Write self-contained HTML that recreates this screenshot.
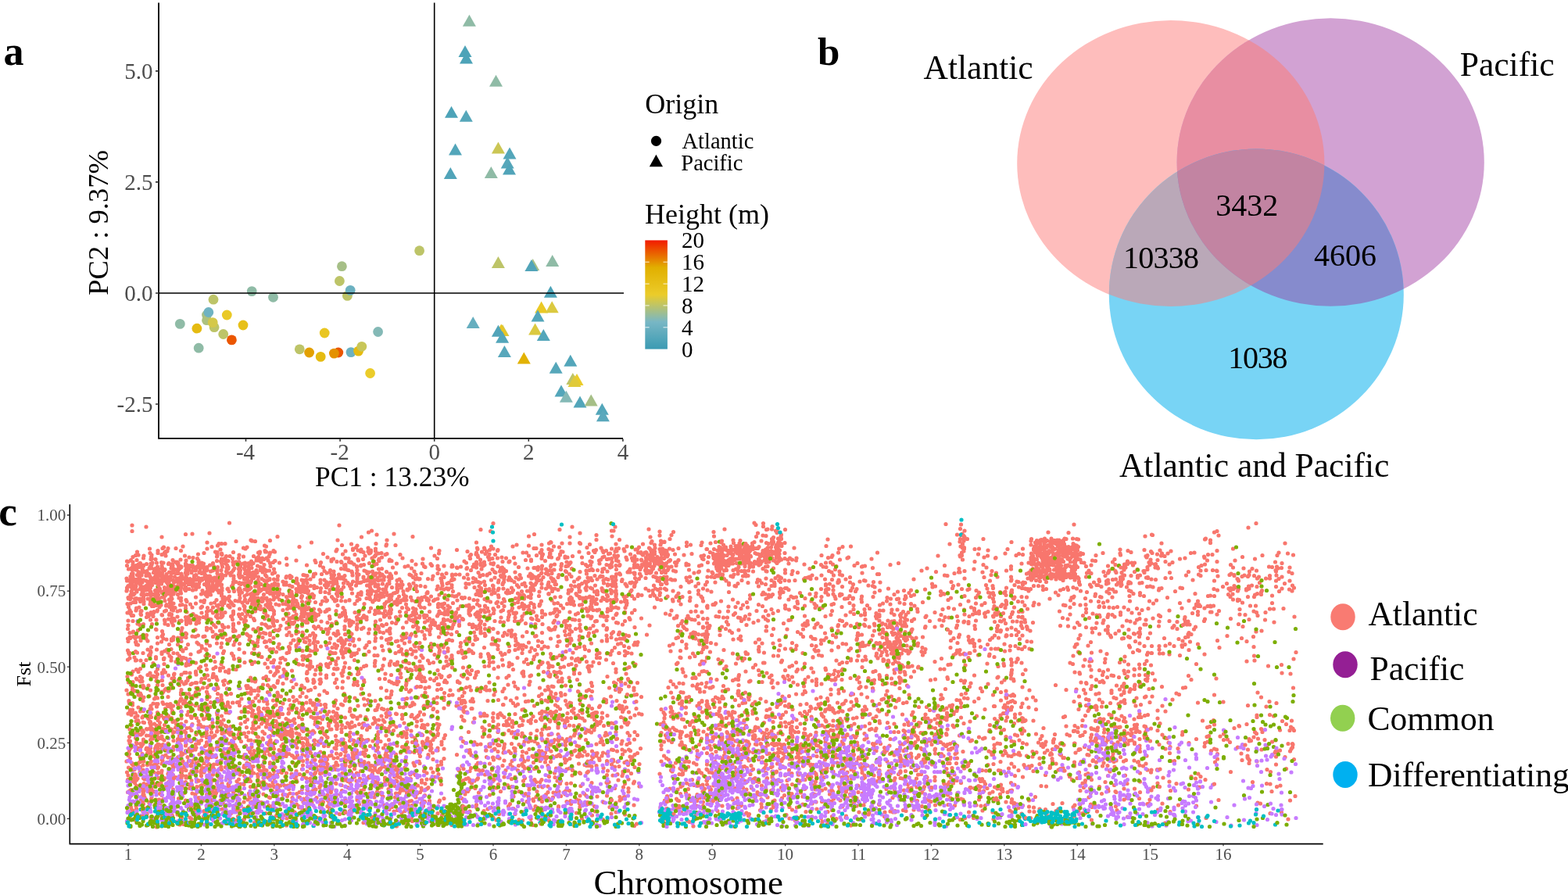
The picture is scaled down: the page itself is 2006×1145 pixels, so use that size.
<!DOCTYPE html>
<html><head><meta charset="utf-8"><title>Figure</title>
<style>html,body{margin:0;padding:0;background:#fff;}svg{display:block;}</style></head>
<body><svg width="2006" height="1145" viewBox="0 0 2006 1145">
<rect width="2006" height="1145" fill="#fff"/>
<g id="pa">
<circle cx="230.3" cy="414.4" r="6.4" fill="#8fbba6"/>
<circle cx="251.9" cy="420.2" r="6.4" fill="#e5bb11"/>
<circle cx="254.2" cy="445.2" r="6.4" fill="#8fbba6"/>
<circle cx="264.5" cy="403" r="6.4" fill="#a6bf87"/>
<circle cx="264.5" cy="409.7" r="6.4" fill="#adc17e"/>
<circle cx="266.8" cy="399.5" r="6.4" fill="#6fb3c2"/>
<circle cx="273" cy="383.2" r="6.4" fill="#bdc468"/>
<circle cx="274.1" cy="418.7" r="6.4" fill="#bdc468"/>
<circle cx="272.2" cy="412.6" r="6.4" fill="#d4c849"/>
<circle cx="285.7" cy="427.5" r="6.4" fill="#bdc468"/>
<circle cx="290.3" cy="403" r="6.4" fill="#eac926"/>
<circle cx="296.4" cy="434.9" r="6.4" fill="#eb5600"/>
<circle cx="311" cy="416" r="6.4" fill="#e7c019"/>
<circle cx="322.2" cy="372.6" r="6.4" fill="#8fbba6"/>
<circle cx="349.5" cy="380.3" r="6.4" fill="#8fbba6"/>
<circle cx="383.3" cy="446.8" r="6.4" fill="#bdc468"/>
<circle cx="395.6" cy="451" r="6.4" fill="#e3a000"/>
<circle cx="410.2" cy="456.4" r="6.4" fill="#e5bb11"/>
<circle cx="415.2" cy="426" r="6.4" fill="#e9c622"/>
<circle cx="432.8" cy="451" r="6.4" fill="#eb5600"/>
<circle cx="427.4" cy="452.1" r="6.4" fill="#e49100"/>
<circle cx="449" cy="450.6" r="6.4" fill="#6cb1c1"/>
<circle cx="458.6" cy="449.1" r="6.4" fill="#e5bb11"/>
<circle cx="462.8" cy="443.3" r="6.4" fill="#c8c658"/>
<circle cx="483.6" cy="424.5" r="6.4" fill="#84b9b6"/>
<circle cx="473.6" cy="477.5" r="6.4" fill="#ebcc2a"/>
<circle cx="437.4" cy="340.7" r="6.4" fill="#a6bf87"/>
<circle cx="434.4" cy="359.5" r="6.4" fill="#bdc468"/>
<circle cx="444.4" cy="378.4" r="6.4" fill="#bdc468"/>
<circle cx="448.2" cy="371.4" r="6.4" fill="#6cb1c1"/>
<circle cx="536.6" cy="320.7" r="6.4" fill="#bdc468"/>
<path d="M600.4 18.8l8.5 15h-17z" fill="#8fbba6"/>
<path d="M595.0 58.0l8.5 15h-17z" fill="#4da3b8"/>
<path d="M596.5 66.5l8.5 15h-17z" fill="#4da3b8"/>
<path d="M634.5 95.8l8.5 15h-17z" fill="#8fbba6"/>
<path d="M577.5 135.8l8.5 15h-17z" fill="#4da3b8"/>
<path d="M596.3 140.8l8.5 15h-17z" fill="#56a7ba"/>
<path d="M582.5 183.5l8.5 15h-17z" fill="#53a6ba"/>
<path d="M637.4 181.6l8.5 15h-17z" fill="#cbc655"/>
<path d="M652.0 188.5l8.5 15h-17z" fill="#53a6ba"/>
<path d="M649.2 200.5l8.5 15h-17z" fill="#56a7ba"/>
<path d="M651.5 208.5l8.5 15h-17z" fill="#51a4b9"/>
<path d="M628.3 213.0l8.5 15h-17z" fill="#8fbba6"/>
<path d="M576.3 213.9l8.5 15h-17z" fill="#51a4b9"/>
<path d="M637.4 327.9l8.5 15h-17z" fill="#bdc468"/>
<path d="M681.7 331.0l8.5 15h-17z" fill="#a6bf87"/>
<path d="M679.9 332.0l8.5 15h-17z" fill="#51a4b9"/>
<path d="M706.7 326.0l8.5 15h-17z" fill="#8fbba6"/>
<path d="M704.4 365.8l8.5 15h-17z" fill="#4da3b8"/>
<path d="M692.6 385.4l8.5 15h-17z" fill="#eac926"/>
<path d="M706.2 385.2l8.5 15h-17z" fill="#dbc940"/>
<path d="M688.0 396.5l8.5 15h-17z" fill="#53a6ba"/>
<path d="M605.2 405.1l8.5 15h-17z" fill="#66aebf"/>
<path d="M643.0 415.0l8.5 15h-17z" fill="#d4c849"/>
<path d="M641.2 414.5l8.5 15h-17z" fill="#e9c622"/>
<path d="M637.4 415.8l8.5 15h-17z" fill="#51a4b9"/>
<path d="M642.6 423.8l8.5 15h-17z" fill="#53a6ba"/>
<path d="M684.6 413.5l8.5 15h-17z" fill="#dbc940"/>
<path d="M695.3 421.0l8.5 15h-17z" fill="#53a6ba"/>
<path d="M645.4 442.0l8.5 15h-17z" fill="#57a7bb"/>
<path d="M670.3 450.5l8.5 15h-17z" fill="#e2b204"/>
<path d="M729.8 453.7l8.5 15h-17z" fill="#53a6ba"/>
<path d="M711.2 462.8l8.5 15h-17z" fill="#56a7ba"/>
<path d="M732.8 477.0l8.5 15h-17z" fill="#bdc468"/>
<path d="M738.0 478.0l8.5 15h-17z" fill="#ebcc2a"/>
<path d="M735.0 480.0l8.5 15h-17z" fill="#e0ca3a"/>
<path d="M718.0 492.5l8.5 15h-17z" fill="#53a6ba"/>
<path d="M724.4 499.8l8.5 15h-17z" fill="#84b9b6"/>
<path d="M742.0 506.6l8.5 15h-17z" fill="#53a6ba"/>
<path d="M756.2 504.4l8.5 15h-17z" fill="#a6bf87"/>
<path d="M770.3 515.7l8.5 15h-17z" fill="#53a6ba"/>
<path d="M771.4 524.3l8.5 15h-17z" fill="#5aa8bc"/>
<path d="M203 375H798M555.7 3.4V560.8" stroke="#000" stroke-width="1.6" fill="none"/>
<path d="M203 3.4V561.7M202.2 560.8H797" stroke="#000" stroke-width="1.8" fill="none"/>
<path d="M314.5 561.5v3.3M435.1 561.5v3.3M555.7 561.5v3.3M676.3 561.5v3.3M796.9 561.5v3.3M199 90.9h4M199 232.9h4M199 375.0h4M199 517.0h4" stroke="#333" stroke-width="1.6" fill="none"/>
<g font-family="Liberation Serif, Times New Roman, serif" fill="#4d4d4d">
<text x="195.5" y="100.6" font-size="29" text-anchor="end" fill="#4d4d4d">5.0</text>
<text x="195.5" y="242.6" font-size="29" text-anchor="end" fill="#4d4d4d">2.5</text>
<text x="195.5" y="384.7" font-size="29" text-anchor="end" fill="#4d4d4d">0.0</text>
<text x="195.5" y="526.8" font-size="29" text-anchor="end" fill="#4d4d4d">-2.5</text>
<text x="314.0" y="587.6" font-size="29" text-anchor="middle" fill="#4d4d4d">-4</text>
<text x="434.6" y="587.6" font-size="29" text-anchor="middle" fill="#4d4d4d">-2</text>
<text x="555.7" y="587.6" font-size="29" text-anchor="middle" fill="#4d4d4d">0</text>
<text x="676.3" y="587.6" font-size="29" text-anchor="middle" fill="#4d4d4d">2</text>
<text x="796.9" y="587.6" font-size="29" text-anchor="middle" fill="#4d4d4d">4</text>
</g>
<g font-family="Liberation Serif, Times New Roman, serif">
<text x="501.8" y="622.3" font-size="35.4" text-anchor="middle" fill="#000">PC1 : 13.23%</text>
<text transform="translate(138.1 284.9) rotate(-90)" font-size="36.5" text-anchor="middle">PC2 : 9.37%</text>
<text x="825.2" y="144.9" font-size="36" text-anchor="start" fill="#000">Origin</text>
<circle cx="839.5" cy="180.4" r="6.6" fill="#000"/>
<path d="M839.4 197.8l8.6 15.4h-17.2z" fill="#000"/>
<text x="872.5" y="190.2" font-size="28.5" text-anchor="start" fill="#000">Atlantic</text>
<text x="871.3" y="217.9" font-size="28.5" text-anchor="start" fill="#000">Pacific</text>
<text x="825.0" y="286.1" font-size="36" text-anchor="start" fill="#000">Height (m)</text>
</g>
<defs><linearGradient id="cb" x1="0" y1="1" x2="0" y2="0"><stop offset="0.00" stop-color="#3b9ab2"/><stop offset="0.05" stop-color="#47a0b6"/><stop offset="0.10" stop-color="#53a6ba"/><stop offset="0.15" stop-color="#60abbd"/><stop offset="0.20" stop-color="#6cb1c1"/><stop offset="0.25" stop-color="#78b7c5"/><stop offset="0.30" stop-color="#8fbba6"/><stop offset="0.35" stop-color="#a6bf87"/><stop offset="0.40" stop-color="#bdc468"/><stop offset="0.45" stop-color="#d4c849"/><stop offset="0.50" stop-color="#ebcc2a"/><stop offset="0.55" stop-color="#e9c622"/><stop offset="0.60" stop-color="#e7c019"/><stop offset="0.65" stop-color="#e5bb11"/><stop offset="0.70" stop-color="#e3b508"/><stop offset="0.75" stop-color="#e1af00"/><stop offset="0.80" stop-color="#e49100"/><stop offset="0.85" stop-color="#e87300"/><stop offset="0.90" stop-color="#eb5600"/><stop offset="0.95" stop-color="#ef3800"/><stop offset="1.00" stop-color="#f21a00"/></linearGradient></defs>
<rect x="825.3" y="307.4" width="28.6" height="139.2" fill="url(#cb)"/>
<path d="M825.3 418.8h5.4M848.5 418.8h5.4M825.3 390.9h5.4M848.5 390.9h5.4M825.3 363.1h5.4M848.5 363.1h5.4M825.3 335.2h5.4M848.5 335.2h5.4" stroke="#fff" stroke-width="1" opacity="0.85"/>
<g font-family="Liberation Serif, Times New Roman, serif">
<text x="872.0" y="456.6" font-size="29" text-anchor="start" fill="#000">0</text>
<text x="872.0" y="428.8" font-size="29" text-anchor="start" fill="#000">4</text>
<text x="872.0" y="400.9" font-size="29" text-anchor="start" fill="#000">8</text>
<text x="872.0" y="373.1" font-size="29" text-anchor="start" fill="#000">12</text>
<text x="872.0" y="345.2" font-size="29" text-anchor="start" fill="#000">16</text>
<text x="872.0" y="317.4" font-size="29" text-anchor="start" fill="#000">20</text>
</g>
</g>
<defs><clipPath id="cA"><ellipse cx="1497.8" cy="209" rx="196.6" ry="183"/></clipPath><clipPath id="cP"><ellipse cx="1702.2" cy="207.5" rx="196.6" ry="184.3"/></clipPath></defs>
<ellipse cx="1497.8" cy="209" rx="196.6" ry="183" fill="#febdbc"/>
<ellipse cx="1702.2" cy="207.5" rx="196.6" ry="184.3" fill="#d2a2d3"/>
<ellipse cx="1702.2" cy="207.5" rx="196.6" ry="184.3" fill="#e88ea2" clip-path="url(#cA)"/>
<ellipse cx="1607.3" cy="376.4" rx="188.5" ry="185.9" fill="#78d4f5"/>
<ellipse cx="1607.3" cy="376.4" rx="188.5" ry="185.9" fill="#baa8b8" clip-path="url(#cA)"/>
<ellipse cx="1607.3" cy="376.4" rx="188.5" ry="185.9" fill="#868bcd" clip-path="url(#cP)"/>
<g clip-path="url(#cA)"><ellipse cx="1607.3" cy="376.4" rx="188.5" ry="185.9" fill="#c284a2" clip-path="url(#cP)"/></g>
<g font-family="Liberation Serif, Times New Roman, serif">
<text x="1181.5" y="101.1" font-size="43.5" text-anchor="start" fill="#000">Atlantic</text>
<text x="1867.8" y="97.4" font-size="43.5" text-anchor="start" fill="#000">Pacific</text>
<text x="1431.9" y="609.6" font-size="43.5" text-anchor="start" fill="#000">Atlantic and Pacific</text>
<text x="1555.2" y="276.4" font-size="40" text-anchor="start" fill="#000">3432</text>
<text x="1436.9" y="342.5" font-size="40" text-anchor="start" fill="#000" letter-spacing="-0.7">10338</text>
<text x="1680.9" y="340.2" font-size="40" text-anchor="start" fill="#000">4606</text>
<text x="1571.2" y="470.5" font-size="40" text-anchor="start" fill="#000" letter-spacing="-1.2">1038</text>
</g>
<g font-family="Liberation Serif, Times New Roman, serif" font-weight="bold">
<text x="4.4" y="83.3" font-size="52" text-anchor="start" fill="#000">a</text>
<text x="1046.1" y="83.2" font-size="51" text-anchor="start" fill="#000">b</text>
<text x="-1.8" y="672.3" font-size="53" text-anchor="start" fill="#000">c</text>
</g>
<g fill="none" stroke-linecap="round" stroke-width="10.4" transform="scale(0.5)">
<path stroke="#F8766D" d="M338 1344h0m0 15h0m2 66h0m-5 8h0m0 1h0m-10 2h0m3 1h0m12 1h0m0 7h0m-15 2h0m14 4h0m-3 3h0m7 1h0m-14 1h0m11 1h0m-2 1h0m1 9h0m1 0h0m-3 1h0m3 1h0m0 1h0m-1 3h0m0 2h0m-5 0h0m6 1h0m-16 4h0m15 1h0m2 0h0m-3 2h0m-6 1h0m7 2h0m-14 0h0m9 1h0m6 1h0m-6 4h0m0 3h0m5 2h0m-11 2h0m15 1h0m-3 1h0m-5 0h0m-8 0h0m12 2h0m-14 1h0m16 0h0m-3 5h0m-13 0h0m-1 3h0m12 1h0m1 5h0m7 1h0m-3 3h0m-7 0h0m-6 7h0m5 1h0m2 0h0m-6 2h0m4 1h0m8 8h0m-7 3h0m-8 1h0m3 8h0m3 8h0m3 5h0m-9 2h0m8 2h0m3 5h0m4 0h0m-13 13h0m12 1h0m-12 11h0m-1 9h0m14 7h0m-1 2h0m-8 1h0m9 10h0m-9 1h0m1 3h0m-6 1h0m1 7h0m-1 23h0m4 6h0m-2 0h0m1 2h0m1 2h0m13 8h0m-12 2h0m-5 4h0m13 30h0m-3 8h0m-11 5h0m14 14h0m0 1h0m-11 0h0m6 6h0m4 5h0m0 7h0m-15 2h0m16 0h0m-1 2h0m-11 8h0m2 17h0m0 2h0m9 4h0m-8 1h0m8 4h0m-6 12h0m6 0h0m-7 6h0m7 1h0m-11 3h0m8 3h0m1 27h0m-5 10h0m8 4h0m1 9h0m-10 6h0m-1 10h0m3 1h0m-1 6h0m4 6h0m3 0h0m-2 3h0m-3 3h0m-3 4h0m0 1h0m-3 8h0m3 2h0m-1 0h0m-2 4h0m5 8h0m-9 7h0m13 4h0m1 3h0m3 3h0m-12 6h0m6 3h0m9 2h0m-7 0h0m-12 7h0m3 8h0m11 3h0m-1 5h0m5 0h0m-16 3h0m14 4h0m-8 3h0m10 18h0m-8 1h0m-4 3h0m-4 3h0m6 3h0m2 6h0m3 16h0m-3 13h0m1 5h0m4 4h0m0 1h0m-13 1h0m8 1h0m-2 18h0"/>
<path stroke="#C77CFF" d="M339 1907h0m-11 7h0m0 32h0m6 3h0m6 30h0m0 5h0m-14 15h0m6 4h0m-4 7h0m0 17h0m9 4h0m6 1h0m-8 0h0m-3 8h0m-1 6h0m9 4h0m-6 1h0m-1 7h0m-5 3h0m2 15h0m-4 3h0m12 4h0m-10 13h0m5 1h0m-8 4h0"/>
<path stroke="#7CAE00" d="M341 1671h0m-14 51h0m7 1h0m-7 16h0m6 6h0m6 7h0m-4 21h0m1 2h0m3 1h0m5 7h0m-10 18h0m-9 9h0m11 35h0m-2 9h0m-9 5h0m14 10h0m-5 6h0m2 2h0m4 2h0m-5 29h0m-11 21h0m10 41h0m6 12h0m-6 10h0m-1 16h0m7 14h0m-6 36h0m-9 9h0m11 16h0m-3 4h0m-5 7h0m15 1h0m-1 2h0m-6 1h0m-10 8h0m8 7h0m0 2h0"/>
<path stroke="#00BFC4" d="M342 2081h0m-7 4h0m-8 19h0m3 8h0m0 2h0"/>
<path stroke="#F8766D" d="M351 1412h0m3 8h0m-7 1h0m3 12h0m9 8h0m-1 0h0m-4 3h0m0 1h0m6 1h0m0 0h0m-12 1h0m11 0h0m-7 1h0m6 0h0m-11 0h0m16 3h0m-7 0h0m-8 2h0m2 1h0m-2 4h0m6 5h0m6 3h0m-1 2h0m0 0h0m3 3h0m-2 0h0m-9 0h0m9 1h0m2 0h0m-6 4h0m1 0h0m-6 6h0m8 0h0m-4 0h0m-9 1h0m11 4h0m1 0h0m-12 2h0m12 0h0m2 1h0m4 0h0m-12 1h0m7 4h0m-11 2h0m12 1h0m-12 1h0m-1 3h0m13 2h0m2 1h0m-4 2h0m-11 1h0m2 2h0m1 4h0m12 7h0m-14 10h0m-3 1h0m14 0h0m-7 0h0m5 2h0m2 1h0m0 4h0m-12 2h0m9 13h0m-7 2h0m0 3h0m-1 3h0m14 1h0m-2 1h0m0 7h0m1 2h0m-9 23h0m6 3h0m-5 14h0m-3 16h0m10 0h0m-14 0h0m13 2h0m-13 2h0m14 6h0m-12 3h0m-1 1h0m2 6h0m4 1h0m-6 17h0m4 3h0m-2 19h0m11 1h0m-13 0h0m12 21h0m-10 2h0m5 3h0m0 3h0m5 12h0m4 3h0m-14 2h0m1 2h0m8 4h0m6 1h0m-4 1h0m-15 24h0m2 0h0m12 6h0m2 4h0m-7 0h0m4 1h0m2 7h0m-6 24h0m5 10h0m-12 4h0m5 8h0m-6 3h0m18 1h0m-11 7h0m-5 2h0m7 4h0m7 19h0m-10 3h0m-1 0h0m-3 6h0m16 0h0m-9 2h0m6 0h0m-1 1h0m-10 7h0m-1 0h0m0 0h0m-2 1h0m2 3h0m0 9h0m1 2h0m9 1h0m3 6h0m-15 1h0m0 3h0m7 1h0m5 3h0m-6 0h0m6 3h0m-1 16h0m1 12h0m2 0h0m-2 1h0m-4 3h0m-11 3h0m8 3h0m7 5h0m-1 13h0m-12 5h0m13 1h0m-11 3h0m-3 1h0m0 1h0m7 5h0m-3 4h0m-4 7h0m14 5h0m-10 2h0m0 10h0m3 0h0m-1 16h0m10 10h0m-12 6h0m-2 1h0m6 1h0m6 3h0m-6 1h0m-5 4h0m1 7h0m3 22h0m-3 10h0"/>
<path stroke="#C77CFF" d="M352 1589h0m-2 294h0m-4 29h0m13 7h0m-13 2h0m9 43h0m-10 2h0m11 1h0m2 12h0m1 4h0m-1 35h0m-12 1h0m14 0h0m-4 6h0m-7 5h0m12 9h0m-10 0h0m-1 9h0m12 5h0m-3 2h0m-12 0h0m11 4h0m-8 17h0m-1 2h0m0 4h0m2 4h0m9 1h0m-1 23h0"/>
<path stroke="#7CAE00" d="M359 1586h0m-5 4h0m5 19h0m-10 12h0m-1 134h0m12 1h0m-8 13h0m7 20h0m3 25h0m-10 39h0m8 9h0m-12 2h0m4 5h0m-1 22h0m0 38h0m9 12h0m-12 13h0m13 27h0m-2 29h0m-12 6h0m2 1h0m-1 22h0m5 14h0m-4 5h0m2 26h0m-4 4h0m12 2h0m-2 3h0m-7 12h0m6 2h0m7 3h0m-5 3h0"/>
<path stroke="#00BFC4" d="M360 2071h0m-7 19h0m-2 7h0"/>
<path stroke="#F8766D" d="M374 1348h0m9 56h0m1 11h0m-16 7h0m-1 6h0m8 15h0m-8 3h0m0 2h0m-1 0h0m18 2h0m-20 2h0m18 2h0m-17 3h0m-1 2h0m12 2h0m-6 1h0m0 2h0m-5 0h0m12 2h0m5 3h0m-8 4h0m8 0h0m2 2h0m-17 9h0m7 2h0m3 2h0m5 6h0m1 0h0m-7 4h0m-1 0h0m-1 2h0m-3 1h0m-5 1h0m17 2h0m-14 0h0m14 0h0m1 0h0m-15 1h0m4 1h0m-7 3h0m12 0h0m-10 1h0m5 0h0m-6 2h0m0 0h0m-3 2h0m20 3h0m-15 4h0m7 0h0m-9 7h0m11 4h0m-11 1h0m-1 1h0m2 5h0m0 6h0m9 25h0m3 7h0m-5 2h0m-8 18h0m0 27h0m8 1h0m-8 4h0m-2 2h0m9 3h0m4 6h0m0 22h0m-12 9h0m18 6h0m-3 0h0m-7 12h0m-7 10h0m11 28h0m-12 27h0m14 0h0m-12 4h0m-1 2h0m15 21h0m-14 3h0m-2 9h0m1 26h0m-1 14h0m11 2h0m3 4h0m4 7h0m-18 2h0m17 0h0m-14 1h0m15 2h0m-1 13h0m-8 1h0m1 1h0m-11 3h0m2 4h0m8 9h0m8 0h0m-16 10h0m0 3h0m1 0h0m-1 1h0m-1 7h0m-2 2h0m19 8h0m-8 1h0m2 2h0m-3 1h0m9 0h0m-5 2h0m-1 8h0m-13 2h0m3 11h0m1 8h0m9 9h0m-11 1h0m0 0h0m0 12h0m11 2h0m-2 15h0m-8 4h0m11 0h0m-9 0h0m1 3h0m13 4h0m-15 7h0m10 1h0m-2 1h0m-3 2h0m-6 6h0m-2 0h0m2 1h0m10 3h0m7 1h0m-16 4h0m-2 1h0m0 7h0m2 1h0m0 2h0m2 5h0m3 5h0m-7 5h0m17 3h0m-1 1h0m0 1h0m-15 2h0m12 11h0m-11 0h0m6 0h0m-9 4h0m1 5h0m10 5h0m-10 6h0"/>
<path stroke="#C77CFF" d="M369 1815h0m-4 117h0m11 37h0m-9 7h0m7 1h0m4 9h0m-10 1h0m10 2h0m0 7h0m3 4h0m3 2h0m-17 9h0m9 6h0m2 8h0m-10 19h0m16 23h0m-13 7h0m-4 5h0m6 5h0m-6 12h0"/>
<path stroke="#7CAE00" d="M373 1556h0m-7 47h0m13 9h0m-13 13h0m1 7h0m17 53h0m-17 19h0m10 58h0m3 20h0m-1 39h0m-6 10h0m8 1h0m-7 66h0m0 35h0m-8 7h0m12 12h0m-3 96h0m-11 13h0m15 4h0m-13 4h0m9 20h0m-9 12h0m15 7h0m-3 3h0m-3 1h0"/>
<path stroke="#00BFC4" d="M378 2071h0m6 3h0m-10 17h0m-8 2h0m1 1h0m16 11h0m-4 3h0"/>
<path stroke="#F8766D" d="M404 1409h0m-16 11h0m-1 5h0m1 2h0m0 3h0m-2 1h0m12 0h0m-8 9h0m11 0h0m-15 2h0m2 3h0m15 5h0m0 4h0m-17 0h0m2 0h0m9 1h0m-2 5h0m4 4h0m-6 1h0m10 1h0m0 3h0m-4 2h0m1 2h0m4 0h0m-7 2h0m2 2h0m-5 2h0m-8 0h0m0 2h0m0 1h0m16 1h0m1 0h0m-13 0h0m4 1h0m6 0h0m-11 0h0m-2 1h0m0 1h0m17 0h0m-20 1h0m1 1h0m1 0h0m15 1h0m-3 2h0m-12 0h0m2 1h0m15 0h0m-16 2h0m2 3h0m-5 3h0m1 3h0m19 1h0m-20 1h0m15 5h0m-2 1h0m-11 3h0m14 2h0m-1 0h0m0 0h0m-13 0h0m0 1h0m6 4h0m-4 1h0m-3 0h0m0 1h0m18 1h0m-5 2h0m0 2h0m-1 2h0m-11 0h0m7 2h0m-9 1h0m20 0h0m-19 2h0m12 1h0m-12 3h0m1 1h0m1 2h0m6 3h0m-6 1h0m-3 0h0m18 2h0m-3 1h0m-6 2h0m-4 0h0m14 10h0m-1 3h0m-8 1h0m-8 2h0m7 1h0m-2 3h0m-7 1h0m8 5h0m8 9h0m-15 0h0m4 11h0m10 13h0m1 1h0m3 20h0m0 15h0m-16 10h0m14 6h0m-16 4h0m1 3h0m-2 4h0m15 8h0m0 4h0m-7 12h0m11 15h0m-4 7h0m-15 3h0m19 3h0m-10 5h0m-3 0h0m5 1h0m5 0h0m-13 1h0m13 1h0m0 9h0m3 2h0m0 9h0m0 13h0m-18 0h0m14 17h0m4 3h0m-8 2h0m-3 12h0m12 1h0m-4 0h0m-14 5h0m15 2h0m-14 6h0m-3 0h0m4 0h0m15 9h0m-17 2h0m17 4h0m-18 4h0m15 0h0m-13 2h0m17 0h0m-19 13h0m10 4h0m5 4h0m-14 0h0m18 5h0m-15 3h0m10 1h0m-7 2h0m-6 0h0m9 2h0m6 2h0m0 1h0m-3 3h0m4 4h0m-13 2h0m9 0h0m2 3h0m-12 6h0m3 0h0m13 1h0m-19 2h0m0 11h0m15 4h0m0 3h0m-1 0h0m4 1h0m-3 1h0m-15 1h0m12 1h0m2 2h0m-2 5h0m-11 2h0m-1 3h0m14 0h0m-2 3h0m-11 3h0m8 2h0m5 7h0m1 4h0m-13 2h0m16 4h0m-19 2h0m15 2h0m-5 1h0m-6 4h0m3 4h0m12 1h0m-9 10h0m10 2h0m-17 6h0m2 9h0m2 6h0m12 5h0m-4 2h0m1 0h0m-13 3h0m7 1h0m-8 4h0m2 3h0m-3 5h0m9 3h0m-10 1h0m13 0h0m-9 5h0m0 4h0m0 4h0m-1 6h0m12 1h0m-14 6h0m12 6h0m0 1h0m-8 31h0m-3 1h0m5 2h0m10 23h0"/>
<path stroke="#C77CFF" d="M384 1823h0m3 53h0m-2 32h0m16 12h0m1 10h0m1 9h0m-7 8h0m7 1h0m-7 15h0m-8 1h0m-1 19h0m14 0h0m0 1h0m-16 14h0m2 12h0m13 15h0m0 9h0m-12 1h0m16 13h0m-20 10h0m17 2h0m3 5h0m-20 10h0m2 2h0m18 4h0m-1 4h0m-7 11h0m8 11h0"/>
<path stroke="#7CAE00" d="M404 1500h0m-12 34h0m4 4h0m5 58h0m-14 8h0m8 97h0m9 4h0m-15 0h0m-3 33h0m14 22h0m0 7h0m-2 8h0m1 62h0m1 29h0m-3 18h0m6 3h0m-2 7h0m-13 7h0m16 23h0m-5 6h0m4 6h0m-18 1h0m-1 3h0m6 33h0m-5 3h0m1 5h0m10 11h0m-8 2h0m15 9h0m-14 0h0m-5 9h0m14 1h0m-12 18h0m11 16h0m-9 3h0m12 3h0m-4 8h0m1 5h0m-9 23h0m14 1h0m-2 1h0m-1 3h0m2 0h0m-14 6h0m-2 1h0m8 1h0m7 3h0m-16 0h0m15 0h0m-3 1h0m-10 2h0m17 1h0m-12 6h0m13 0h0"/>
<path stroke="#00BFC4" d="M400 2068h0m-3 8h0m6 26h0"/>
<path stroke="#F8766D" d="M414 1374h0m5 26h0m-3 3h0m8 8h0m0 2h0m-3 1h0m-17 1h0m10 4h0m10 3h0m-11 17h0m5 1h0m-4 8h0m1 4h0m0 3h0m-8 1h0m15 1h0m-18 2h0m17 0h0m-3 1h0m-10 4h0m7 1h0m-7 1h0m0 0h0m-3 5h0m11 1h0m-4 2h0m10 2h0m-3 1h0m3 1h0m-1 1h0m0 0h0m-2 1h0m-15 1h0m10 2h0m1 0h0m-4 1h0m12 1h0m-10 2h0m-1 0h0m3 1h0m-10 5h0m8 1h0m-7 2h0m-1 1h0m16 6h0m-13 2h0m1 1h0m-2 0h0m14 4h0m0 3h0m-16 0h0m9 1h0m4 2h0m-3 1h0m8 1h0m-18 4h0m10 6h0m5 0h0m-13 3h0m-3 3h0m18 3h0m-10 11h0m-3 0h0m-1 5h0m13 11h0m-7 9h0m1 1h0m6 12h0m1 4h0m0 6h0m-7 19h0m2 8h0m-2 4h0m-1 1h0m4 6h0m-5 8h0m8 24h0m-7 3h0m0 4h0m6 11h0m-1 1h0m0 2h0m1 12h0m-1 15h0m4 6h0m-8 1h0m0 2h0m0 1h0m0 17h0m-1 0h0m-9 3h0m11 9h0m6 12h0m-8 5h0m4 0h0m-3 4h0m1 23h0m2 4h0m5 12h0m-10 18h0m10 5h0m-17 0h0m13 1h0m2 3h0m-17 3h0m5 6h0m12 6h0m-13 3h0m10 7h0m-3 0h0m8 2h0m0 3h0m-6 1h0m-8 3h0m5 10h0m-9 3h0m2 2h0m8 1h0m5 4h0m-16 10h0m13 1h0m-10 0h0m5 2h0m4 0h0m6 2h0m-7 1h0m-1 4h0m-10 2h0m11 2h0m1 17h0m1 2h0m-3 7h0m2 2h0m-2 8h0m-9 9h0m9 9h0m-9 5h0m8 0h0m2 8h0m6 6h0m-15 0h0m8 1h0m6 2h0m-6 2h0m-2 7h0m-6 5h0m2 1h0m16 4h0m-9 3h0m-2 2h0m1 1h0m-5 12h0m5 4h0m4 10h0m-11 1h0m6 2h0m-3 8h0m-1 12h0m10 9h0m2 3h0m1 6h0m-7 4h0m-1 7h0"/>
<path stroke="#C77CFF" d="M405 1704h0m11 28h0m7 175h0m-5 9h0m-4 22h0m7 16h0m-6 60h0m-1 1h0m1 9h0m0 10h0m7 10h0m-12 8h0m-3 2h0m7 11h0m0 2h0m-9 1h0m17 7h0m-7 0h0m8 5h0m-8 8h0m-1 1h0m-1 8h0m10 0h0m-8 3h0m2 9h0m6 2h0"/>
<path stroke="#7CAE00" d="M420 1520h0m-8 20h0m-7 2h0m-1 202h0m0 21h0m9 8h0m2 11h0m9 33h0m-5 6h0m-14 4h0m2 35h0m7 10h0m8 1h0m1 47h0m-12 4h0m11 35h0m-2 0h0m-6 27h0m-2 8h0m4 1h0m-1 16h0m4 8h0m-10 1h0m7 30h0m4 11h0m2 3h0m-2 6h0m-14 7h0m6 0h0m3 2h0m-2 3h0m-9 6h0m18 3h0m-7 2h0m0 0h0m1 14h0m0 5h0m7 1h0m-9 1h0"/>
<path stroke="#00BFC4" d="M415 2077h0m-1 2h0m-10 2h0m17 1h0m0 9h0m2 1h0m-9 21h0"/>
<path stroke="#F8766D" d="M430 1403h0m-2 7h0m14 23h0m-10 8h0m-1 2h0m10 0h0m1 4h0m-3 1h0m0 0h0m3 4h0m-4 2h0m4 1h0m1 6h0m1 2h0m-5 1h0m-6 0h0m6 2h0m3 0h0m-16 3h0m11 5h0m-11 0h0m11 1h0m-5 2h0m4 0h0m-10 0h0m3 1h0m2 2h0m11 4h0m-15 0h0m6 1h0m0 1h0m-7 3h0m4 4h0m-1 0h0m4 1h0m-1 1h0m-1 0h0m2 0h0m-1 1h0m5 1h0m6 1h0m-12 2h0m12 3h0m-10 1h0m5 1h0m-6 0h0m-1 0h0m11 0h0m1 1h0m-15 1h0m14 1h0m-4 4h0m-8 2h0m7 3h0m-10 1h0m14 0h0m3 0h0m-13 1h0m-7 4h0m14 3h0m2 6h0m-7 2h0m4 2h0m-2 6h0m7 2h0m-16 3h0m10 3h0m-11 0h0m9 3h0m8 1h0m-3 6h0m4 2h0m-18 0h0m9 8h0m5 2h0m-6 1h0m7 8h0m-9 3h0m8 6h0m1 3h0m-10 6h0m13 1h0m-4 35h0m-13 1h0m17 1h0m-4 2h0m-6 10h0m5 12h0m-11 1h0m3 8h0m14 1h0m-10 7h0m4 4h0m0 8h0m-7 38h0m9 8h0m-2 12h0m-2 1h0m3 4h0m-2 8h0m-12 1h0m0 0h0m6 3h0m1 2h0m-1 1h0m-1 15h0m6 18h0m-9 1h0m4 1h0m12 3h0m-9 0h0m-4 1h0m8 4h0m3 8h0m0 5h0m-12 6h0m2 2h0m-1 2h0m9 3h0m-9 4h0m13 3h0m1 2h0m-2 1h0m-7 18h0m4 1h0m-15 2h0m9 1h0m10 5h0m-1 9h0m-12 19h0m-6 14h0m19 3h0m-13 3h0m-6 10h0m6 6h0m8 0h0m-8 13h0m4 2h0m9 4h0m-1 1h0m2 5h0m-1 4h0m-6 1h0m1 5h0m-6 3h0m8 4h0m-10 0h0m13 3h0m-1 15h0m-11 3h0m0 6h0m-1 1h0m9 2h0m-10 2h0m14 8h0m-13 0h0m0 2h0m12 12h0m1 7h0m0 1h0m-3 12h0m2 5h0m-1 10h0m3 1h0m-11 2h0m7 6h0m-9 2h0m-1 2h0m11 5h0m-9 4h0m9 4h0"/>
<path stroke="#C77CFF" d="M426 1841h0m-1 30h0m5 2h0m1 16h0m-6 22h0m7 4h0m6 2h0m-3 1h0m-4 6h0m7 18h0m2 2h0m-3 3h0m-11 4h0m14 0h0m-8 1h0m11 18h0m-11 2h0m4 3h0m-3 7h0m0 0h0m9 0h0m-3 1h0m-3 3h0m2 0h0m0 1h0m-8 1h0m10 2h0m-9 0h0m11 1h0m1 2h0m0 1h0m-7 1h0m-6 8h0m12 0h0m-17 2h0m6 0h0m6 1h0m3 1h0m2 0h0m-7 6h0m-7 4h0m2 4h0m1 0h0m12 3h0m-12 1h0m2 3h0m11 1h0m-13 2h0m13 0h0m-8 0h0m8 3h0m-13 4h0m0 1h0m-2 0h0m2 1h0m-1 0h0m7 0h0m2 4h0m4 2h0m-18 3h0m17 0h0m2 4h0m-3 3h0m2 2h0m-7 0h0m7 0h0m-12 9h0m-6 0h0m18 5h0m-18 2h0m14 4h0m-13 5h0m6 4h0m7 3h0m-8 4h0m-4 2h0m11 2h0m-2 1h0m-8 2h0m7 2h0"/>
<path stroke="#7CAE00" d="M438 1499h0m-6 164h0m-3 42h0m8 46h0m6 9h0m-12 1h0m13 63h0m0 1h0m-19 1h0m13 14h0m-13 7h0m5 12h0m5 10h0m8 16h0m-15 2h0m4 18h0m6 17h0m6 9h0m-1 11h0m-11 25h0m10 59h0m-1 5h0m-3 34h0m-12 7h0m10 3h0m-6 0h0m1 17h0m12 1h0m-4 1h0m3 0h0m-16 3h0m12 1h0m2 7h0m-16 0h0m16 4h0m2 2h0m-12 0h0m1 4h0"/>
<path stroke="#00BFC4" d="M441 2096h0m-8 10h0"/>
<path stroke="#F8766D" d="M450 1403h0m13 6h0m-1 23h0m-13 6h0m4 0h0m0 3h0m3 0h0m0 5h0m6 3h0m-3 0h0m0 0h0m5 1h0m-4 0h0m3 2h0m-7 3h0m3 0h0m-2 2h0m-10 0h0m8 3h0m0 1h0m-5 6h0m6 0h0m8 1h0m-17 8h0m15 1h0m-2 2h0m-5 1h0m1 1h0m8 0h0m-10 2h0m-3 2h0m11 2h0m-16 1h0m5 0h0m4 1h0m-10 1h0m18 6h0m-8 3h0m-2 1h0m1 1h0m10 1h0m-15 4h0m13 0h0m-4 3h0m-9 3h0m13 1h0m0 4h0m1 1h0m-19 2h0m11 1h0m3 9h0m5 0h0m0 7h0m-19 7h0m17 4h0m-13 7h0m13 7h0m-7 2h0m0 14h0m-9 5h0m19 5h0m-17 0h0m12 1h0m5 25h0m0 8h0m-20 8h0m11 2h0m8 0h0m1 9h0m-9 8h0m-1 23h0m5 6h0m-5 8h0m10 3h0m-14 4h0m6 4h0m-10 27h0m-1 2h0m0 9h0m12 5h0m-12 3h0m18 1h0m-4 9h0m4 19h0m0 5h0m0 11h0m0 4h0m-2 1h0m-1 1h0m-4 8h0m-1 0h0m7 7h0m2 11h0m0 18h0m-12 5h0m-1 10h0m12 1h0m-5 7h0m-9 1h0m7 4h0m6 2h0m-9 4h0m-8 1h0m18 0h0m-2 5h0m-2 5h0m2 8h0m-6 0h0m-11 4h0m11 3h0m1 2h0m3 3h0m3 3h0m-6 4h0m-12 1h0m17 1h0m2 5h0m-7 20h0m0 1h0m-1 0h0m7 0h0m0 1h0m-14 4h0m16 10h0m-18 4h0m8 1h0m-7 1h0m9 1h0m8 16h0m-14 13h0m-5 2h0m19 8h0m0 20h0m-9 1h0m2 23h0m-1 10h0m-2 11h0m-6 2h0m7 17h0m-1 1h0m8 24h0m-2 2h0"/>
<path stroke="#C77CFF" d="M463 1634h0m-7 65h0m-7 11h0m15 111h0m-8 41h0m-1 12h0m8 10h0m-5 16h0m-4 3h0m9 6h0m-8 1h0m9 5h0m-10 3h0m9 3h0m-3 14h0m4 5h0m-15 2h0m6 5h0m-10 0h0m6 9h0m3 6h0m10 2h0m-8 5h0m3 17h0m-4 7h0m7 17h0m-9 4h0m5 1h0m4 4h0m-8 4h0m9 2h0m1 10h0m-1 1h0m-7 15h0m-1 0h0m5 2h0m-9 1h0m5 1h0m-1 6h0m-8 4h0m16 2h0m-14 9h0m6 1h0m8 18h0m-8 6h0"/>
<path stroke="#7CAE00" d="M454 1504h0m-3 4h0m7 86h0m-3 15h0m0 27h0m1 4h0m6 15h0m1 6h0m-8 26h0m1 9h0m4 40h0m-14 7h0m10 7h0m-6 46h0m6 15h0m8 19h0m-9 11h0m2 13h0m-1 1h0m7 4h0m1 16h0m-12 34h0m12 33h0m-3 12h0m3 22h0m-4 27h0m1 26h0m1 5h0m-7 29h0m-1 16h0m6 7h0m3 7h0m1 7h0m-11 5h0m7 0h0m0 2h0m-5 1h0"/>
<path stroke="#00BFC4" d="M461 2098h0m-16 3h0m9 5h0"/>
<path stroke="#F8766D" d="M475 1367h0m-7 31h0m5 24h0m11 4h0m-8 8h0m-1 8h0m4 4h0m-4 1h0m2 0h0m-1 2h0m1 1h0m7 5h0m-8 3h0m5 1h0m-3 0h0m3 1h0m-6 5h0m0 1h0m5 2h0m-4 4h0m0 1h0m-11 0h0m10 5h0m2 0h0m-4 1h0m-9 0h0m12 0h0m-2 2h0m-1 0h0m-8 1h0m18 2h0m-8 2h0m2 3h0m-2 2h0m-9 2h0m17 1h0m0 1h0m-12 1h0m4 6h0m1 3h0m0 0h0m-4 2h0m2 0h0m10 0h0m-9 4h0m1 24h0m2 4h0m-12 8h0m9 3h0m0 7h0m3 9h0m5 12h0m-8 1h0m1 8h0m0 0h0m6 0h0m-18 2h0m13 3h0m0 5h0m-11 10h0m9 13h0m2 2h0m-9 7h0m8 2h0m-12 1h0m17 17h0m-5 10h0m-10 4h0m2 3h0m2 17h0m-5 0h0m11 2h0m4 9h0m-4 5h0m7 2h0m-7 2h0m0 18h0m-4 0h0m-8 5h0m17 9h0m-1 6h0m-4 3h0m-12 0h0m12 4h0m-5 2h0m-7 15h0m19 10h0m-8 0h0m1 13h0m-12 0h0m9 5h0m3 7h0m-7 0h0m12 1h0m2 3h0m-1 17h0m-3 8h0m-3 17h0m-12 6h0m14 11h0m-6 8h0m3 3h0m2 8h0m0 6h0m3 1h0m-11 4h0m15 1h0m-20 0h0m12 10h0m-1 4h0m0 13h0m-1 5h0m-10 0h0m3 4h0m-3 2h0m16 5h0m3 9h0m-15 2h0m10 6h0m-2 3h0m-4 1h0m3 1h0m-3 5h0m-8 5h0m12 2h0m-10 2h0m-2 10h0m3 1h0m9 2h0m2 4h0m-2 0h0m-12 1h0m11 10h0m-2 4h0m6 1h0m-13 6h0m9 5h0m-3 12h0m3 19h0m1 3h0m6 10h0m-17 30h0m10 16h0m-5 2h0"/>
<path stroke="#C77CFF" d="M471 1856h0m-6 6h0m15 21h0m2 10h0m-7 5h0m0 1h0m1 24h0m-1 31h0m4 6h0m-15 38h0m1 6h0m10 2h0m-11 11h0m11 7h0m-10 4h0m-1 1h0m3 9h0m15 21h0m1 1h0m-6 3h0m-9 11h0m2 28h0"/>
<path stroke="#7CAE00" d="M475 1564h0m-8 59h0m-2 75h0m4 77h0m8 9h0m7 17h0m-1 2h0m0 3h0m-7 1h0m-12 54h0m20 22h0m-3 39h0m0 85h0m-6 11h0m-1 9h0m-10 15h0m17 7h0m-10 6h0m12 16h0m-14 7h0m6 2h0m3 6h0m-14 1h0m0 17h0m15 0h0m-3 1h0m0 6h0m7 1h0"/>
<path stroke="#00BFC4" d="M465 2082h0m10 0h0m1 3h0m-1 10h0m8 10h0"/>
<path stroke="#F8766D" d="M492 1366h0m2 61h0m-7 20h0m6 0h0m10 3h0m-11 0h0m6 2h0m-4 0h0m7 3h0m0 3h0m-1 2h0m-9 1h0m-1 4h0m11 6h0m1 1h0m-5 1h0m0 3h0m-11 5h0m14 1h0m-10 1h0m0 0h0m-5 1h0m16 0h0m0 0h0m-7 2h0m-9 3h0m0 0h0m9 2h0m-8 4h0m16 0h0m-2 1h0m-5 2h0m6 1h0m-8 1h0m8 2h0m2 1h0m-2 5h0m-8 2h0m8 18h0m0 16h0m-14 2h0m5 8h0m2 17h0m-7 4h0m14 1h0m2 1h0m-2 5h0m-5 1h0m1 3h0m-9 1h0m-1 7h0m15 2h0m-2 15h0m-8 17h0m8 1h0m4 15h0m-16 30h0m-2 13h0m-1 3h0m16 6h0m-14 3h0m14 19h0m-15 4h0m15 0h0m1 4h0m-2 21h0m3 0h0m-12 2h0m-3 2h0m14 9h0m-1 11h0m-1 4h0m1 4h0m-7 2h0m9 1h0m-15 0h0m0 1h0m4 4h0m-7 13h0m5 2h0m10 3h0m-7 13h0m5 13h0m-10 2h0m15 4h0m-13 0h0m2 16h0m-6 9h0m4 7h0m12 10h0m-17 14h0m4 1h0m2 1h0m-2 2h0m12 7h0m1 9h0m-15 1h0m7 1h0m-10 1h0m5 0h0m11 2h0m-8 2h0m-7 2h0m2 2h0m3 9h0m7 11h0m-9 3h0m3 5h0m10 2h0m0 1h0m-13 3h0m1 2h0m11 0h0m-10 13h0m9 3h0m-13 4h0m6 0h0m-6 2h0m-2 7h0m6 8h0m13 3h0m-17 7h0m5 2h0m-6 8h0m19 9h0m-12 4h0m8 2h0m0 5h0m0 19h0m-5 4h0m-6 3h0m14 2h0m-3 4h0m1 1h0m-3 0h0m0 4h0m-12 18h0m17 1h0m-1 0h0m-12 2h0"/>
<path stroke="#C77CFF" d="M485 1691h0m6 165h0m10 37h0m-14 2h0m3 18h0m4 21h0m-9 13h0m16 8h0m-1 4h0m-4 9h0m5 9h0m-8 1h0m9 14h0m1 7h0m-13 6h0m12 12h0m-11 2h0m11 1h0m-2 20h0m-12 6h0m13 2h0m0 3h0m-12 4h0m12 0h0m0 2h0m-11 1h0m-5 15h0m17 7h0m-8 4h0m9 8h0m-18 12h0m6 6h0"/>
<path stroke="#7CAE00" d="M492 1437h0m-2 137h0m6 10h0m-1 30h0m-4 80h0m3 0h0m-8 38h0m-1 32h0m16 15h0m-11 8h0m-4 10h0m17 3h0m-15 11h0m4 4h0m-3 5h0m10 9h0m3 45h0m-5 16h0m-5 19h0m-3 23h0m12 9h0m2 24h0m-9 10h0m7 9h0m-15 5h0m9 28h0m5 41h0m0 9h0m-11 4h0m4 8h0m3 5h0m5 7h0m-1 5h0m-13 8h0m10 0h0m-5 1h0m10 7h0m-11 1h0m5 0h0m-5 1h0m0 1h0"/>
<path stroke="#F8766D" d="M522 1415h0m-15 3h0m-2 11h0m3 5h0m0 5h0m8 1h0m5 2h0m-13 4h0m2 0h0m6 1h0m-5 2h0m-3 1h0m11 0h0m-4 1h0m8 0h0m-15 0h0m4 5h0m11 2h0m0 3h0m-13 2h0m0 2h0m5 0h0m3 1h0m-2 1h0m7 0h0m1 8h0m-16 4h0m8 1h0m1 4h0m-8 0h0m1 2h0m1 2h0m-2 6h0m14 1h0m-14 7h0m9 9h0m5 7h0m-8 2h0m8 16h0m-9 2h0m8 3h0m-5 11h0m-3 3h0m2 13h0m4 11h0m-10 1h0m0 4h0m-6 7h0m5 2h0m-2 33h0m13 3h0m-12 19h0m8 5h0m1 5h0m-5 8h0m-4 2h0m5 38h0m-4 4h0m7 27h0m-2 8h0m5 15h0m-13 0h0m2 4h0m2 1h0m12 40h0m-12 3h0m4 1h0m-4 5h0m5 1h0m5 3h0m-3 14h0m4 8h0m-13 5h0m4 9h0m-4 1h0m8 4h0m6 1h0m-13 13h0m-1 1h0m10 9h0m-1 0h0m-2 11h0m-7 3h0m1 3h0m0 2h0m7 25h0m-6 3h0m5 10h0m1 1h0m2 3h0m-8 2h0m-6 6h0m18 1h0m-8 7h0m5 5h0m-4 5h0m0 3h0m-11 0h0m18 3h0m-8 1h0m1 8h0m-7 12h0m11 1h0m-10 0h0m7 11h0m-3 2h0m-9 2h0m13 1h0m-11 12h0m3 15h0m1 2h0m5 3h0m2 1h0m-7 6h0m-4 14h0m4 3h0m12 5h0m-13 4h0m-2 7h0m14 3h0"/>
<path stroke="#C77CFF" d="M516 1791h0m0 16h0m-8 56h0m8 51h0m6 6h0m-6 4h0m1 71h0m3 5h0m-5 16h0m7 8h0m-13 0h0m-4 1h0m11 15h0m7 2h0m-6 9h0m-4 1h0m-4 2h0m6 2h0m-2 20h0m-5 4h0m15 5h0m-14 6h0m14 19h0"/>
<path stroke="#7CAE00" d="M522 1690h0m-6 2h0m-2 26h0m9 9h0m-1 21h0m-17 14h0m4 14h0m8 27h0m-1 8h0m1 4h0m-1 14h0m-6 43h0m13 4h0m-8 2h0m2 47h0m-2 15h0m-2 2h0m3 4h0m-7 11h0m7 59h0m0 8h0m-3 2h0m4 5h0m-2 21h0m-10 7h0m3 5h0m-1 6h0m2 21h0m1 2h0m7 4h0m-2 9h0m-7 2h0m5 1h0m-1 3h0m-4 0h0m-2 3h0"/>
<path stroke="#00BFC4" d="M508 2074h0m8 26h0m-11 12h0"/>
<path stroke="#F8766D" d="M536 1364h0m-6 24h0m12 11h0m-12 5h0m7 42h0m-7 5h0m0 6h0m0 1h0m-2 2h0m-3 0h0m14 2h0m-14 9h0m10 3h0m2 0h0m-8 0h0m9 4h0m2 1h0m-10 2h0m6 0h0m-6 0h0m-4 0h0m8 2h0m-4 1h0m8 2h0m-7 2h0m-2 0h0m1 0h0m14 2h0m-11 1h0m-2 0h0m-1 2h0m-1 2h0m5 1h0m-5 3h0m0 0h0m12 3h0m-3 2h0m-7 1h0m6 5h0m-8 4h0m8 3h0m-10 5h0m12 0h0m-9 0h0m1 1h0m-1 3h0m10 18h0m-9 11h0m9 7h0m-9 2h0m-2 1h0m0 8h0m0 3h0m0 4h0m-1 3h0m8 1h0m4 1h0m-11 21h0m10 2h0m-10 4h0m15 4h0m-20 12h0m6 12h0m-1 6h0m8 6h0m-11 9h0m2 2h0m7 14h0m-9 1h0m1 24h0m2 11h0m2 15h0m13 5h0m-19 2h0m10 5h0m0 14h0m-5 5h0m-1 11h0m2 6h0m5 7h0m-6 6h0m9 8h0m-10 6h0m-4 6h0m13 0h0m-9 9h0m0 4h0m5 7h0m-4 2h0m-2 6h0m16 12h0m-6 9h0m3 1h0m-11 2h0m11 3h0m-12 1h0m0 3h0m12 6h0m-12 2h0m8 8h0m-9 1h0m14 1h0m-13 1h0m10 1h0m-2 1h0m0 3h0m-8 7h0m0 4h0m0 3h0m-4 3h0m13 2h0m1 0h0m1 0h0m3 4h0m-6 0h0m7 4h0m-14 3h0m-4 5h0m16 3h0m-12 2h0m1 5h0m9 0h0m-12 1h0m4 5h0m-3 4h0m6 8h0m-5 4h0m-5 6h0m11 8h0m-6 12h0m1 8h0m-2 7h0m11 2h0m-3 0h0m-12 3h0m13 1h0m-12 0h0m0 2h0m15 3h0m1 9h0m1 6h0m-10 2h0m5 1h0m-9 4h0m9 1h0m-8 10h0m-5 4h0m-1 0h0m10 3h0m4 10h0m5 1h0m-12 1h0m5 0h0m-7 5h0m10 0h0m-10 10h0m-5 1h0m8 27h0"/>
<path stroke="#C77CFF" d="M531 1819h0m12 22h0m-14 23h0m7 24h0m0 8h0m-7 33h0m5 3h0m-4 16h0m-1 19h0m-5 5h0m12 10h0m-6 2h0m6 2h0m1 1h0m-7 2h0m8 1h0m0 1h0m3 0h0m-2 9h0m0 7h0m-8 2h0m7 6h0m-10 3h0m15 1h0m-13 4h0m0 2h0m10 5h0m0 1h0m-11 6h0m8 4h0m-10 4h0m13 2h0m-11 0h0m7 8h0m6 2h0m-11 1h0m-3 3h0m4 0h0m3 2h0m1 4h0m-6 19h0m-1 7h0m0 9h0m1 2h0m0 2h0m4 1h0"/>
<path stroke="#7CAE00" d="M533 1587h0m-3 6h0m12 1h0m-14 46h0m2 33h0m-1 11h0m10 6h0m1 62h0m-10 31h0m-5 17h0m6 12h0m1 4h0m0 14h0m4 1h0m-1 8h0m4 67h0m-1 18h0m3 35h0m0 6h0m-4 2h0m-9 30h0m-3 4h0m5 3h0m3 16h0m4 9h0m-7 20h0m6 14h0m4 0h0m2 12h0m-5 0h0m4 10h0m-9 5h0m-2 2h0m-5 2h0m5 3h0m0 10h0m0 8h0"/>
<path stroke="#00BFC4" d="M535 2069h0m-6 3h0m15 13h0m-19 0h0m18 5h0m-1 5h0m-13 7h0m11 7h0"/>
<path stroke="#F8766D" d="M560 1391h0m-3 5h0m7 10h0m-13 6h0m5 1h0m-1 3h0m1 6h0m-1 2h0m0 11h0m-10 6h0m2 8h0m10 2h0m-2 1h0m1 6h0m-9 0h0m-3 2h0m12 1h0m0 6h0m7 5h0m-8 5h0m-6 1h0m8 2h0m-13 0h0m11 1h0m-7 1h0m4 3h0m8 0h0m1 5h0m-5 2h0m-1 1h0m-11 3h0m1 1h0m12 0h0m-1 2h0m-2 0h0m-4 5h0m-5 1h0m11 4h0m-10 0h0m11 1h0m-13 2h0m16 4h0m-6 19h0m-5 7h0m10 6h0m-4 2h0m-10 4h0m15 4h0m-4 4h0m0 1h0m-11 5h0m11 4h0m-3 5h0m4 4h0m0 12h0m3 1h0m-13 5h0m5 5h0m11 10h0m-11 10h0m8 3h0m-15 2h0m10 5h0m0 12h0m-8 35h0m3 12h0m2 14h0m11 3h0m-17 1h0m17 5h0m-17 8h0m-1 4h0m8 4h0m-1 0h0m1 1h0m1 3h0m2 4h0m0 17h0m2 4h0m-7 4h0m6 10h0m-1 13h0m5 6h0m-5 1h0m0 26h0m-1 3h0m1 1h0m0 4h0m1 15h0m6 2h0m-7 14h0m0 10h0m-1 2h0m-5 10h0m-1 0h0m-4 4h0m17 7h0m-4 8h0m0 9h0m-4 4h0m-1 23h0m3 13h0m7 3h0m-7 2h0m-9 1h0m-1 1h0m-1 6h0m0 3h0m2 1h0m-3 1h0m2 4h0m11 6h0m-1 2h0m-11 2h0m13 5h0m3 2h0m-15 7h0m10 3h0m-1 5h0m3 8h0m-11 1h0m1 4h0m9 5h0m-1 0h0m-11 4h0m9 0h0m-1 3h0m-7 7h0m5 0h0m-7 11h0m3 0h0m11 10h0m-3 4h0m1 7h0m-1 1h0m0 2h0m0 6h0m-5 12h0"/>
<path stroke="#C77CFF" d="M556 1672h0m-9 90h0m9 30h0m1 29h0m-1 84h0m0 13h0m-4 14h0m-3 2h0m-4 2h0m18 11h0m-7 1h0m5 19h0m-4 4h0m-10 0h0m-1 4h0m15 5h0m-1 4h0m2 1h0m2 7h0m-8 9h0m2 9h0m4 0h0m1 3h0m-3 6h0m0 3h0m-12 24h0m6 6h0m2 11h0m-2 3h0m1 0h0m2 4h0m5 1h0m-18 1h0m5 1h0m8 8h0m-1 6h0m7 7h0m-18 1h0m1 5h0"/>
<path stroke="#7CAE00" d="M548 1453h0m15 25h0m-10 86h0m6 28h0m-2 39h0m-4 120h0m-4 45h0m-2 8h0m2 5h0m9 9h0m-1 19h0m-1 12h0m8 10h0m-19 0h0m10 40h0m1 85h0m-7 12h0m-3 18h0m3 25h0m6 16h0m-3 2h0m12 2h0m-14 11h0m5 6h0m1 2h0m-1 8h0m-9 1h0m10 3h0m0 11h0m-4 3h0m11 5h0m-7 1h0m-6 5h0"/>
<path stroke="#00BFC4" d="M551 2068h0m4 2h0m-8 6h0m13 9h0m-10 6h0"/>
<path stroke="#F8766D" d="M576 1391h0m-9 0h0m0 25h0m-1 1h0m2 2h0m11 4h0m-3 5h0m-9 2h0m1 2h0m-1 1h0m8 1h0m5 0h0m4 1h0m-19 1h0m2 4h0m11 2h0m-10 0h0m0 3h0m13 1h0m-12 4h0m15 1h0m-4 3h0m2 2h0m-16 3h0m13 3h0m-12 7h0m1 2h0m9 1h0m-10 2h0m2 5h0m-3 1h0m1 1h0m-3 5h0m3 10h0m-1 3h0m2 6h0m15 1h0m-1 1h0m-18 4h0m4 0h0m-1 8h0m0 5h0m7 4h0m4 4h0m1 0h0m-9 0h0m2 4h0m3 1h0m-7 3h0m-2 1h0m8 2h0m-5 6h0m15 1h0m-18 14h0m10 3h0m-10 3h0m0 1h0m0 1h0m4 3h0m-2 3h0m-3 2h0m4 19h0m1 4h0m4 2h0m-5 9h0m8 10h0m-10 4h0m1 2h0m2 1h0m11 6h0m-14 9h0m-1 10h0m7 10h0m-2 5h0m-5 28h0m5 9h0m6 10h0m-2 23h0m-4 2h0m2 9h0m8 10h0m0 15h0m-15 2h0m0 4h0m1 7h0m16 7h0m-14 1h0m2 3h0m12 1h0m-5 6h0m-6 2h0m11 13h0m-5 0h0m-11 9h0m5 10h0m-4 10h0m-2 2h0m11 3h0m3 2h0m-13 10h0m8 5h0m-7 3h0m10 13h0m-13 0h0m2 1h0m13 0h0m-3 4h0m-2 3h0m-5 6h0m0 19h0m6 5h0m-5 3h0m4 4h0m-9 11h0m15 4h0m-15 12h0m11 1h0m4 2h0m-14 4h0m15 15h0m-15 4h0m13 1h0m-12 15h0m-1 21h0m0 7h0m8 12h0m-11 4h0m3 7h0m4 1h0m-2 14h0m9 2h0m-2 13h0"/>
<path stroke="#C77CFF" d="M570 1866h0m11 3h0m-7 16h0m-7 13h0m9 3h0m7 1h0m-15 3h0m-1 1h0m1 0h0m14 10h0m-8 0h0m1 21h0m5 2h0m0 0h0m-11 1h0m15 4h0m-7 7h0m3 1h0m-2 1h0m4 14h0m-8 8h0m8 6h0m-15 5h0m13 2h0m-2 8h0m-11 1h0m2 13h0m15 3h0m-9 1h0m-5 1h0m8 1h0m2 6h0m4 1h0m-16 3h0m8 2h0m-8 2h0m5 3h0m-8 4h0m0 0h0m17 3h0m-8 3h0m1 4h0m-6 2h0m-3 2h0m-1 5h0m14 3h0m-4 3h0m1 3h0m1 5h0m5 8h0m-11 2h0m-2 3h0m8 1h0m4 10h0m-12 12h0m4 0h0"/>
<path stroke="#7CAE00" d="M568 1558h0m7 63h0m-9 3h0m16 23h0m-12 37h0m-2 9h0m10 80h0m-10 28h0m-2 2h0m3 8h0m9 5h0m-10 50h0m12 4h0m-13 20h0m11 5h0m-11 12h0m-3 12h0m3 12h0m1 4h0m9 5h0m-12 12h0m13 83h0m-10 1h0m13 2h0m-9 6h0m-4 3h0m9 15h0m0 16h0m3 8h0m3 14h0m-8 1h0m5 6h0m-14 7h0"/>
<path stroke="#00BFC4" d="M574 2087h0m6 2h0m3 3h0m-9 10h0m4 1h0"/>
<path stroke="#F8766D" d="M587 1338h0m10 75h0m-9 10h0m7 6h0m8 9h0m-7 0h0m1 7h0m0 0h0m3 9h0m-16 1h0m13 4h0m-4 5h0m-9 2h0m6 6h0m8 2h0m0 7h0m6 8h0m-7 0h0m-1 6h0m-3 5h0m5 8h0m1 5h0m-13 0h0m1 13h0m-2 3h0m17 8h0m-15 0h0m4 4h0m3 4h0m4 4h0m-14 0h0m4 5h0m9 10h0m0 2h0m0 5h0m-6 6h0m2 1h0m2 7h0m2 11h0m0 4h0m-13 4h0m13 4h0m2 4h0m3 2h0m-5 1h0m0 14h0m-8 5h0m-2 4h0m-1 1h0m15 3h0m-3 8h0m-5 22h0m4 6h0m2 8h0m-13 28h0m-1 7h0m-1 26h0m7 28h0m5 23h0m-1 0h0m-7 11h0m-2 15h0m4 35h0m1 2h0m-7 10h0m8 3h0m-7 2h0m4 4h0m9 5h0m3 4h0m-13 13h0m9 1h0m0 1h0m-1 0h0m5 2h0m-4 2h0m-8 7h0m-3 5h0m12 6h0m-13 5h0m13 4h0m-13 8h0m1 6h0m11 9h0m7 3h0m-6 3h0m-7 1h0m13 7h0m-8 16h0m1 0h0m-9 5h0m-1 10h0m-3 3h0m1 5h0m12 3h0m-6 2h0m10 7h0m-4 4h0m-12 5h0m19 3h0m-6 0h0m-14 1h0m11 4h0m1 1h0m-5 40h0m5 14h0"/>
<path stroke="#C77CFF" d="M585 1763h0m4 58h0m-2 45h0m6 29h0m4 3h0m4 28h0m-2 1h0m-6 0h0m-8 8h0m10 2h0m-3 4h0m4 2h0m-1 4h0m-8 2h0m-2 8h0m11 17h0m-11 1h0m-1 1h0m11 2h0m-5 3h0m9 2h0m-11 2h0m2 2h0m7 1h0m-8 3h0m0 10h0m15 10h0m-9 3h0m3 1h0m-1 1h0m-1 0h0m-6 3h0m7 1h0m7 0h0m-15 1h0m-4 2h0m10 11h0m-8 1h0m8 2h0m7 3h0m-4 3h0m-2 3h0m-1 3h0m-10 0h0m3 9h0m-1 3h0m11 0h0m-1 1h0m0 5h0m0 4h0m0 1h0m1 4h0m-9 1h0m9 1h0m5 0h0m-15 1h0m0 7h0m-2 2h0m3 9h0m8 3h0m-3 1h0m-8 0h0m9 5h0m7 1h0"/>
<path stroke="#7CAE00" d="M596 1504h0m3 124h0m-3 76h0m1 8h0m-8 32h0m-2 19h0m-2 83h0m12 12h0m6 7h0m-5 14h0m-4 30h0m4 9h0m-14 6h0m6 15h0m8 4h0m-4 8h0m-9 5h0m17 4h0m-4 2h0m-10 1h0m10 19h0m6 54h0m-7 5h0m1 56h0m-5 1h0m5 14h0m-5 2h0"/>
<path stroke="#00BFC4" d="M585 2097h0m14 1h0m-11 9h0m8 2h0"/>
<path stroke="#F8766D" d="M604 1385h0m19 17h0m-11 18h0m11 4h0m-12 4h0m-6 10h0m7 0h0m2 4h0m8 0h0m-7 7h0m0 2h0m-3 0h0m-1 5h0m4 3h0m-3 5h0m2 0h0m0 2h0m0 1h0m-3 3h0m1 5h0m8 0h0m-6 3h0m-1 13h0m8 1h0m-9 1h0m4 2h0m-3 10h0m-1 0h0m-2 4h0m5 1h0m-2 3h0m-1 2h0m7 1h0m-6 6h0m1 8h0m-1 8h0m-4 0h0m11 4h0m4 8h0m-11 8h0m7 13h0m-9 1h0m2 5h0m4 6h0m-6 11h0m1 33h0m-4 3h0m5 17h0m-1 14h0m-1 24h0m1 1h0m1 0h0m-1 5h0m1 13h0m-9 9h0m10 48h0m4 27h0m-6 8h0m-5 1h0m6 8h0m5 16h0m-6 16h0m4 15h0m-4 17h0m1 2h0m10 6h0m-9 1h0m-3 0h0m-1 2h0m1 6h0m2 4h0m4 7h0m-13 14h0m4 7h0m16 45h0m-18 5h0m7 4h0m0 3h0m1 2h0m0 5h0m-3 12h0m0 0h0m-5 5h0m10 7h0m-6 0h0m2 2h0m-1 1h0m2 0h0m0 3h0m1 8h0m-2 5h0m2 7h0m-2 13h0m-4 4h0m6 8h0m-2 2h0m-6 2h0m7 0h0m11 8h0m-17 3h0m7 2h0m-1 6h0m-4 9h0m-4 10h0m8 3h0m2 3h0"/>
<path stroke="#C77CFF" d="M612 1760h0m-1 205h0m-5 14h0m17 26h0m-15 4h0m6 20h0m-6 12h0m4 5h0m-1 3h0m-6 7h0m12 6h0m-5 2h0m2 17h0m-10 25h0"/>
<path stroke="#7CAE00" d="M608 1444h0m14 176h0m-1 1h0m-16 16h0m8 54h0m-5 14h0m5 41h0m-2 9h0m7 22h0m-9 4h0m7 56h0m-3 26h0m-1 2h0m5 13h0m-5 10h0m-1 36h0m0 11h0m2 1h0m7 1h0m-7 16h0m-2 16h0m9 6h0m-7 40h0m-7 7h0m4 1h0m9 6h0m-7 28h0m-4 10h0m6 14h0m-3 18h0m11 0h0m-3 2h0m-5 2h0m6 0h0m3 2h0m0 3h0m-10 1h0m-7 2h0m3 1h0m2 0h0m1 1h0m0 2h0m2 0h0"/>
<path stroke="#00BFC4" d="M612 2092h0m3 8h0m-3 1h0m2 0h0m-1 10h0m4 1h0"/>
<path stroke="#F8766D" d="M642 1382h0m-10 18h0m-4 4h0m15 32h0m-16 4h0m9 1h0m-9 1h0m13 1h0m3 1h0m-17 0h0m1 4h0m8 2h0m-10 4h0m12 3h0m-10 1h0m6 5h0m6 2h0m3 1h0m-15 1h0m11 1h0m3 2h0m-7 2h0m3 3h0m-10 4h0m6 2h0m-5 1h0m-3 0h0m18 4h0m-8 1h0m0 2h0m7 0h0m-1 2h0m-3 1h0m-11 0h0m11 2h0m-12 0h0m0 1h0m1 2h0m5 1h0m4 1h0m-5 3h0m10 1h0m-6 0h0m4 0h0m3 1h0m-16 4h0m12 0h0m-11 0h0m6 3h0m8 9h0m-9 1h0m11 2h0m-17 2h0m17 4h0m-2 3h0m-14 2h0m11 2h0m-12 2h0m7 4h0m-7 10h0m0 8h0m1 2h0m3 3h0m4 2h0m-1 5h0m8 5h0m-13 1h0m-2 8h0m3 2h0m-4 3h0m2 7h0m6 4h0m-4 4h0m2 16h0m3 3h0m4 3h0m3 0h0m-3 9h0m-13 33h0m16 21h0m-15 4h0m15 39h0m-11 21h0m4 0h0m-2 6h0m9 0h0m0 10h0m-9 2h0m10 2h0m1 21h0m-1 9h0m-15 4h0m9 0h0m-10 1h0m16 2h0m-13 9h0m6 1h0m-2 19h0m-6 6h0m4 14h0m5 13h0m-11 2h0m6 9h0m-1 0h0m12 9h0m-6 0h0m-7 14h0m15 3h0m-9 6h0m5 2h0m-1 4h0m1 2h0m-14 6h0m14 7h0m-12 0h0m-4 1h0m3 2h0m5 11h0m6 3h0m-3 4h0m-10 0h0m1 1h0m1 1h0m0 1h0m16 0h0m-17 2h0m18 6h0m-1 1h0m-18 14h0m13 7h0m-11 4h0m9 3h0m5 0h0m-7 0h0m-10 8h0m17 6h0m-4 17h0m1 6h0m2 5h0m-6 5h0m9 6h0m-19 0h0m12 11h0m-10 15h0m10 6h0m-11 12h0"/>
<path stroke="#C77CFF" d="M638 1797h0m6 107h0m-18 6h0m10 5h0m-7 16h0m14 8h0m-11 2h0m-1 15h0m5 1h0m3 8h0m4 20h0m-14 5h0m-4 27h0m15 7h0m1 8h0m-15 3h0m15 19h0m1 17h0m-8 5h0m6 0h0m2 2h0m-5 1h0m-1 3h0m-10 0h0m14 4h0m-4 4h0"/>
<path stroke="#7CAE00" d="M634 1499h0m8 54h0m0 1h0m-6 10h0m-8 36h0m6 2h0m-9 8h0m18 32h0m-8 7h0m8 44h0m-7 48h0m-10 34h0m11 13h0m-11 27h0m0 6h0m0 12h0m-1 78h0m7 26h0m9 6h0m-5 28h0m-3 0h0m-2 4h0m9 2h0m-7 17h0m-4 5h0m-3 42h0m8 25h0m1 5h0m3 4h0m2 8h0m-4 6h0m-9 1h0m4 17h0m-5 4h0m16 2h0m-15 1h0"/>
<path stroke="#00BFC4" d="M640 2070h0m-5 2h0m-3 0h0m9 1h0m-16 0h0m10 2h0m8 12h0m-2 13h0m-15 12h0"/>
<path stroke="#F8766D" d="M645 1384h0m8 1h0m8 29h0m3 2h0m-15 7h0m12 2h0m-1 1h0m2 1h0m-6 1h0m6 6h0m-6 0h0m-8 7h0m-3 1h0m14 6h0m-15 5h0m12 6h0m-8 5h0m0 0h0m3 0h0m7 1h0m-12 3h0m6 0h0m-7 3h0m9 3h0m7 2h0m-12 3h0m-4 1h0m15 5h0m-5 4h0m7 1h0m-3 4h0m3 2h0m-2 3h0m-7 1h0m9 3h0m0 7h0m1 4h0m-2 0h0m-12 1h0m-3 3h0m13 1h0m-5 0h0m-4 3h0m-2 5h0m-3 0h0m15 3h0m-4 0h0m-10 2h0m13 0h0m2 0h0m-3 0h0m-7 3h0m10 2h0m-16 0h0m15 2h0m-8 1h0m8 3h0m-15 2h0m7 4h0m8 4h0m-5 3h0m5 1h0m-11 4h0m4 3h0m-8 3h0m4 16h0m2 4h0m10 20h0m-13 3h0m13 2h0m-4 1h0m5 15h0m-2 8h0m-13 7h0m12 0h0m-10 3h0m5 1h0m5 6h0m-9 7h0m-5 11h0m7 1h0m11 0h0m-1 7h0m-10 15h0m-7 5h0m9 41h0m-7 1h0m-2 1h0m8 2h0m9 16h0m-1 2h0m-16 4h0m3 1h0m4 0h0m10 1h0m-2 11h0m-6 7h0m9 8h0m-16 1h0m15 16h0m-1 2h0m0 2h0m-14 3h0m16 1h0m-18 5h0m17 1h0m-10 4h0m-6 0h0m17 3h0m-18 0h0m6 2h0m11 3h0m1 4h0m-11 2h0m3 6h0m-7 0h0m0 7h0m14 4h0m-17 4h0m9 1h0m-7 9h0m11 10h0m3 2h0m-9 10h0m11 1h0m-2 7h0m2 4h0m0 10h0m-13 3h0m10 0h0m2 2h0m-12 6h0m-6 1h0m1 2h0m17 1h0m-10 2h0m10 0h0m-6 4h0m-8 1h0m-2 0h0m1 5h0m-1 1h0m2 15h0m13 3h0m1 4h0m-15 10h0m2 0h0m10 3h0m1 6h0m0 8h0m0 6h0m-12 11h0m6 4h0m8 13h0m0 0h0m-1 1h0m0 4h0m-10 4h0m2 6h0m9 8h0m-2 0h0m-6 3h0m1 0h0m-6 3h0m6 3h0m7 6h0m-7 11h0m-11 3h0m10 9h0m-3 15h0m12 5h0"/>
<path stroke="#C77CFF" d="M659 1942h0m-13 0h0m9 5h0m-7 1h0m12 0h0m0 12h0m-8 64h0m10 3h0m-1 2h0m-4 5h0m2 4h0m-2 6h0m-6 2h0m10 5h0m-11 2h0m1 1h0m-7 2h0m16 10h0m-13 0h0m12 9h0m2 0h0m-3 4h0m-11 0h0m13 1h0m-5 11h0m-2 5h0"/>
<path stroke="#7CAE00" d="M654 1491h0m-2 21h0m9 26h0m2 11h0m-10 8h0m-8 9h0m9 50h0m8 13h0m-10 23h0m-2 21h0m11 3h0m0 19h0m-9 41h0m-1 69h0m4 29h0m-1 14h0m0 29h0m3 19h0m5 7h0m2 3h0m-4 10h0m1 10h0m-5 8h0m-9 6h0m14 19h0m2 3h0m-4 35h0m-10 11h0m14 1h0m-2 0h0m-13 3h0m11 12h0m-3 3h0m-9 6h0m14 4h0m0 20h0m-5 8h0m-9 16h0m4 11h0m11 7h0m-4 0h0m2 3h0m0 8h0m-7 5h0"/>
<path stroke="#00BFC4" d="M663 2104h0m-12 6h0"/>
<path stroke="#F8766D" d="M677 1396h0m4 2h0m-3 11h0m1 3h0m-14 0h0m16 0h0m1 16h0m-11 0h0m-1 1h0m5 2h0m-7 7h0m8 7h0m-10 6h0m8 2h0m1 2h0m-2 1h0m-2 1h0m7 1h0m-5 1h0m-7 0h0m13 0h0m4 1h0m-2 1h0m-9 2h0m0 1h0m7 7h0m3 4h0m-12 6h0m6 4h0m6 1h0m-3 1h0m2 6h0m-13 2h0m16 6h0m-8 1h0m5 0h0m3 3h0m-1 1h0m-5 1h0m-4 0h0m6 1h0m-15 0h0m6 0h0m-6 2h0m2 1h0m8 10h0m-5 9h0m12 0h0m-6 1h0m-4 7h0m-2 1h0m10 9h0m4 2h0m-18 1h0m9 7h0m-8 1h0m12 7h0m-3 1h0m3 1h0m3 8h0m-9 3h0m4 4h0m-7 13h0m9 2h0m3 3h0m-8 18h0m3 1h0m3 1h0m-15 0h0m7 10h0m6 10h0m3 1h0m0 0h0m-4 1h0m5 12h0m-12 26h0m-1 0h0m9 17h0m3 33h0m0 4h0m-7 0h0m-1 17h0m2 42h0m8 0h0m1 7h0m0 11h0m-1 1h0m-8 0h0m7 6h0m-14 5h0m0 2h0m-1 1h0m16 2h0m-7 7h0m-3 11h0m1 0h0m9 4h0m-14 1h0m12 8h0m-9 12h0m5 5h0m-5 12h0m1 3h0m8 25h0m-4 7h0m0 7h0m-1 16h0m-5 11h0m3 4h0m5 8h0m3 1h0m-17 1h0m8 0h0m-2 8h0m11 6h0m-2 1h0m-4 1h0m-2 2h0m0 10h0m1 0h0m-8 2h0m6 1h0m8 4h0m-3 3h0m-8 4h0m4 18h0m-5 21h0m5 3h0m-3 1h0m9 24h0m1 22h0"/>
<path stroke="#C77CFF" d="M681 1789h0m-11 40h0m13 72h0m-12 6h0m6 9h0m-2 21h0m0 15h0m4 28h0m5 1h0m-16 0h0m8 9h0m-2 18h0m7 4h0m3 4h0m-9 2h0m0 36h0m-10 4h0m10 1h0m-11 4h0m13 1h0m-13 3h0m5 9h0m12 28h0m-6 3h0"/>
<path stroke="#7CAE00" d="M678 1497h0m0 65h0m-5 17h0m-5 30h0m15 131h0m-15 19h0m4 2h0m-2 25h0m0 53h0m9 4h0m-14 55h0m4 24h0m4 14h0m6 3h0m-2 12h0m-1 30h0m-2 22h0m1 5h0m6 28h0m-9 20h0m-4 33h0m2 4h0m2 3h0m8 6h0m-10 5h0m-4 3h0m5 2h0"/>
<path stroke="#00BFC4" d="M675 2082h0m2 18h0m-1 4h0m-8 7h0"/>
<path stroke="#F8766D" d="M691 1383h0m9 26h0m0 2h0m3 1h0m-12 2h0m-1 4h0m-2 6h0m-2 10h0m18 1h0m-1 0h0m-4 4h0m-8 2h0m0 0h0m1 8h0m9 7h0m-12 4h0m14 5h0m-4 1h0m-2 2h0m-7 13h0m11 1h0m-11 1h0m-5 2h0m0 0h0m18 7h0m-7 4h0m3 1h0m-13 1h0m8 4h0m-2 0h0m8 0h0m-9 5h0m1 2h0m-8 6h0m12 2h0m5 0h0m-10 1h0m1 1h0m-1 0h0m8 2h0m1 4h0m2 5h0m-2 4h0m-9 1h0m-7 1h0m8 8h0m-7 1h0m7 6h0m-6 3h0m10 0h0m-5 5h0m8 2h0m2 3h0m0 7h0m-16 5h0m12 3h0m3 7h0m-7 0h0m5 6h0m1 1h0m0 2h0m2 6h0m-10 3h0m-5 2h0m5 14h0m0 5h0m9 7h0m-10 6h0m2 3h0m0 20h0m7 0h0m-9 1h0m2 3h0m-7 22h0m16 2h0m-7 6h0m5 0h0m-14 13h0m7 11h0m9 9h0m-14 11h0m-2 14h0m15 2h0m-10 3h0m13 0h0m-18 13h0m4 3h0m10 18h0m3 14h0m-16 8h0m11 6h0m-4 4h0m9 4h0m-8 1h0m7 3h0m-13 0h0m3 4h0m-7 7h0m6 11h0m1 0h0m9 3h0m-10 8h0m5 3h0m4 6h0m-8 9h0m1 10h0m0 3h0m-2 1h0m13 3h0m-6 4h0m-10 1h0m9 1h0m-4 1h0m7 3h0m-10 5h0m2 1h0m1 0h0m9 0h0m-16 5h0m4 9h0m2 2h0m10 3h0m-2 2h0m0 0h0m1 2h0m1 3h0m-10 9h0m0 4h0m0 0h0m10 18h0m-11 6h0m2 3h0m9 1h0m-10 0h0m7 6h0m-11 1h0m14 1h0m-1 10h0m-2 1h0m-9 7h0m3 2h0m8 0h0m2 3h0m-5 10h0m3 10h0m-11 6h0m2 1h0m8 19h0m-11 1h0m4 3h0m8 0h0m-1 2h0m3 6h0m-8 3h0m2 17h0m-7 16h0"/>
<path stroke="#C77CFF" d="M700 1706h0m-10 72h0m1 85h0m0 1h0m9 17h0m-13 4h0m7 23h0m5 31h0m1 15h0m0 5h0m-1 0h0m1 2h0m-9 2h0m8 26h0m-8 6h0m4 33h0m8 1h0m-3 4h0m-16 19h0m16 2h0m0 7h0m-9 12h0m1 0h0m9 1h0m-7 15h0m-4 9h0m1 6h0"/>
<path stroke="#7CAE00" d="M700 1507h0m-12 79h0m12 29h0m0 30h0m-4 24h0m-6 11h0m3 84h0m9 16h0m-3 30h0m-14 11h0m6 0h0m0 3h0m9 20h0m-3 5h0m4 10h0m1 16h0m2 26h0m-12 15h0m8 10h0m0 27h0m-1 16h0m-6 53h0m7 12h0m0 3h0m-15 28h0m0 4h0m4 12h0m2 0h0m8 11h0m3 4h0m-3 0h0m-7 9h0m8 2h0m-15 3h0m-1 0h0m14 5h0"/>
<path stroke="#00BFC4" d="M685 2070h0m10 2h0m7 0h0m-10 20h0m7 1h0m-9 7h0m9 12h0"/>
<path stroke="#F8766D" d="M710 1373h0m5 67h0m-4 34h0m-1 8h0m0 2h0m1 11h0m-6 1h0m6 2h0m4 10h0m-7 7h0m7 2h0m-9 0h0m18 4h0m-11 2h0m-3 3h0m0 2h0m5 6h0m-9 12h0m8 2h0m-5 41h0m9 12h0m-3 9h0m-11 2h0m8 1h0m2 35h0m-3 8h0m5 4h0m-9 8h0m16 15h0m-5 2h0m-1 11h0m-3 11h0m-4 0h0m-2 2h0m1 7h0m1 1h0m1 1h0m-6 5h0m-1 1h0m20 5h0m-7 3h0m-6 10h0m-1 5h0m0 25h0m2 6h0m7 4h0m-10 4h0m0 8h0m-3 10h0m14 7h0m-3 0h0m-6 8h0m-2 3h0m5 2h0m0 3h0m4 0h0m5 0h0m-18 3h0m9 5h0m-8 10h0m17 5h0m-12 2h0m-6 5h0m18 1h0m-16 1h0m3 2h0m12 4h0m-6 1h0m-6 0h0m14 1h0m0 1h0m-4 0h0m-8 2h0m10 2h0m-5 0h0m0 3h0m-7 3h0m3 2h0m-2 0h0m13 1h0m-2 2h0m-5 1h0m4 7h0m-15 5h0m14 13h0m4 9h0m-10 1h0m3 4h0m-7 11h0m-1 6h0m-5 23h0m14 9h0m-5 3h0m8 2h0m-12 6h0m1 4h0m13 18h0m-13 3h0m8 2h0m-6 7h0m-3 5h0m0 3h0m15 8h0m-14 1h0m10 10h0m-3 15h0m-10 28h0m16 0h0m-2 9h0"/>
<path stroke="#C77CFF" d="M719 1813h0m0 3h0m5 55h0m-9 0h0m-6 26h0m5 33h0m-4 1h0m13 6h0m-5 1h0m4 10h0m0 4h0m-1 10h0m-10 11h0m-4 11h0m2 4h0m12 10h0m-16 2h0m18 1h0m1 3h0m-16 11h0m8 8h0m8 1h0m-15 4h0m-3 3h0m18 12h0m-14 0h0m3 3h0m-4 5h0m14 5h0m-16 13h0m3 2h0m12 12h0m-12 19h0"/>
<path stroke="#7CAE00" d="M709 1507h0m13 30h0m-12 89h0m13 32h0m0 108h0m-14 25h0m9 6h0m-8 30h0m7 27h0m5 12h0m-11 3h0m-1 5h0m6 64h0m-6 9h0m13 52h0m-17 38h0m16 7h0m-14 11h0m5 1h0m4 15h0m-7 2h0m-1 1h0m1 7h0m5 9h0m-5 10h0m10 1h0m-10 1h0m0 2h0m-2 9h0m14 0h0m-5 2h0"/>
<path stroke="#00BFC4" d="M716 2086h0m2 18h0"/>
<path stroke="#F8766D" d="M733 1429h0m1 16h0m8 28h0m-9 2h0m-1 3h0m11 1h0m-19 9h0m8 2h0m0 6h0m-5 0h0m14 2h0m0 12h0m0 5h0m0 4h0m3 6h0m-2 0h0m-9 2h0m3 8h0m-3 4h0m2 4h0m-11 2h0m8 1h0m0 0h0m6 3h0m2 6h0m-5 3h0m-11 3h0m8 9h0m6 0h0m-5 5h0m7 7h0m-15 2h0m15 3h0m-6 6h0m6 11h0m-7 4h0m7 10h0m-6 7h0m5 30h0m2 2h0m0 4h0m-2 8h0m-5 2h0m-4 17h0m5 12h0m-9 13h0m5 6h0m-3 2h0m4 1h0m2 6h0m-1 8h0m-9 13h0m9 27h0m7 15h0m-16 9h0m20 4h0m-5 10h0m0 0h0m0 10h0m-1 2h0m-6 13h0m6 4h0m4 2h0m-1 12h0m0 1h0m-13 5h0m15 8h0m-11 0h0m7 1h0m-6 0h0m1 1h0m-5 1h0m9 1h0m-5 5h0m10 2h0m-19 22h0m1 3h0m8 4h0m1 6h0m-1 1h0m-1 7h0m2 4h0m6 0h0m-16 3h0m4 1h0m4 2h0m9 33h0m-8 10h0m-3 9h0m14 16h0m-8 7h0m-8 0h0m11 8h0m0 1h0m3 11h0m-8 4h0m1 3h0m6 47h0m-10 1h0m3 9h0m-1 18h0"/>
<path stroke="#C77CFF" d="M724 1730h0m9 125h0m2 4h0m4 37h0m-8 1h0m2 16h0m6 5h0m-2 0h0m-13 11h0m1 23h0m1 14h0m14 47h0m-8 3h0m-3 17h0m3 29h0m-4 1h0m15 5h0m-8 4h0m-1 13h0m5 2h0m-15 6h0"/>
<path stroke="#7CAE00" d="M740 1512h0m-1 27h0m-7 32h0m8 26h0m-3 102h0m-2 25h0m-1 3h0m9 41h0m-10 6h0m-5 16h0m6 61h0m-5 4h0m0 34h0m3 2h0m0 7h0m-5 12h0m-1 9h0m14 43h0m-15 9h0m7 16h0m0 9h0m3 52h0m4 26h0m-4 8h0m8 9h0m-2 12h0m-1 1h0m-8 3h0m2 2h0"/>
<path stroke="#00BFC4" d="M740 2069h0m-9 7h0m-7 35h0"/>
<path stroke="#F8766D" d="M758 1434h0m-12 42h0m13 4h0m0 5h0m-2 6h0m5 2h0m-14 8h0m10 6h0m-12 7h0m13 2h0m-13 4h0m1 0h0m12 3h0m-8 4h0m-1 3h0m1 2h0m-3 5h0m10 0h0m0 2h0m-7 0h0m6 1h0m2 2h0m2 2h0m-13 0h0m13 1h0m-12 2h0m13 1h0m-14 1h0m3 1h0m7 1h0m1 0h0m-8 1h0m0 1h0m-1 2h0m-5 0h0m7 5h0m2 3h0m4 9h0m-8 5h0m0 4h0m-5 0h0m14 1h0m-1 2h0m4 1h0m-9 7h0m-7 1h0m4 3h0m-4 0h0m13 10h0m4 11h0m-5 4h0m-12 5h0m18 9h0m-14 3h0m2 0h0m-8 8h0m19 0h0m-5 5h0m0 3h0m1 7h0m-1 27h0m5 11h0m-16 17h0m-1 27h0m12 8h0m-8 8h0m0 24h0m9 8h0m-6 3h0m-9 11h0m15 8h0m-12 3h0m13 6h0m4 3h0m-11 15h0m-3 3h0m4 7h0m3 14h0m-11 2h0m2 7h0m11 3h0m-11 1h0m0 7h0m-1 1h0m13 7h0m-8 5h0m6 6h0m2 10h0m1 19h0m-14 1h0m2 1h0m10 4h0m1 0h0m-7 1h0m-3 13h0m8 6h0m0 15h0m-12 7h0m12 5h0m-4 5h0m4 5h0m2 5h0m-9 10h0m8 21h0m-11 10h0m-2 10h0m13 7h0m-5 20h0m3 16h0m-8 3h0m-2 12h0"/>
<path stroke="#C77CFF" d="M752 1738h0m-5 118h0m-2 49h0m7 3h0m7 17h0m-3 54h0m4 1h0m-10 5h0m-5 4h0m0 21h0m6 4h0m-1 5h0m0 12h0m13 8h0m-13 6h0m8 3h0m-7 9h0m-5 3h0m0 22h0m11 1h0m-11 4h0m12 14h0m-11 3h0m0 4h0m10 0h0"/>
<path stroke="#7CAE00" d="M750 1487h0m8 36h0m-6 34h0m6 24h0m3 20h0m-3 14h0m1 49h0m-6 29h0m5 4h0m-9 33h0m2 75h0m-3 6h0m10 12h0m2 39h0m2 25h0m-14 8h0m0 15h0m0 40h0m11 4h0m-3 6h0m-11 9h0m13 31h0m-9 1h0m4 62h0m-5 10h0m12 13h0m-16 3h0m9 5h0m3 1h0m-11 12h0m8 3h0m9 2h0m-2 3h0m-9 0h0"/>
<path stroke="#00BFC4" d="M759 2084h0m-9 17h0m8 7h0m1 5h0m-14 1h0"/>
<path stroke="#F8766D" d="M766 1399h0m10 72h0m4 1h0m-8 12h0m12 1h0m-7 0h0m-2 1h0m1 6h0m-3 8h0m-8 0h0m15 1h0m-6 3h0m8 1h0m-5 1h0m-11 2h0m-1 2h0m10 2h0m-1 1h0m2 1h0m-7 1h0m11 0h0m-7 10h0m-1 0h0m-1 4h0m2 10h0m11 2h0m-3 10h0m-15 4h0m7 2h0m4 1h0m-4 0h0m0 2h0m-1 1h0m1 3h0m6 2h0m2 3h0m-6 1h0m-3 0h0m2 5h0m0 0h0m1 1h0m3 1h0m-8 1h0m-1 4h0m4 5h0m1 0h0m7 3h0m-8 11h0m1 17h0m2 5h0m0 10h0m-12 6h0m15 3h0m3 1h0m-8 22h0m4 14h0m-4 0h0m2 8h0m-1 1h0m-10 12h0m10 1h0m-3 53h0m7 6h0m-10 2h0m5 11h0m-6 9h0m-2 16h0m9 2h0m0 3h0m-2 6h0m3 5h0m-5 3h0m-6 18h0m8 5h0m1 13h0m-9 4h0m11 4h0m-6 1h0m12 4h0m-9 2h0m3 3h0m-11 7h0m1 2h0m15 9h0m-9 0h0m-7 8h0m8 4h0m2 0h0m-1 1h0m2 8h0m-3 6h0m1 15h0m9 3h0m-17 11h0m9 2h0m0 11h0m-2 10h0m-6 13h0m10 4h0m-2 4h0m-2 30h0m-7 8h0m1 13h0m9 4h0m0 8h0m-11 11h0m0 3h0m8 2h0m-2 14h0m6 28h0"/>
<path stroke="#C77CFF" d="M766 1658h0m8 204h0m7 3h0m-8 57h0m-2 16h0m-5 2h0m9 28h0m-2 25h0m0 23h0m0 13h0m-2 16h0m7 10h0m-5 9h0m-3 1h0m0 13h0m0 2h0m6 1h0m-4 6h0m4 8h0m1 10h0m-2 5h0"/>
<path stroke="#7CAE00" d="M774 1548h0m-1 49h0m0 29h0m-6 13h0m-1 24h0m18 21h0m-15 80h0m4 36h0m2 29h0m-1 25h0m-9 44h0m11 21h0m-12 31h0m14 31h0m-4 32h0m6 60h0m-8 5h0m-6 3h0m7 14h0m2 4h0m3 15h0m-3 1h0"/>
<path stroke="#00BFC4" d="M780 2090h0m-1 2h0m5 10h0"/>
<path stroke="#F8766D" d="M797 1388h0m-12 58h0m18 23h0m-17 4h0m16 2h0m-8 7h0m-10 1h0m2 9h0m18 7h0m-9 0h0m-9 3h0m18 3h0m-19 2h0m0 5h0m4 0h0m-4 3h0m3 3h0m11 2h0m-7 3h0m11 1h0m-10 0h0m9 5h0m-11 0h0m-4 1h0m5 8h0m-2 17h0m13 3h0m-18 1h0m11 1h0m-1 0h0m8 8h0m-8 1h0m-8 2h0m1 4h0m9 1h0m5 1h0m0 1h0m-12 2h0m-4 4h0m-1 8h0m-1 1h0m3 0h0m16 10h0m-2 17h0m-8 6h0m-8 6h0m7 7h0m10 6h0m-10 4h0m-4 13h0m3 1h0m3 2h0m9 1h0m-10 11h0m-1 0h0m-5 3h0m-1 3h0m-1 0h0m9 9h0m0 5h0m-8 7h0m6 2h0m7 0h0m-7 5h0m-6 8h0m0 3h0m-1 1h0m0 14h0m17 2h0m-15 3h0m15 5h0m-7 18h0m-6 2h0m-5 16h0m10 9h0m1 6h0m-11 0h0m17 1h0m0 5h0m-10 10h0m5 6h0m-11 0h0m7 0h0m4 14h0m6 3h0m-17 30h0m0 1h0m16 2h0m-9 3h0m12 1h0m-18 19h0m1 7h0m0 1h0m-2 3h0m1 2h0m7 1h0m1 3h0m9 5h0m-17 1h0m7 4h0m2 7h0m-9 17h0m10 7h0m3 10h0m-2 2h0m6 1h0m-9 1h0m-8 9h0m12 8h0m-14 9h0m10 1h0m0 5h0m4 6h0m-2 3h0m-10 14h0m1 1h0m12 3h0m-11 0h0m15 7h0m-17 0h0m-1 10h0m1 4h0m-1 1h0m8 1h0m-3 5h0m8 1h0m-12 8h0m0 8h0m4 15h0"/>
<path stroke="#C77CFF" d="M799 1878h0m-6 8h0m10 9h0m-10 20h0m6 1h0m-15 2h0m1 7h0m3 10h0m12 10h0m3 4h0m-17 2h0m10 8h0m-9 2h0m14 7h0m3 0h0m-9 11h0m8 6h0m-17 15h0m-1 1h0m18 10h0m-18 1h0m2 0h0m15 3h0m2 0h0m-17 3h0m8 9h0m1 2h0m-12 1h0m19 0h0m-13 1h0m4 2h0m2 1h0m-10 8h0m3 2h0m8 2h0m-7 2h0m-4 7h0m9 2h0m7 4h0m-15 2h0m7 12h0m-2 4h0m-7 1h0m11 1h0m0 5h0m-9 3h0m6 16h0m10 8h0"/>
<path stroke="#7CAE00" d="M793 1462h0m0 66h0m-4 16h0m8 17h0m2 18h0m-6 5h0m3 2h0m3 3h0m-14 25h0m1 42h0m-1 7h0m2 26h0m16 136h0m-18 1h0m1 40h0m0 14h0m17 26h0m0 9h0m-17 1h0m14 19h0m4 57h0m0 8h0m-9 9h0m0 39h0m-4 19h0m13 20h0m-10 7h0m8 1h0m-14 5h0m-3 2h0"/>
<path stroke="#00BFC4" d="M792 2071h0m-5 7h0m-1 29h0m16 6h0"/>
<path stroke="#F8766D" d="M806 1434h0m15 5h0m-13 0h0m11 8h0m-12 21h0m16 1h0m-3 15h0m0 8h0m-9 11h0m10 2h0m-1 8h0m0 2h0m-13 26h0m14 5h0m-4 14h0m3 4h0m0 1h0m-16 4h0m5 3h0m6 1h0m-8 2h0m3 1h0m-4 4h0m1 6h0m15 4h0m-7 13h0m-8 4h0m0 1h0m15 1h0m-18 16h0m3 1h0m-2 3h0m0 2h0m-1 2h0m1 7h0m8 3h0m-6 9h0m14 2h0m-14 3h0m0 1h0m4 5h0m9 37h0m1 2h0m-8 3h0m7 2h0m-12 7h0m12 10h0m-14 2h0m14 12h0m-2 1h0m-14 5h0m17 1h0m-2 4h0m-13 10h0m11 19h0m-7 13h0m6 2h0m-10 8h0m14 2h0m-12 8h0m-1 5h0m13 6h0m1 14h0m-7 0h0m-7 1h0m1 2h0m-1 7h0m12 4h0m-13 3h0m9 9h0m9 7h0m-1 20h0m-1 3h0m-17 2h0m10 3h0m5 4h0m-14 3h0m14 20h0m-14 9h0m16 10h0m-16 1h0m13 4h0m2 10h0m-1 2h0m-10 1h0m4 9h0m-7 7h0m16 1h0m-4 1h0m-14 1h0m16 9h0m-1 7h0m-14 5h0m14 7h0m0 2h0m-2 3h0m0 2h0m-10 5h0m-3 2h0m5 19h0m-3 4h0m12 5h0m0 10h0m4 9h0m-14 23h0m8 1h0"/>
<path stroke="#C77CFF" d="M813 1803h0m-1 23h0m-1 32h0m9 37h0m-6 11h0m2 22h0m-9 1h0m3 2h0m11 7h0m3 17h0m-16 1h0m12 13h0m1 1h0m-1 19h0m-13 5h0m14 0h0m3 4h0m-17 1h0m7 3h0m7 22h0m-1 2h0m-15 2h0m17 5h0m-4 1h0m6 11h0m-3 1h0m-15 0h0m6 6h0m6 14h0m-12 1h0m17 0h0m-2 2h0m0 25h0m-15 4h0m14 1h0m-5 3h0m-11 7h0"/>
<path stroke="#7CAE00" d="M807 1672h0m12 37h0m1 5h0m-9 76h0m2 58h0m6 25h0m1 1h0m-5 60h0m-11 32h0m3 24h0m12 36h0m2 51h0m-13 14h0m-1 12h0m4 2h0m2 3h0"/>
<path stroke="#00BFC4" d="M809 2075h0m-3 17h0m13 3h0"/>
<path stroke="#F8766D" d="M827 1417h0m11 9h0m-11 26h0m3 9h0m14 3h0m-8 2h0m-6 18h0m5 5h0m5 7h0m-9 1h0m8 1h0m-2 1h0m-2 4h0m9 6h0m-12 6h0m10 3h0m-10 11h0m5 7h0m-12 2h0m10 0h0m7 21h0m-5 1h0m-1 3h0m-4 2h0m11 12h0m1 6h0m-6 10h0m5 15h0m-9 2h0m6 7h0m-1 2h0m-1 3h0m5 23h0m-8 6h0m6 32h0m-6 16h0m5 2h0m-4 3h0m4 3h0m-5 21h0m0 6h0m-5 34h0m7 5h0m-4 30h0m-2 0h0m2 7h0m-7 6h0m16 5h0m-5 7h0m-12 12h0m16 11h0m0 6h0m-16 6h0m19 3h0m-15 11h0m3 3h0m5 6h0m1 1h0m2 22h0m-11 0h0m0 21h0m14 4h0m-13 0h0m-2 1h0m7 4h0m0 2h0m0 0h0m2 2h0m-11 5h0m9 4h0m-1 1h0m4 2h0m-11 5h0m0 0h0m11 4h0m-4 0h0m2 0h0m-8 1h0m16 2h0m-6 1h0m-7 8h0m5 1h0m8 44h0m-18 12h0m12 1h0m-5 5h0m4 2h0m2 7h0m-12 4h0m15 4h0m-4 7h0m6 5h0m-1 2h0"/>
<path stroke="#C77CFF" d="M838 1659h0m-13 157h0m3 17h0m1 69h0m3 0h0m0 41h0m-4 12h0m-3 13h0m18 13h0m-11 2h0m-2 23h0m-1 3h0m12 4h0m3 3h0m-12 2h0m5 3h0m-12 4h0m15 1h0m-13 5h0m1 1h0m7 12h0m7 2h0m-14 26h0m0 13h0m3 2h0m-1 2h0m-3 16h0"/>
<path stroke="#7CAE00" d="M827 1617h0m6 26h0m11 30h0m-13 147h0m7 19h0m-2 32h0m-1 26h0m7 7h0m-13 22h0m4 49h0m7 17h0m-6 10h0m-1 9h0m-1 30h0m-7 17h0m14 19h0m-7 21h0m2 13h0m-6 1h0"/>
<path stroke="#00BFC4" d="M829 2078h0m15 3h0m-10 23h0"/>
<path stroke="#F8766D" d="M864 1382h0m-2 24h0m-2 4h0m-7 20h0m-5 2h0m0 4h0m14 1h0m-17 22h0m9 3h0m-6 9h0m7 0h0m-5 4h0m-2 4h0m5 0h0m-2 1h0m9 2h0m1 5h0m-3 0h0m-6 1h0m-7 2h0m17 3h0m-9 1h0m-3 7h0m9 7h0m1 0h0m2 1h0m-1 10h0m-12 8h0m4 5h0m8 3h0m0 1h0m-4 2h0m7 11h0m-4 14h0m0 28h0m0 4h0m-11 1h0m0 5h0m-2 1h0m17 13h0m-10 6h0m8 2h0m-3 2h0m1 1h0m-15 7h0m0 1h0m11 14h0m7 4h0m-3 4h0m-10 1h0m10 1h0m-15 10h0m13 3h0m-7 0h0m-2 15h0m1 3h0m9 3h0m-14 5h0m15 3h0m-5 11h0m6 1h0m-8 13h0m8 13h0m-4 9h0m6 12h0m-4 33h0m-2 8h0m-2 6h0m9 7h0m-11 8h0m8 4h0m3 6h0m-6 0h0m-10 4h0m15 3h0m-12 1h0m2 2h0m4 5h0m-12 2h0m17 3h0m-2 6h0m4 0h0m-2 8h0m-14 1h0m11 17h0m1 11h0m1 10h0m1 3h0m-6 7h0m4 2h0m1 12h0m-13 5h0m16 6h0m-10 1h0m6 11h0m0 3h0m-1 4h0m-5 3h0m-2 8h0m8 0h0m0 19h0m0 4h0m-9 1h0m8 11h0m1 1h0m-13 4h0m1 11h0m12 2h0m-13 5h0m13 11h0m-15 6h0m2 1h0m7 4h0m-2 3h0m9 3h0m-15 19h0m4 18h0"/>
<path stroke="#C77CFF" d="M849 1923h0m-3 40h0m4 7h0m-1 22h0m-4 1h0m18 0h0m-3 1h0m-11 4h0m1 4h0m-1 10h0m1 5h0m11 6h0m-1 2h0m1 7h0m-6 3h0m-9 2h0m3 8h0m14 0h0m1 8h0m-20 4h0m1 1h0m18 0h0m-11 1h0m9 1h0m-7 2h0m-7 9h0m14 9h0m-15 2h0m1 23h0m8 10h0"/>
<path stroke="#7CAE00" d="M853 1507h0m7 65h0m2 23h0m-14 6h0m2 86h0m4 110h0m-9 47h0m5 55h0m-4 68h0m11 20h0m-11 17h0m11 37h0m0 12h0m-7 19h0m-4 9h0m8 7h0m-8 1h0m18 12h0m-14 3h0m13 4h0m-10 6h0m-7 0h0m4 1h0"/>
<path stroke="#00BFC4" d="M852 2074h0m-3 13h0m2 3h0m7 3h0m-3 4h0"/>
<path stroke="#F8766D" d="M868 1344h0m7 51h0m9 15h0m-7 8h0m-4 19h0m1 2h0m10 6h0m-3 2h0m3 3h0m-11 5h0m9 1h0m-15 14h0m15 3h0m-8 4h0m-9 2h0m6 1h0m8 1h0m0 11h0m-14 9h0m14 1h0m-5 6h0m-9 2h0m4 1h0m4 5h0m-9 1h0m0 8h0m11 2h0m-2 10h0m11 1h0m-6 17h0m4 7h0m-5 6h0m6 0h0m0 4h0m-13 2h0m4 1h0m-5 3h0m15 10h0m-2 15h0m0 7h0m-16 12h0m17 1h0m-11 10h0m3 5h0m-9 1h0m16 4h0m-8 2h0m8 2h0m-4 4h0m-2 4h0m-2 8h0m-1 3h0m11 1h0m-6 3h0m-3 2h0m2 1h0m1 9h0m-13 2h0m18 12h0m-2 11h0m-17 4h0m14 4h0m0 4h0m-4 4h0m2 6h0m1 15h0m-1 16h0m5 15h0m2 18h0m-10 9h0m4 2h0m-4 29h0m10 3h0m-8 19h0m9 6h0m-10 4h0m0 8h0m4 19h0m-13 5h0m9 2h0m9 2h0m-5 4h0m-5 1h0m10 5h0m-3 9h0m2 0h0m-1 1h0m3 1h0m-12 7h0m-1 2h0m13 3h0m-5 9h0m-6 2h0m11 6h0m-2 3h0m1 4h0m-19 0h0m12 20h0m0 0h0m-1 18h0m-1 13h0m1 14h0m-4 10h0m13 21h0m-2 0h0m-3 20h0m-10 9h0"/>
<path stroke="#C77CFF" d="M874 1892h0m2 25h0m-2 27h0m1 13h0m7 6h0m-4 0h0m-4 4h0m-9 3h0m18 1h0m-15 11h0m6 6h0m-3 20h0m13 4h0m-4 13h0m4 1h0m-12 3h0m1 9h0m10 4h0m0 4h0m-8 3h0m-2 6h0m0 2h0m-8 2h0m8 13h0m2 2h0m8 1h0m0 2h0m0 19h0m-8 3h0m8 13h0"/>
<path stroke="#7CAE00" d="M874 1519h0m5 259h0m3 1h0m-9 56h0m-1 11h0m6 56h0m5 46h0m-7 45h0m2 3h0m-5 59h0m10 8h0m-1 13h0m-3 5h0m-10 27h0m13 5h0m-7 1h0"/>
<path stroke="#00BFC4" d="M870 2070h0m1 1h0m-6 29h0"/>
<path stroke="#F8766D" d="M899 1392h0m4 12h0m0 3h0m-19 21h0m8 1h0m6 9h0m-5 0h0m3 1h0m4 1h0m-11 18h0m3 1h0m8 3h0m1 3h0m1 7h0m-18 13h0m19 3h0m-13 3h0m0 2h0m9 2h0m-4 4h0m3 7h0m2 1h0m1 11h0m-7 17h0m0 1h0m-9 42h0m1 7h0m8 2h0m6 3h0m4 2h0m-10 2h0m4 4h0m-3 2h0m0 1h0m1 18h0m4 3h0m-16 1h0m13 7h0m2 4h0m5 1h0m-10 2h0m-8 0h0m17 3h0m-8 9h0m-10 11h0m7 1h0m3 6h0m-10 0h0m-1 2h0m15 2h0m0 8h0m-5 30h0m4 16h0m-7 9h0m3 50h0m-9 2h0m11 27h0m-1 7h0m5 10h0m3 4h0m-3 14h0m-11 2h0m2 2h0m2 1h0m1 6h0m7 1h0m-5 2h0m0 12h0m-5 6h0m2 1h0m2 4h0m0 10h0m-9 14h0m0 4h0m14 4h0m-16 7h0m18 2h0m1 5h0m-2 8h0m-4 2h0m-11 4h0m10 0h0m0 5h0m5 3h0m-2 5h0m-15 0h0m11 3h0m4 15h0m-6 4h0m-8 11h0m-1 5h0m6 3h0m6 4h0m-6 12h0m-5 34h0m13 5h0m1 12h0m-4 9h0m-11 4h0m12 2h0"/>
<path stroke="#C77CFF" d="M896 1635h0m5 258h0m-10 40h0m2 6h0m6 7h0m-4 33h0m-6 2h0m-5 5h0m16 7h0m1 2h0m-8 1h0m6 12h0m-15 5h0m15 3h0m-5 2h0m10 3h0m-5 8h0m0 10h0m-4 2h0m-1 2h0m7 7h0m-15 1h0m9 1h0m4 7h0m-4 4h0m-1 1h0m8 10h0m-3 1h0m0 3h0m-5 0h0m6 0h0m-8 6h0m7 4h0m0 2h0m-4 7h0m4 2h0"/>
<path stroke="#7CAE00" d="M892 1615h0m0 3h0m2 11h0m0 37h0m0 57h0m1 61h0m-1 10h0m-8 86h0m9 31h0m7 6h0m-3 33h0m-4 22h0m-10 8h0m18 8h0m-9 43h0m1 64h0m0 10h0"/>
<path stroke="#00BFC4" d="M893 2094h0"/>
<path stroke="#F8766D" d="M914 1396h0m-3 5h0m5 7h0m7 3h0m-15 8h0m8 12h0m1 3h0m-11 10h0m17 4h0m-10 1h0m0 2h0m1 8h0m-1 8h0m5 3h0m-4 5h0m0 3h0m0 4h0m-1 7h0m5 2h0m3 0h0m-10 7h0m13 20h0m-7 1h0m7 3h0m-10 4h0m6 7h0m-6 4h0m-6 8h0m12 18h0m-12 4h0m10 4h0m-5 8h0m2 2h0m8 3h0m0 2h0m-9 0h0m9 6h0m-9 5h0m-1 8h0m1 1h0m-1 4h0m6 26h0m-12 16h0m11 10h0m-5 9h0m-7 1h0m1 3h0m0 14h0m16 22h0m-6 4h0m0 2h0m1 6h0m-3 2h0m-1 19h0m-7 1h0m-2 7h0m10 1h0m9 23h0m-16 10h0m8 20h0m6 26h0m-17 0h0m9 4h0m0 3h0m5 14h0m-11 4h0m6 20h0m4 14h0m6 0h0m-2 3h0m0 0h0m-16 1h0m-2 9h0m6 4h0m14 0h0m-17 12h0m6 0h0m-1 3h0m1 2h0m10 3h0m-6 1h0m-10 3h0m-2 5h0m0 4h0m19 7h0m-4 4h0m2 4h0m0 2h0m-13 1h0m-2 8h0m16 6h0m-10 5h0m3 2h0m-9 8h0m14 4h0m-9 6h0m2 9h0m0 9h0m10 7h0m-12 3h0m5 3h0m-1 1h0m4 1h0m3 10h0m-6 0h0m-3 2h0m0 4h0m5 11h0m-5 7h0m-8 9h0m8 1h0"/>
<path stroke="#C77CFF" d="M905 1878h0m12 18h0m0 2h0m-3 0h0m0 4h0m-6 16h0m15 8h0m-3 3h0m-6 8h0m0 1h0m-9 15h0m0 2h0m4 2h0m-4 26h0m12 0h0m-11 1h0m13 14h0m-2 0h0m-4 9h0m7 3h0m-8 1h0m1 5h0m-8 5h0m17 10h0m-8 8h0m9 1h0m-2 2h0m-3 10h0m-11 9h0m-2 5h0m19 5h0m-1 9h0"/>
<path stroke="#7CAE00" d="M918 1564h0m5 27h0m-7 101h0m-3 18h0m-6 27h0m7 55h0m-6 24h0m6 58h0m9 17h0m-12 16h0m9 39h0m-13 12h0m16 70h0m-10 32h0m5 9h0m-4 9h0m-8 14h0m12 5h0m-5 9h0"/>
<path stroke="#00BFC4" d="M907 2073h0m16 17h0"/>
<path stroke="#F8766D" d="M943 1362h0m-18 12h0m17 28h0m-18 4h0m0 1h0m18 4h0m-12 2h0m4 9h0m-5 9h0m2 14h0m-7 1h0m8 14h0m5 2h0m3 5h0m-10 9h0m0 2h0m11 5h0m-7 2h0m4 1h0m-7 1h0m-7 3h0m20 7h0m-5 1h0m2 14h0m2 1h0m-19 2h0m17 5h0m-3 11h0m-6 14h0m-3 14h0m2 16h0m7 4h0m-8 0h0m0 1h0m-2 0h0m10 5h0m-8 21h0m-5 3h0m18 11h0m-5 31h0m-4 6h0m1 18h0m2 28h0m-6 2h0m0 35h0m1 5h0m-7 17h0m6 26h0m10 3h0m2 10h0m-10 3h0m3 31h0m3 6h0m-8 10h0m-2 0h0m1 6h0m10 0h0m-13 5h0m12 5h0m-15 16h0m3 9h0m15 1h0m-5 1h0m-12 7h0m5 2h0m-5 0h0m5 10h0m7 6h0m-7 5h0m0 5h0m4 0h0m0 5h0m-2 15h0m0 1h0m11 2h0m-13 0h0m5 5h0m-8 1h0m1 46h0m-1 5h0m3 1h0m1 10h0m0 12h0m-1 18h0m0 3h0m5 6h0m2 4h0m-6 19h0m-1 23h0"/>
<path stroke="#C77CFF" d="M926 1734h0m7 121h0m8 1h0m-3 41h0m-7 5h0m-2 6h0m-5 37h0m1 13h0m13 1h0m2 2h0m-7 3h0m6 3h0m3 1h0m-12 16h0m1 0h0m8 7h0m-9 4h0m8 1h0m-3 8h0m-5 4h0m1 27h0m10 13h0m-5 5h0m2 3h0m4 3h0m-12 3h0m7 4h0m-7 1h0m4 0h0m8 4h0m-17 6h0m10 10h0m2 3h0m-3 10h0m5 8h0"/>
<path stroke="#7CAE00" d="M931 1555h0m0 120h0m-2 78h0m0 21h0m12 42h0m-6 24h0m-1 70h0m9 25h0m-7 30h0m-8 8h0m6 40h0m3 18h0m4 8h0m-9 12h0m2 41h0m-1 0h0m4 1h0m6 4h0m0 1h0m-1 8h0"/>
<path stroke="#00BFC4" d="M930 2069h0m0 14h0m10 2h0m-12 3h0m1 6h0"/>
<path stroke="#F8766D" d="M951 1358h0m11 33h0m-1 13h0m-12 4h0m12 2h0m-12 1h0m-1 3h0m-3 2h0m16 4h0m0 1h0m-3 3h0m-6 4h0m5 8h0m-12 5h0m12 2h0m0 3h0m-4 16h0m-9 2h0m18 3h0m-7 1h0m5 4h0m-9 3h0m-7 1h0m7 2h0m2 1h0m7 5h0m-2 2h0m-11 0h0m0 2h0m2 0h0m3 3h0m-3 3h0m11 0h0m0 4h0m0 2h0m-13 3h0m3 6h0m3 3h0m-2 1h0m11 1h0m-18 0h0m5 6h0m-4 2h0m16 2h0m-15 5h0m15 1h0m-14 3h0m12 2h0m-6 3h0m1 2h0m-5 16h0m11 6h0m-15 3h0m14 6h0m2 19h0m-1 8h0m1 2h0m-1 9h0m-15 1h0m16 12h0m-1 1h0m1 10h0m-1 7h0m-16 3h0m1 0h0m14 15h0m-15 9h0m14 10h0m2 14h0m-1 5h0m0 8h0m-14 74h0m15 15h0m0 24h0m-3 20h0m3 5h0m0 6h0m-6 4h0m-8 9h0m8 35h0m-7 13h0m12 24h0m3 6h0m-2 19h0m-9 1h0m-3 0h0m11 4h0m-11 6h0m12 1h0m-13 0h0m7 2h0m-1 7h0m0 4h0m-9 4h0m16 2h0m-15 1h0m10 8h0m6 7h0m-7 5h0m-5 7h0m-3 13h0m14 2h0m-2 8h0m-11 11h0m4 39h0m3 9h0"/>
<path stroke="#C77CFF" d="M947 1797h0m8 117h0m7 7h0m0 35h0m-11 27h0m-2 3h0m5 1h0m-2 1h0m11 2h0m-1 0h0m-8 2h0m-1 9h0m8 9h0m0 2h0m-15 6h0m7 10h0m-3 4h0m-1 2h0m1 5h0m13 12h0m-14 2h0m3 5h0m9 5h0m-1 18h0"/>
<path stroke="#7CAE00" d="M955 1436h0m-3 13h0m-2 28h0m11 124h0m0 18h0m-12 175h0m-1 11h0m16 76h0m-3 9h0m0 16h0m1 44h0m-13 59h0m-1 8h0m13 41h0m-14 10h0m-2 16h0m15 3h0m4 4h0m-2 0h0m-1 9h0m-9 1h0m-3 3h0m13 1h0m-2 1h0m-15 0h0m0 6h0m9 2h0m8 1h0"/>
<path stroke="#00BFC4" d="M946 2074h0m0 10h0m13 11h0"/>
<path stroke="#F8766D" d="M964 1368h0m12 47h0m-8 1h0m9 10h0m-7 4h0m-1 3h0m1 2h0m-6 8h0m13 12h0m-8 1h0m2 10h0m7 4h0m-6 4h0m10 1h0m1 1h0m-17 3h0m0 1h0m16 4h0m-6 0h0m-8 1h0m11 9h0m-11 2h0m-2 1h0m1 5h0m3 4h0m10 2h0m-12 3h0m15 5h0m-8 2h0m1 4h0m-9 0h0m0 3h0m15 1h0m-7 2h0m-6 7h0m15 10h0m-1 8h0m-3 1h0m-11 5h0m3 9h0m-5 0h0m14 2h0m2 8h0m-10 8h0m4 13h0m3 2h0m-13 2h0m2 4h0m-1 3h0m4 7h0m9 2h0m-5 13h0m1 21h0m3 11h0m-14 13h0m17 9h0m-3 17h0m-3 9h0m-6 25h0m4 23h0m-7 44h0m-2 6h0m11 3h0m5 2h0m-18 1h0m12 16h0m-7 10h0m11 0h0m-3 14h0m-10 0h0m1 17h0m-1 6h0m0 9h0m0 6h0m7 3h0m-9 6h0m2 9h0m14 2h0m-16 6h0m6 13h0m7 8h0m-10 6h0m10 1h0m4 2h0m-14 4h0m15 7h0m-5 1h0m-4 4h0m-3 2h0m1 2h0m-6 4h0m2 2h0m-3 23h0m18 7h0m-14 0h0m7 8h0m-6 2h0m-5 10h0m10 2h0m2 5h0m3 5h0m-4 49h0"/>
<path stroke="#C77CFF" d="M965 1862h0m9 10h0m-8 26h0m3 28h0m6 19h0m-2 1h0m-6 0h0m7 2h0m-5 4h0m9 4h0m-12 33h0m2 5h0m7 11h0m2 4h0m1 20h0m-12 2h0m-1 4h0m13 8h0m-4 8h0m4 1h0m3 7h0m-9 3h0m11 4h0m-15 0h0m0 7h0m8 14h0m-9 3h0m1 2h0m12 3h0m-15 3h0m17 2h0m-15 2h0m7 1h0m-10 4h0"/>
<path stroke="#7CAE00" d="M976 1554h0m-9 0h0m1 162h0m6 74h0m2 73h0m-4 73h0m5 45h0m3 27h0m-6 2h0m-8 7h0m0 16h0m1 41h0m11 9h0m-13 13h0m16 4h0m-13 5h0m12 4h0m-3 1h0m2 1h0m3 1h0"/>
<path stroke="#00BFC4" d="M983 2076h0m1 34h0"/>
<path stroke="#F8766D" d="M990 1382h0m-1 11h0m-1 3h0m2 21h0m-4 2h0m11 13h0m5 3h0m-6 0h0m-7 28h0m9 5h0m3 5h0m-7 3h0m2 1h0m6 2h0m-6 7h0m0 7h0m-5 2h0m-2 4h0m-1 3h0m15 1h0m-16 5h0m1 8h0m1 0h0m12 6h0m-10 1h0m6 0h0m5 2h0m-6 7h0m5 2h0m-6 4h0m-6 2h0m-4 5h0m19 1h0m-7 5h0m2 1h0m0 6h0m2 2h0m0 0h0m-16 3h0m11 1h0m4 4h0m-7 2h0m6 0h0m-11 4h0m9 6h0m6 13h0m-14 4h0m9 11h0m-1 1h0m0 1h0m-7 4h0m7 3h0m1 4h0m2 12h0m-5 2h0m2 0h0m1 1h0m-9 1h0m5 9h0m2 16h0m4 30h0m-3 6h0m0 4h0m-11 22h0m15 3h0m-16 10h0m11 6h0m6 3h0m-13 21h0m13 2h0m-1 8h0m-4 8h0m-8 0h0m3 31h0m-4 9h0m10 3h0m-1 1h0m-8 5h0m-5 13h0m14 11h0m-14 5h0m10 1h0m-2 1h0m4 7h0m-8 10h0m7 11h0m2 12h0m-11 1h0m6 15h0m-4 5h0m-1 4h0m-1 2h0m6 2h0m4 3h0m-8 2h0m-3 2h0m15 2h0m2 2h0m0 4h0m-2 5h0m0 3h0m-10 6h0m-2 1h0m10 1h0m-1 4h0m5 1h0m-2 2h0m-2 1h0m-12 1h0m16 5h0m-17 11h0m3 2h0m10 2h0m-13 2h0m9 3h0m8 0h0m-1 1h0m-16 5h0m12 2h0m3 1h0m-2 3h0m-4 8h0m7 14h0m-3 5h0m-13 23h0m14 1h0m4 3h0m-15 3h0m8 3h0"/>
<path stroke="#C77CFF" d="M997 1824h0m3 15h0m2 37h0m-3 28h0m-10 15h0m12 6h0m1 3h0m-2 7h0m-13 9h0m9 2h0m-2 13h0m1 2h0m8 6h0m-3 5h0m-12 1h0m-1 3h0m11 8h0m-1 8h0m2 4h0m5 2h0m-18 10h0m14 14h0m-3 2h0m3 0h0m1 10h0m-5 1h0m2 1h0m-3 10h0m-5 11h0m13 0h0m-2 2h0m-4 2h0m0 2h0m-11 1h0m2 1h0m4 3h0m-5 7h0m3 7h0m11 9h0m-3 8h0"/>
<path stroke="#7CAE00" d="M1001 1548h0m1 99h0m-4 19h0m2 131h0m1 16h0m-2 36h0m-11 22h0m16 7h0m-10 35h0m8 2h0m-2 5h0m1 39h0m-9 10h0m-1 26h0m10 16h0m-7 16h0m6 14h0m-8 2h0m-3 23h0m1 26h0m8 4h0m-1 9h0m-13 2h0m10 1h0m-10 1h0m18 0h0"/>
<path stroke="#00BFC4" d="M1001 2084h0m-2 20h0m4 12h0"/>
<path stroke="#F8766D" d="M1008 1366h0m4 29h0m3 47h0m-10 10h0m8 14h0m9 16h0m-6 3h0m0 10h0m7 2h0m-7 5h0m0 4h0m2 1h0m-1 5h0m-1 3h0m-5 2h0m-4 1h0m14 8h0m-4 7h0m-1 5h0m-2 1h0m-4 1h0m10 2h0m-9 1h0m5 4h0m7 18h0m1 11h0m-11 3h0m2 4h0m1 6h0m-3 6h0m4 45h0m-4 1h0m7 12h0m1 14h0m-9 4h0m5 23h0m-8 5h0m8 1h0m-5 1h0m10 13h0m2 10h0m-8 18h0m4 2h0m-12 5h0m8 2h0m7 58h0m-10 17h0m2 1h0m-8 27h0m7 6h0m-7 9h0m12 13h0m-11 21h0m8 5h0m-3 22h0m0 5h0m-7 25h0m1 0h0m8 2h0m0 4h0m1 3h0m2 0h0m-6 1h0m6 8h0m-2 4h0m-7 5h0m10 1h0m-6 9h0m3 2h0m-6 12h0m13 1h0m-1 17h0m-9 1h0m-2 10h0m8 4h0m4 12h0m-15 1h0m9 16h0m-9 3h0m7 38h0"/>
<path stroke="#C77CFF" d="M1017 1735h0m6 122h0m-15 45h0m-1 23h0m8 14h0m-6 12h0m0 1h0m-3 24h0m2 7h0m0 16h0m1 5h0m11 4h0m-3 7h0m-1 3h0m1 18h0m-2 14h0m-4 0h0m5 1h0m-9 8h0m14 11h0m-12 12h0m8 20h0"/>
<path stroke="#7CAE00" d="M1019 1585h0m-1 130h0m2 85h0m-14 47h0m10 53h0m-2 37h0m-5 9h0m6 0h0m8 10h0m-2 3h0m-1 86h0m-7 19h0m7 25h0m4 0h0m-11 10h0m-5 9h0m3 4h0"/>
<path stroke="#00BFC4" d="M1021 2108h0m-8 2h0m-8 5h0"/>
<path stroke="#F8766D" d="M1024 1419h0m6 9h0m6 22h0m-9 38h0m3 8h0m-3 8h0m15 4h0m1 2h0m-11 3h0m1 8h0m4 5h0m2 0h0m-5 5h0m6 4h0m-5 0h0m0 1h0m-8 0h0m-3 5h0m15 5h0m-10 9h0m12 0h0m-2 12h0m5 10h0m-4 15h0m-9 14h0m9 15h0m-7 6h0m-5 0h0m11 4h0m-7 2h0m-4 5h0m7 8h0m-8 15h0m13 5h0m-14 0h0m15 0h0m2 7h0m-12 1h0m9 3h0m-8 16h0m8 1h0m-12 12h0m11 4h0m-14 13h0m1 10h0m14 12h0m0 3h0m-1 5h0m0 10h0m2 24h0m-7 2h0m4 10h0m0 7h0m-6 4h0m-3 19h0m1 2h0m-1 8h0m5 11h0m8 16h0m-9 7h0m-5 2h0m12 1h0m0 3h0m-9 2h0m-2 4h0m11 2h0m0 0h0m2 12h0m-7 11h0m-6 1h0m5 4h0m5 1h0m2 8h0m-16 2h0m13 17h0m2 11h0m-4 10h0m-10 8h0m-2 17h0m17 4h0m-10 2h0m-3 1h0m2 8h0m-1 12h0m-4 4h0m7 2h0m-7 1h0m15 1h0m2 2h0m-1 5h0m3 29h0m-10 4h0m2 11h0m-8 5h0m5 9h0m6 2h0m3 12h0m-1 4h0"/>
<path stroke="#C77CFF" d="M1030 1789h0m10 73h0m-1 75h0m-11 10h0m11 10h0m-12 11h0m-3 8h0m12 4h0m4 11h0m-1 10h0m2 0h0m-10 1h0m9 0h0m-14 1h0m8 2h0m-10 3h0m6 3h0m13 1h0m-5 4h0m3 4h0m3 16h0m-5 1h0m1 1h0m-14 5h0m7 1h0m0 3h0m-3 4h0m8 1h0m4 1h0m-10 1h0m6 8h0m-2 0h0m3 0h0m-12 3h0m10 0h0m3 7h0m-16 3h0m12 13h0m-9 5h0"/>
<path stroke="#7CAE00" d="M1039 1575h0m-7 47h0m8 51h0m-2 17h0m-12 14h0m18 13h0m-3 23h0m-12 19h0m-3 6h0m14 36h0m-2 26h0m-12 49h0m13 29h0m-5 15h0m-8 3h0m11 25h0m5 21h0m-4 1h0m-10 9h0m0 27h0m9 5h0m5 4h0m-10 39h0m3 34h0m-5 0h0m9 7h0m4 4h0m-8 1h0m-7 2h0m4 4h0m12 3h0m-4 6h0"/>
<path stroke="#F8766D" d="M1056 1373h0m-2 62h0m10 9h0m-20 4h0m9 6h0m7 8h0m4 8h0m-16 0h0m4 2h0m5 5h0m6 5h0m-5 10h0m-11 3h0m3 5h0m13 1h0m-14 0h0m-1 5h0m3 22h0m3 8h0m9 3h0m-6 17h0m-13 3h0m1 0h0m17 6h0m1 1h0m-5 0h0m-1 1h0m3 6h0m-8 2h0m-5 9h0m16 1h0m-7 1h0m-4 1h0m6 3h0m6 4h0m-7 9h0m-4 19h0m-3 5h0m-2 15h0m12 8h0m2 4h0m-11 7h0m7 5h0m-4 8h0m10 8h0m-17 15h0m16 9h0m1 0h0m-16 7h0m2 0h0m4 2h0m-8 24h0m5 27h0m-4 4h0m9 28h0m4 4h0m-7 3h0m-4 2h0m5 22h0m-2 4h0m9 5h0m-9 32h0m2 14h0m8 4h0m-7 11h0m9 1h0m0 4h0m-20 9h0m3 10h0m3 1h0m10 1h0m-2 27h0m2 5h0m1 2h0m-1 20h0m-10 3h0m13 1h0m-12 10h0m-3 17h0m7 10h0m-7 3h0m5 2h0m-5 0h0m14 5h0m-9 2h0m11 8h0m-11 9h0m-5 1h0m16 4h0m-2 1h0m-8 6h0m0 4h0m-7 5h0m5 3h0m5 5h0m-5 10h0m1 4h0m2 9h0"/>
<path stroke="#C77CFF" d="M1048 1633h0m16 126h0m-12 27h0m0 95h0m11 35h0m-16 8h0m16 49h0m-10 3h0m-5 3h0m-2 14h0m0 4h0m5 0h0m6 14h0m-4 2h0m0 1h0m9 2h0m-3 14h0m-7 0h0m8 6h0m0 18h0m-8 11h0m11 5h0m-15 9h0m14 1h0m0 1h0m-5 3h0m-9 4h0m-2 2h0"/>
<path stroke="#7CAE00" d="M1060 1507h0m3 111h0m-5 80h0m-5 28h0m-2 8h0m12 50h0m-10 67h0m-7 3h0m17 40h0m-1 15h0m0 12h0m1 85h0m-18 2h0m14 18h0m-13 8h0m18 26h0m-12 11h0m-1 7h0m11 21h0m-16 0h0m6 16h0"/>
<path stroke="#00BFC4" d="M1055 2081h0m2 5h0"/>
<path stroke="#F8766D" d="M1082 1430h0m-1 12h0m-3 25h0m-11 12h0m7 2h0m-2 1h0m-7 17h0m11 0h0m-12 6h0m3 8h0m12 16h0m-9 2h0m9 4h0m-8 4h0m3 2h0m-1 8h0m4 5h0m-13 5h0m1 11h0m9 6h0m-1 4h0m-9 1h0m1 18h0m5 7h0m-2 2h0m2 6h0m10 2h0m-16 11h0m10 18h0m-2 11h0m2 4h0m-10 6h0m14 11h0m4 6h0m-8 9h0m6 13h0m-6 0h0m-1 3h0m9 3h0m-17 3h0m9 9h0m-3 7h0m7 0h0m-11 5h0m8 2h0m5 6h0m-5 14h0m2 0h0m-10 0h0m13 23h0m-11 5h0m6 37h0m-4 8h0m-4 4h0m11 9h0m-11 3h0m14 9h0m-15 3h0m13 3h0m0 18h0m2 2h0m-16 15h0m16 2h0m0 3h0m-13 6h0m15 1h0m-4 10h0m-11 3h0m5 7h0m2 7h0m-3 13h0m2 5h0m5 43h0m0 6h0m-10 8h0m9 6h0m1 5h0m-4 6h0m-8 4h0m11 24h0m5 7h0m-3 4h0m-4 16h0m4 10h0"/>
<path stroke="#C77CFF" d="M1079 1663h0m-6 213h0m5 5h0m-14 21h0m10 13h0m1 9h0m-9 25h0m1 34h0m7 2h0m-6 4h0m-2 37h0m-2 2h0m1 1h0m15 14h0m-6 1h0m7 4h0m-14 4h0m15 2h0m-3 7h0m0 8h0m-15 15h0m7 15h0m9 0h0m-13 5h0m13 5h0m-14 1h0"/>
<path stroke="#7CAE00" d="M1066 1538h0m13 28h0m-11 26h0m-3 53h0m15 10h0m-6 59h0m-9 70h0m3 97h0m-2 91h0m8 101h0m-1 4h0m-4 1h0m9 9h0m-3 3h0m6 5h0m-14 4h0m12 7h0m4 8h0"/>
<path stroke="#00BFC4" d="M1074 2069h0m-5 7h0m-1 37h0"/>
<path stroke="#F8766D" d="M1103 1402h0m-1 41h0m-17 6h0m3 2h0m7 30h0m-7 20h0m6 14h0m0 2h0m-2 1h0m11 8h0m-16 1h0m6 4h0m-1 2h0m5 2h0m-5 0h0m4 2h0m3 9h0m-13 9h0m13 10h0m-13 9h0m6 1h0m-7 0h0m2 5h0m-1 0h0m13 3h0m-5 5h0m-7 4h0m14 9h0m1 7h0m-10 3h0m7 4h0m1 8h0m-14 2h0m1 9h0m16 13h0m-3 9h0m3 9h0m-8 25h0m4 7h0m-14 37h0m16 3h0m-13 6h0m10 15h0m-10 2h0m0 1h0m0 11h0m5 10h0m-7 1h0m7 12h0m8 10h0m-15 1h0m-1 0h0m8 1h0m-9 1h0m9 1h0m-8 19h0m9 26h0m-9 2h0m1 7h0m15 10h0m3 4h0m-10 12h0m-2 5h0m1 2h0m8 2h0m-1 2h0m-1 1h0m-9 1h0m13 3h0m-10 3h0m9 3h0m-13 1h0m12 8h0m-5 11h0m0 5h0m7 30h0m-17 4h0m-1 3h0m7 5h0m11 15h0m-11 1h0m-4 11h0m8 10h0m0 0h0m-3 3h0m-4 2h0m-3 2h0m1 13h0m12 14h0m-12 2h0m12 4h0m3 15h0m-9 3h0m6 14h0"/>
<path stroke="#C77CFF" d="M1103 1834h0m-10 70h0m1 35h0m-9 22h0m0 23h0m2 38h0m12 14h0m-14 1h0m0 17h0m12 2h0m1 12h0m-12 11h0m14 1h0m-5 8h0m8 1h0m-9 4h0m6 8h0m-14 8h0"/>
<path stroke="#7CAE00" d="M1085 1606h0m15 48h0m1 9h0m-1 57h0m-15 60h0m4 3h0m6 13h0m-1 4h0m-9 13h0m7 59h0m-3 40h0m-1 53h0m10 74h0m-10 42h0m12 2h0m-13 7h0m0 13h0m0 4h0"/>
<path stroke="#00BFC4" d="M1090 2074h0m9 5h0m-15 8h0m7 17h0"/>
<path stroke="#F8766D" d="M1124 1409h0m-1 7h0m-11 6h0m7 7h0m-14 18h0m15 1h0m0 7h0m3 2h0m-3 10h0m-12 7h0m-2 8h0m14 18h0m-2 8h0m6 14h0m-4 10h0m-7 2h0m-4 3h0m13 8h0m-1 2h0m0 6h0m1 18h0m-3 5h0m-11 11h0m-2 4h0m-2 1h0m9 1h0m-5 4h0m5 2h0m10 3h0m-3 3h0m1 2h0m2 23h0m-3 22h0m3 4h0m-19 0h0m20 13h0m-12 6h0m11 1h0m-4 8h0m-10 11h0m11 20h0m-3 20h0m-6 6h0m12 10h0m-3 0h0m-1 14h0m0 19h0m-9 5h0m8 10h0m-9 14h0m-1 2h0m11 6h0m-12 11h0m13 7h0m-2 13h0m6 2h0m-3 8h0m-2 5h0m2 10h0m-12 2h0m11 2h0m-9 3h0m2 2h0m-5 7h0m12 21h0m-16 1h0m16 5h0m-13 6h0m1 17h0m12 16h0m-1 8h0m0 4h0m-11 5h0m14 5h0m-9 7h0m10 64h0m-11 13h0m8 16h0m-8 8h0m8 22h0"/>
<path stroke="#C77CFF" d="M1104 1800h0m12 120h0m2 28h0m-12 39h0m13 1h0m-7 12h0m-7 24h0m0 38h0m16 1h0m-2 3h0m-15 17h0m8 15h0m-5 7h0m-1 1h0"/>
<path stroke="#7CAE00" d="M1111 1649h0m10 31h0m-9 44h0m-2 73h0m-5 35h0m15 4h0m-11 19h0m-2 9h0m1 16h0m13 89h0m-14 27h0m-2 10h0m5 56h0m-3 13h0m0 13h0m8 2h0m-2 2h0m6 5h0m4 0h0m-2 2h0m-1 1h0m-15 2h0m14 3h0m-10 4h0m11 0h0m2 2h0m-17 1h0"/>
<path stroke="#00BFC4" d="M1118 2068h0m-13 11h0m1 18h0"/>
<path stroke="#F8766D" d="M1136 1448h0m6 19h0m-11 3h0m5 7h0m-8 3h0m1 1h0m1 6h0m1 5h0m1 6h0m11 7h0m-15 1h0m8 2h0m3 15h0m-2 5h0m0 16h0m-2 1h0m-5 1h0m1 6h0m5 4h0m-12 8h0m15 1h0m-10 4h0m6 1h0m3 2h0m-3 12h0m0 2h0m3 1h0m-4 4h0m-4 4h0m8 3h0m0 4h0m4 2h0m0 1h0m-18 1h0m17 1h0m-12 4h0m5 1h0m-5 8h0m12 3h0m2 17h0m-6 10h0m-2 2h0m-1 4h0m-9 8h0m11 4h0m2 2h0m4 11h0m0 11h0m2 11h0m-8 3h0m-1 3h0m-11 17h0m6 4h0m-1 3h0m10 8h0m-2 4h0m6 1h0m-14 17h0m8 10h0m-1 11h0m0 7h0m0 21h0m3 69h0m-3 8h0m-6 9h0m0 7h0m6 11h0m0 25h0m-7 8h0m0 7h0m-1 36h0m-3 1h0m4 14h0m7 36h0m-11 5h0m14 27h0m-8 11h0m7 13h0"/>
<path stroke="#C77CFF" d="M1137 1669h0m-4 297h0m-4 64h0m7 32h0m2 1h0m-7 15h0m-2 28h0"/>
<path stroke="#7CAE00" d="M1130 1517h0m8 13h0m-5 76h0m2 7h0m0 4h0m4 4h0m3 25h0m-13 4h0m-3 43h0m4 93h0m-2 212h0m16 67h0m-15 10h0m12 2h0m3 3h0m-10 0h0m7 9h0m1 2h0m-13 2h0m0 2h0m10 0h0m-11 4h0m14 1h0m0 1h0m-7 3h0m-9 1h0m17 3h0m-7 3h0m-2 2h0"/>
<path stroke="#00BFC4" d="M1130 2068h0m7 8h0m5 16h0m-2 6h0"/>
<path stroke="#F8766D" d="M1157 1446h0m1 3h0m-2 1h0m1 20h0m0 3h0m0 9h0m5 0h0m-4 2h0m-3 1h0m-7 6h0m-4 2h0m12 4h0m0 6h0m-8 3h0m-1 2h0m12 5h0m-2 11h0m6 2h0m-18 8h0m14 9h0m-13 7h0m5 4h0m-5 6h0m2 5h0m8 0h0m-10 7h0m14 4h0m-4 3h0m-10 7h0m7 3h0m10 3h0m-3 6h0m-3 7h0m-2 1h0m1 2h0m-9 0h0m-2 12h0m10 3h0m-6 14h0m8 2h0m-11 20h0m0 7h0m10 11h0m0 2h0m1 7h0m-5 1h0m4 10h0m-8 3h0m9 8h0m-6 21h0m-3 2h0m4 35h0m6 12h0m-9 1h0m-2 24h0m9 308h0"/>
<path stroke="#C77CFF" d="M1151 1796h0m6 64h0m-1 5h0m-2 212h0m1 13h0"/>
<path stroke="#7CAE00" d="M1148 1524h0m8 43h0m0 11h0m8 9h0m-17 17h0m9 88h0m1 6h0m7 16h0m-16 84h0m13 223h0m-6 37h0m-3 0h0m2 1h0m9 2h0m0 0h0m-13 5h0m-4 0h0m14 1h0m-3 2h0m-8 1h0m6 1h0m-3 2h0m2 1h0m-7 4h0m15 2h0m-17 2h0m2 3h0m3 1h0m-5 3h0m9 6h0m-8 0h0m11 1h0m-2 2h0m-6 0h0m14 5h0m-17 1h0m2 1h0m8 1h0m0 1h0"/>
<path stroke="#00BFC4" d="M1153 2107h0m10 7h0"/>
<path stroke="#F8766D" d="M1169 1407h0m10 43h0m-10 2h0m1 1h0m-4 17h0m10 0h0m-2 50h0m-6 5h0m13 4h0m3 2h0m-14 5h0m9 15h0m-7 7h0m-5 9h0m-1 3h0m-2 2h0m12 4h0m-6 4h0m-2 2h0m-3 0h0m18 1h0m-8 6h0m0 1h0m0 8h0m0 3h0m-6 16h0m10 28h0m-1 9h0m0 0h0m3 10h0m2 3h0m-10 2h0m10 3h0m-2 56h0m-10 15h0m0 2h0m5 2h0m8 16h0m-10 3h0m9 15h0m-8 7h0m8 5h0m-3 4h0m1 3h0m-13 6h0m4 0h0m3 5h0m6 2h0m0 20h0m-1 55h0m-11 43h0m13 29h0m-8 8h0m1 2h0m-1 1h0m6 34h0m2 38h0m2 58h0"/>
<path stroke="#C77CFF" d="M1174 1589h0m-5 209h0m6 14h0m4 0h0m0 78h0m2 20h0m-10 57h0m-2 18h0m8 20h0m0 33h0m2 28h0m-5 10h0m-7 11h0m7 7h0m7 13h0"/>
<path stroke="#7CAE00" d="M1175 1625h0m5 137h0m0 99h0m-2 117h0m0 0h0m-6 8h0m5 1h0m0 2h0m-3 0h0m2 9h0m-2 5h0m1 1h0m9 3h0m-4 2h0m1 0h0m0 6h0m-2 9h0m-3 4h0m3 1h0m-6 0h0m-3 2h0m0 4h0m2 11h0m2 7h0m-1 1h0m-8 5h0m18 3h0m-13 3h0m3 3h0m0 1h0m0 0h0m11 1h0m-18 4h0m0 1h0m15 1h0m-15 3h0m7 1h0m-2 0h0m1 1h0m-3 1h0m4 1h0m9 1h0m-5 3h0m-4 2h0m0 1h0m3 1h0m-2 1h0m7 2h0m-15 2h0m4 2h0m3 1h0m8 1h0m-11 0h0m-5 1h0m13 1h0m-10 0h0m12 1h0m-12 1h0m2 3h0m11 1h0m-4 2h0m-1 0h0m-3 0h0m0 4h0m8 0h0"/>
<path stroke="#F8766D" d="M1196 1411h0m6 12h0m1 6h0m-15 7h0m5 4h0m2 13h0m-1 2h0m2 15h0m-9 8h0m11 3h0m-6 12h0m8 1h0m-8 9h0m-3 26h0m-5 1h0m17 1h0m-1 17h0m-7 2h0m8 3h0m0 1h0m2 7h0m-3 0h0m0 4h0m0 5h0m3 4h0m-18 11h0m16 12h0m0 35h0m-6 2h0m6 7h0m-11 0h0m10 21h0m-2 5h0m-6 1h0m-1 13h0m-5 2h0m12 24h0m-13 1h0m10 9h0m3 5h0m5 3h0m-17 3h0m-1 3h0m11 5h0m6 21h0m-9 2h0m-5 13h0m0 21h0m16 1h0m-14 3h0m0 11h0m-3 2h0m-1 9h0m9 3h0m-7 0h0m-3 20h0m3 2h0m11 29h0m-14 24h0m6 4h0m11 18h0m-7 1h0m8 5h0m-2 1h0m-15 41h0m16 6h0m-4 18h0m-6 2h0m10 2h0m-17 2h0m17 3h0m-2 20h0m-12 4h0m9 1h0m-7 7h0m-5 31h0m8 3h0m-7 2h0m16 8h0m-16 1h0m14 15h0"/>
<path stroke="#C77CFF" d="M1196 1824h0m-3 77h0m0 20h0m-6 15h0m8 14h0m5 6h0m-15 2h0m10 17h0m1 44h0m-11 7h0m4 20h0m-2 4h0m6 1h0m1 27h0m5 1h0m-6 12h0m10 1h0m-13 18h0m5 0h0"/>
<path stroke="#7CAE00" d="M1184 1551h0m17 83h0m-7 14h0m-3 22h0m10 35h0m-14 21h0m3 254h0m-2 25h0m12 58h0m-9 6h0m9 22h0m-13 14h0"/>
<path stroke="#00BFC4" d="M1188 2098h0m14 5h0m-13 4h0m-1 1h0"/>
<path stroke="#F8766D" d="M1219 1388h0m2 14h0m1 3h0m-3 9h0m-1 4h0m-13 1h0m17 2h0m1 4h0m-4 13h0m1 5h0m-7 1h0m0 3h0m-3 3h0m9 2h0m-14 7h0m19 6h0m-13 14h0m6 3h0m2 6h0m5 1h0m-14 1h0m4 13h0m8 8h0m-3 9h0m-1 1h0m-6 14h0m10 1h0m-1 10h0m-10 8h0m-6 4h0m17 8h0m-3 3h0m5 1h0m-8 2h0m4 2h0m0 4h0m-10 20h0m-2 1h0m9 4h0m-8 2h0m11 4h0m-7 9h0m3 10h0m5 7h0m-5 2h0m-6 12h0m-4 17h0m4 5h0m1 0h0m-4 44h0m16 4h0m-4 1h0m-1 7h0m-3 7h0m6 27h0m-16 5h0m4 22h0m-2 6h0m4 1h0m-3 18h0m-2 0h0m8 25h0m-3 10h0m3 51h0m-3 2h0m10 4h0m-15 27h0m14 5h0m-2 2h0m5 13h0m-4 5h0m-14 8h0m13 4h0m5 22h0m-2 3h0m-7 4h0m-7 6h0m6 10h0m3 3h0m3 42h0m0 7h0m2 23h0"/>
<path stroke="#C77CFF" d="M1213 1848h0m-1 58h0m5 19h0m-5 10h0m12 47h0m-14 15h0m11 41h0m-7 2h0m3 1h0m4 2h0m-2 7h0m-10 13h0m14 7h0m-6 14h0m6 7h0m0 18h0m-12 2h0"/>
<path stroke="#7CAE00" d="M1204 1619h0m20 146h0m-4 1h0m-15 132h0m13 36h0m-3 29h0m4 1h0m-1 48h0m-12 2h0m16 57h0m-9 15h0m-8 0h0m4 3h0m13 23h0"/>
<path stroke="#F8766D" d="M1230 1355h0m9 47h0m1 3h0m-7 7h0m9 5h0m-13 15h0m10 6h0m-9 3h0m10 4h0m-10 1h0m6 2h0m-4 8h0m4 15h0m-8 1h0m0 3h0m11 13h0m-9 3h0m11 6h0m-15 3h0m5 5h0m0 3h0m12 0h0m-13 0h0m14 1h0m-5 6h0m-12 0h0m3 1h0m-5 5h0m1 2h0m4 0h0m1 1h0m9 9h0m-13 17h0m14 0h0m0 1h0m-3 10h0m-8 0h0m-1 5h0m12 0h0m-12 11h0m-3 8h0m5 5h0m-2 5h0m11 3h0m-14 2h0m3 5h0m0 2h0m12 2h0m-11 6h0m0 5h0m10 1h0m2 5h0m-1 1h0m-2 30h0m-9 17h0m0 6h0m10 25h0m3 52h0m-12 3h0m9 3h0m-11 6h0m10 57h0m0 5h0m-9 1h0m4 29h0m6 5h0m-2 5h0m-3 14h0m-5 19h0m0 48h0m-5 18h0m10 1h0m-5 3h0m11 8h0m-16 46h0m5 11h0m8 36h0"/>
<path stroke="#C77CFF" d="M1229 1825h0m14 86h0m0 9h0m-14 32h0m11 2h0m0 8h0m-8 18h0m8 19h0m-4 14h0m2 1h0m-8 7h0m-1 17h0m0 8h0m0 3h0m2 5h0m10 7h0m0 26h0m1 5h0m-1 3h0m-11 1h0m-2 0h0"/>
<path stroke="#7CAE00" d="M1241 1514h0m-2 64h0m-1 115h0m-6 67h0m8 86h0m-1 32h0m1 83h0m-11 81h0m6 38h0m7 2h0m-5 13h0m-8 3h0m5 7h0m6 1h0"/>
<path stroke="#00BFC4" d="M1229 2095h0m2 14h0"/>
<path stroke="#F8766D" d="M1262 1339h0m-7 20h0m2 39h0m5 6h0m-9 3h0m-8 4h0m7 7h0m-3 7h0m2 2h0m9 2h0m-8 3h0m11 9h0m-2 1h0m-5 0h0m6 2h0m-2 13h0m-7 10h0m-6 3h0m-1 2h0m11 12h0m4 14h0m1 1h0m1 8h0m-11 0h0m-2 3h0m2 1h0m10 1h0m-4 8h0m-10 13h0m-2 4h0m9 3h0m-8 16h0m15 1h0m-12 7h0m13 5h0m-9 5h0m-7 6h0m-1 7h0m6 20h0m10 2h0m0 0h0m-10 7h0m9 17h0m0 3h0m-3 12h0m3 0h0m-12 25h0m3 5h0m-1 2h0m10 1h0m-9 5h0m10 8h0m-9 1h0m-2 9h0m13 7h0m-12 35h0m-7 20h0m8 0h0m11 12h0m-16 15h0m14 32h0m-16 6h0m15 5h0m1 9h0m-10 10h0m9 7h0m1 0h0m-10 20h0m-2 2h0m3 0h0m9 18h0m-10 2h0m2 6h0m-2 0h0m11 8h0m-19 2h0m1 17h0m16 1h0m1 0h0m1 6h0m-10 10h0m9 10h0m-3 6h0m-5 11h0m-3 1h0m13 2h0m-12 6h0m3 3h0m7 1h0m-1 5h0m-6 11h0m5 12h0m-7 12h0m3 32h0m-8 4h0m14 22h0"/>
<path stroke="#C77CFF" d="M1262 1894h0m-7 9h0m3 18h0m-9 18h0m12 25h0m-16 10h0m3 1h0m0 4h0m4 5h0m0 11h0m9 3h0m-5 7h0m-3 0h0m8 18h0m-16 16h0m4 15h0m12 2h0m-8 11h0m10 8h0m-11 13h0m0 22h0"/>
<path stroke="#7CAE00" d="M1247 1530h0m5 52h0m-5 1h0m3 30h0m12 69h0m-11 46h0m11 65h0m0 66h0m-9 10h0m6 97h0m-5 24h0m9 24h0m-10 3h0m9 14h0m-10 53h0m6 3h0"/>
<path stroke="#00BFC4" d="M1259 1348h0m2 14h0m1 22h0m-15 704h0m13 8h0"/>
<path stroke="#F8766D" d="M1274 1407h0m-1 2h0m-6 10h0m17 7h0m-11 2h0m1 21h0m9 4h0m-2 3h0m1 2h0m-3 4h0m-14 1h0m3 2h0m13 8h0m2 3h0m-17 2h0m10 7h0m-1 5h0m1 16h0m-2 4h0m-8 7h0m9 6h0m1 5h0m-3 12h0m11 3h0m-14 0h0m5 9h0m-11 9h0m18 3h0m0 16h0m-16 9h0m14 2h0m-6 28h0m-1 18h0m4 1h0m-9 10h0m6 4h0m0 9h0m7 9h0m-6 36h0m-1 28h0m-7 35h0m8 22h0m5 34h0m-6 4h0m10 1h0m-10 6h0m1 18h0m-5 7h0m5 5h0m0 1h0m-1 6h0m1 19h0m-2 13h0m5 2h0m-3 0h0m-9 9h0m8 7h0m-1 15h0m5 2h0m-14 55h0m11 12h0m-5 9h0m11 9h0m-7 51h0m3 7h0m-7 15h0"/>
<path stroke="#C77CFF" d="M1275 1870h0m-1 65h0m0 28h0m2 3h0m-2 5h0m-3 3h0m3 1h0m1 9h0m0 4h0m-2 4h0m6 5h0m-3 45h0m0 6h0m-3 4h0m2 3h0m-1 3h0m0 4h0m-9 5h0m10 2h0m-2 7h0m1 2h0m8 24h0"/>
<path stroke="#7CAE00" d="M1268 1640h0m-3 111h0m0 13h0m4 131h0m-2 89h0m8 30h0m0 54h0m1 27h0m0 3h0m3 14h0m-15 2h0"/>
<path stroke="#00BFC4" d="M1276 2076h0m-8 6h0m7 17h0m0 10h0"/>
<path stroke="#F8766D" d="M1295 1428h0m-9 9h0m16 1h0m-17 14h0m4 4h0m6 5h0m-6 4h0m-1 2h0m3 8h0m12 2h0m-13 5h0m11 2h0m-12 5h0m-2 3h0m-1 3h0m2 11h0m11 4h0m2 5h0m-6 1h0m9 1h0m-6 1h0m-9 15h0m2 5h0m-1 13h0m-3 10h0m15 4h0m1 8h0m-2 6h0m-1 7h0m-11 6h0m13 22h0m-11 5h0m7 5h0m-11 3h0m16 26h0m0 12h0m-1 2h0m-10 6h0m-7 3h0m0 12h0m18 8h0m-16 6h0m16 1h0m-1 2h0m0 24h0m-6 5h0m4 18h0m-10 10h0m-4 7h0m8 17h0m-7 17h0m1 0h0m2 32h0m13 4h0m-7 6h0m1 4h0m4 5h0m-12 1h0m13 0h0m-6 1h0m6 13h0m-12 8h0m-1 2h0m2 25h0m-1 7h0m-1 4h0m13 7h0m-13 2h0m-1 2h0m2 20h0m-4 13h0m8 12h0m-4 17h0m9 21h0m3 6h0m-13 1h0m12 47h0"/>
<path stroke="#C77CFF" d="M1293 1925h0m7 39h0m-11 13h0m3 2h0m8 10h0m-10 28h0m3 33h0m0 4h0m9 15h0m-14 5h0m-2 3h0m4 1h0m-3 1h0m15 4h0m-14 1h0m15 11h0"/>
<path stroke="#7CAE00" d="M1288 1600h0m12 47h0m3 181h0m-17 50h0m-2 19h0m7 109h0m12 9h0m-1 87h0m-14 5h0m1 2h0m-4 1h0"/>
<path stroke="#F8766D" d="M1322 1394h0m-10 4h0m3 29h0m-11 9h0m14 6h0m0 22h0m2 14h0m-14 4h0m3 3h0m7 4h0m7 8h0m-14 7h0m4 6h0m-3 5h0m9 16h0m-13 5h0m4 0h0m6 8h0m-5 12h0m-2 6h0m12 6h0m-3 0h0m-4 1h0m4 2h0m0 9h0m-1 9h0m-8 24h0m-1 8h0m10 3h0m-9 4h0m10 5h0m1 7h0m-1 11h0m-1 12h0m6 20h0m-14 17h0m3 13h0m2 33h0m3 10h0m4 30h0m-15 6h0m6 7h0m6 7h0m-1 21h0m-7 18h0m-1 3h0m5 3h0m-4 9h0m0 13h0m9 0h0m-11 3h0m12 1h0m-6 9h0m-6 17h0m6 11h0m3 1h0m0 7h0m-11 5h0m3 20h0m-4 9h0m6 7h0m6 25h0m-9 5h0m0 20h0m10 2h0m-2 11h0m-4 9h0m1 3h0m-9 19h0m9 12h0m4 14h0"/>
<path stroke="#C77CFF" d="M1318 1877h0m0 53h0m-2 13h0m2 23h0m-8 2h0m-5 14h0m15 9h0m1 8h0m-8 14h0m-3 12h0m1 7h0m-1 4h0m0 6h0m1 27h0m9 4h0m-2 8h0m1 29h0"/>
<path stroke="#7CAE00" d="M1310 1535h0m-5 1h0m5 11h0m11 302h0m0 39h0m-5 47h0m2 56h0m4 24h0m-4 12h0m-7 21h0m-2 51h0m-4 5h0m12 0h0"/>
<path stroke="#00BFC4" d="M1305 2082h0m6 9h0m0 11h0m8 0h0m-10 4h0"/>
<path stroke="#F8766D" d="M1338 1414h0m-11 37h0m3 20h0m3 8h0m-6 3h0m15 10h0m-6 3h0m-9 7h0m8 11h0m-10 5h0m14 4h0m-9 0h0m11 2h0m0 0h0m1 3h0m-10 2h0m-4 0h0m3 2h0m10 1h0m-13 1h0m-3 8h0m11 3h0m5 4h0m-6 3h0m-7 3h0m12 4h0m2 12h0m-6 7h0m-1 9h0m-5 4h0m-5 1h0m12 37h0m-12 19h0m8 4h0m6 0h0m-10 4h0m-3 5h0m11 1h0m-1 10h0m5 23h0m-2 24h0m-3 3h0m0 1h0m3 1h0m-1 1h0m2 6h0m-15 32h0m17 16h0m-17 24h0m15 13h0m-4 1h0m-3 21h0m5 7h0m-2 11h0m-7 2h0m7 19h0m-11 3h0m15 4h0m-5 1h0m6 0h0m1 13h0m-2 7h0m-12 1h0m9 18h0m-1 11h0m0 6h0m1 0h0m2 5h0m3 3h0m-6 7h0m-9 4h0m11 1h0m2 1h0m3 5h0m-18 5h0m18 20h0m-4 7h0m1 10h0m-12 17h0m8 5h0m3 27h0m3 20h0m-14 20h0m9 2h0"/>
<path stroke="#C77CFF" d="M1341 1760h0m-16 110h0m15 36h0m-7 38h0m5 30h0m-10 2h0m13 11h0m-5 43h0m5 6h0m-5 11h0m-11 16h0m15 17h0"/>
<path stroke="#7CAE00" d="M1336 1530h0m-10 66h0m18 223h0m-3 13h0m2 54h0m-10 25h0m-2 69h0m9 29h0m-6 18h0m-7 26h0m12 5h0m-5 19h0m-6 27h0m5 3h0m3 3h0m5 5h0"/>
<path stroke="#00BFC4" d="M1339 2084h0m-5 19h0m-9 4h0"/>
<path stroke="#F8766D" d="M1353 1372h0m0 24h0m-6 18h0m6 8h0m6 10h0m-14 1h0m14 2h0m-9 19h0m7 14h0m4 3h0m-8 3h0m9 5h0m-2 1h0m-2 12h0m3 3h0m3 4h0m-19 1h0m13 4h0m-1 6h0m-8 2h0m8 1h0m2 8h0m-7 6h0m6 3h0m1 13h0m-1 0h0m-5 8h0m-8 1h0m9 8h0m-2 1h0m0 1h0m11 2h0m-4 18h0m3 2h0m-17 11h0m3 22h0m5 27h0m-7 11h0m14 3h0m-4 9h0m-9 20h0m4 12h0m8 29h0m-3 2h0m0 14h0m-2 8h0m-2 42h0m-7 1h0m14 46h0m-7 4h0m6 5h0m0 27h0m0 18h0m1 0h0m-7 3h0m2 19h0m-7 9h0m15 8h0m-11 10h0m1 20h0m3 9h0m-1 41h0m0 6h0m-9 11h0m7 7h0m-4 13h0m8 12h0m2 32h0m1 10h0m5 6h0"/>
<path stroke="#C77CFF" d="M1359 1597h0m-12 294h0m5 47h0m6 23h0m-1 12h0m1 15h0m1 8h0m3 6h0m-13 7h0m2 0h0m7 0h0m-5 21h0m0 14h0m1 1h0m-2 8h0m3 7h0m2 7h0m1 0h0m-12 2h0m12 20h0m-4 2h0"/>
<path stroke="#7CAE00" d="M1348 1568h0m10 1h0m1 33h0m4 18h0m-3 76h0m2 97h0m-3 33h0m-12 4h0m9 58h0m8 28h0m-11 51h0m6 140h0m-1 3h0"/>
<path stroke="#00BFC4" d="M1347 2074h0m-2 9h0m7 23h0"/>
<path stroke="#F8766D" d="M1367 1367h0m5 36h0m-6 0h0m16 11h0m-9 7h0m4 30h0m-11 2h0m3 0h0m7 5h0m3 15h0m-14 2h0m7 2h0m3 2h0m-3 2h0m6 4h0m-6 6h0m-3 5h0m-4 11h0m1 3h0m14 4h0m-1 11h0m3 21h0m-1 0h0m-15 1h0m14 3h0m-13 4h0m-2 12h0m8 10h0m1 9h0m4 2h0m-8 10h0m0 9h0m2 21h0m-3 1h0m8 12h0m0 13h0m-8 10h0m5 11h0m-7 6h0m-2 7h0m19 12h0m-6 6h0m-1 3h0m4 52h0m-2 21h0m-4 19h0m-8 6h0m14 19h0m-17 8h0m19 6h0m-12 6h0m3 24h0m-2 15h0m-4 13h0m8 6h0m3 18h0m3 5h0m-2 4h0m-10 2h0m11 2h0m-13 1h0m2 1h0m9 1h0m-14 0h0m13 2h0m4 8h0m-17 4h0m8 12h0m2 3h0m-8 1h0m1 28h0m4 6h0m10 0h0m-4 11h0m-4 13h0m-2 14h0m-8 6h0m1 4h0m5 14h0m4 3h0m-8 6h0m16 5h0"/>
<path stroke="#C77CFF" d="M1380 1910h0m-8 17h0m-5 81h0m16 3h0m-15 7h0m11 28h0m2 22h0m-8 4h0m5 23h0"/>
<path stroke="#7CAE00" d="M1369 1603h0m12 89h0m-3 34h0m-3 75h0m-3 88h0m1 42h0m-1 14h0m0 18h0m7 11h0m-13 44h0m10 16h0m5 10h0m-4 24h0m-3 6h0m-4 9h0m3 9h0m-2 20h0"/>
<path stroke="#00BFC4" d="M1377 2090h0m5 15h0"/>
<path stroke="#F8766D" d="M1386 1394h0m18 11h0m-18 2h0m-1 6h0m1 3h0m3 2h0m-2 5h0m-1 6h0m9 6h0m-8 13h0m10 8h0m-11 0h0m14 7h0m-14 3h0m11 1h0m-12 0h0m18 3h0m-13 7h0m-5 7h0m19 6h0m-18 4h0m17 0h0m-1 3h0m2 5h0m-18 2h0m11 2h0m7 14h0m-19 18h0m2 25h0m0 5h0m8 4h0m-8 7h0m1 18h0m16 10h0m-17 12h0m0 24h0m6 11h0m9 2h0m-16 4h0m2 35h0m14 1h0m-11 23h0m12 0h0m1 10h0m-2 28h0m-7 9h0m-9 10h0m-1 15h0m11 1h0m6 3h0m-15 25h0m9 1h0m-10 4h0m18 0h0m-18 10h0m3 3h0m-3 4h0m9 12h0m4 10h0m-11 2h0m-3 10h0m19 4h0m-18 1h0m14 11h0m-12 2h0m15 5h0m-4 13h0m4 3h0m-1 3h0m-16 4h0m9 4h0m-1 9h0m7 2h0m-12 1h0m8 3h0m-2 9h0m7 9h0m2 5h0m0 5h0m-18 26h0m16 17h0m-14 2h0m14 13h0m-5 6h0m-11 7h0m17 3h0m-16 7h0m0 1h0m-2 16h0m11 0h0m-9 6h0m0 1h0m-3 34h0"/>
<path stroke="#C77CFF" d="M1401 1722h0m-2 109h0m-5 3h0m-8 56h0m15 16h0m-2 11h0m-10 12h0m-3 13h0m1 20h0m17 2h0m-8 19h0m7 2h0m-6 12h0m-5 14h0m0 26h0m4 2h0m-1 5h0m8 4h0m-6 18h0m-10 1h0m16 0h0m-8 4h0m-9 12h0m1 5h0m17 1h0m-10 0h0"/>
<path stroke="#7CAE00" d="M1389 1672h0m1 68h0m-4 57h0m15 16h0m-6 23h0m8 5h0m-9 18h0m2 40h0m3 149h0m-15 22h0m1 10h0m11 8h0m-10 10h0m7 0h0m-2 5h0m-4 5h0"/>
<path stroke="#00BFC4" d="M1403 2083h0m-15 0h0m6 12h0m3 2h0"/>
<path stroke="#F8766D" d="M1409 1387h0m1 1h0m-5 2h0m12 8h0m-7 10h0m2 0h0m-5 7h0m1 2h0m-1 1h0m-2 7h0m6 1h0m8 18h0m-9 2h0m-1 3h0m9 9h0m-1 0h0m-10 1h0m4 1h0m1 7h0m-2 11h0m2 3h0m4 1h0m-1 5h0m5 0h0m0 8h0m3 0h0m-15 6h0m4 5h0m8 0h0m-8 0h0m1 7h0m-9 6h0m16 9h0m-8 8h0m6 8h0m2 15h0m0 5h0m-4 4h0m-8 2h0m16 7h0m-5 11h0m-3 5h0m5 11h0m-16 5h0m14 1h0m-2 0h0m-10 1h0m3 1h0m-1 22h0m0 39h0m1 9h0m8 3h0m-5 1h0m-8 16h0m4 2h0m5 1h0m-10 3h0m14 11h0m-10 7h0m-1 5h0m5 25h0m4 1h0m-12 7h0m6 7h0m12 4h0m-13 3h0m-4 5h0m11 1h0m6 2h0m-12 2h0m-4 1h0m15 15h0m2 16h0m-14 1h0m9 2h0m-8 1h0m2 8h0m6 5h0m-10 6h0m13 1h0m0 1h0m-14 1h0m-2 17h0m7 15h0m-3 1h0m10 14h0m-3 6h0m-6 7h0m-2 0h0m14 9h0m-12 7h0m4 13h0m-3 3h0m0 2h0m-2 9h0m14 17h0m-4 12h0m-14 9h0m15 2h0m-4 39h0m-1 12h0m-5 7h0m-5 52h0"/>
<path stroke="#C77CFF" d="M1421 1835h0m-10 42h0m0 19h0m5 43h0m-11 27h0m17 6h0m-17 26h0m2 20h0m15 15h0m-9 11h0m0 27h0m1 7h0m10 11h0m-7 9h0m5 3h0m-11 6h0m5 2h0"/>
<path stroke="#7CAE00" d="M1409 1532h0m8 149h0m-2 3h0m6 44h0m-16 57h0m6 9h0m12 37h0m-5 7h0m0 73h0m6 7h0m-15 20h0m-1 38h0m12 34h0m-1 45h0m-10 6h0m0 25h0m-1 18h0"/>
<path stroke="#00BFC4" d="M1409 2077h0m0 1h0m1 27h0m-4 6h0m3 3h0m0 0h0"/>
<path stroke="#F8766D" d="M1432 1355h0m6 35h0m-7 10h0m5 11h0m4 1h0m-7 6h0m0 2h0m-4 8h0m-2 2h0m10 13h0m-1 5h0m-1 9h0m-5 14h0m-2 6h0m0 32h0m6 18h0m-7 16h0m8 6h0m6 7h0m-16 3h0m6 6h0m-5 9h0m17 18h0m-14 1h0m-1 35h0m4 13h0m-3 1h0m-3 11h0m6 24h0m-8 5h0m15 5h0m4 19h0m-9 2h0m-2 11h0m-7 2h0m10 1h0m-10 10h0m13 4h0m-8 6h0m8 2h0m-9 0h0m6 29h0m1 7h0m-11 12h0m2 16h0m6 6h0m-1 15h0m4 4h0m-6 1h0m-1 5h0m10 3h0m-12 8h0m1 8h0m0 4h0m0 17h0m1 10h0m9 1h0m-9 5h0m-1 10h0m-1 1h0m2 3h0m2 22h0m-2 1h0m5 3h0m-10 0h0m10 21h0m-1 11h0m5 15h0m-6 11h0m3 5h0m-9 0h0m7 6h0m0 1h0m-3 20h0m-5 0h0m10 12h0m-6 26h0m0 2h0"/>
<path stroke="#C77CFF" d="M1428 1594h0m12 75h0m-12 119h0m3 97h0m7 20h0m-3 16h0m9 16h0m-14 28h0m9 6h0m-7 2h0m2 8h0m-5 8h0m4 8h0m-5 16h0m-2 7h0m16 8h0m-12 4h0m-2 3h0m1 3h0m12 25h0m-13 9h0m1 3h0m5 4h0m2 20h0m-5 6h0m6 5h0"/>
<path stroke="#7CAE00" d="M1439 1471h0m-3 31h0m1 99h0m2 77h0m-11 21h0m9 57h0m3 74h0m-10 21h0m2 55h0m4 50h0m1 27h0m-4 9h0m-3 109h0m-2 4h0m1 1h0m3 1h0m7 2h0m-10 4h0m8 0h0m-1 0h0"/>
<path stroke="#00BFC4" d="M1437 1342h0m-2 760h0m4 0h0"/>
<path stroke="#F8766D" d="M1464 1348h0m-6 26h0m0 16h0m-12 34h0m6 2h0m-6 1h0m4 11h0m10 1h0m-3 4h0m-4 5h0m-4 1h0m-1 0h0m15 6h0m-16 6h0m2 2h0m8 6h0m5 6h0m-13 2h0m1 5h0m11 16h0m2 10h0m-8 2h0m6 2h0m-7 6h0m6 10h0m3 3h0m-6 1h0m0 3h0m2 1h0m-1 8h0m4 0h0m-11 1h0m10 0h0m-3 21h0m-7 22h0m-6 1h0m1 2h0m3 9h0m9 1h0m-9 5h0m9 5h0m-13 4h0m18 1h0m-6 6h0m0 2h0m-10 1h0m14 9h0m-4 1h0m-7 1h0m3 1h0m9 1h0m-4 8h0m-7 6h0m-3 15h0m-3 16h0m18 1h0m-1 15h0m-7 2h0m1 33h0m-9 20h0m-1 23h0m1 16h0m11 5h0m3 1h0m-11 4h0m4 6h0m9 10h0m-11 6h0m-1 12h0m10 0h0m-12 5h0m3 3h0m-5 1h0m-2 6h0m12 4h0m-10 5h0m13 26h0m-9 4h0m0 4h0m-5 1h0m1 3h0m14 2h0m-2 2h0m-12 4h0m14 20h0m2 4h0m-5 10h0m-13 1h0m5 3h0m-4 6h0m18 11h0m-7 4h0m-7 2h0m14 16h0m-3 20h0m-11 1h0m0 15h0m7 3h0m-11 2h0m0 7h0m14 17h0m-10 2h0m11 6h0m-1 14h0m-9 5h0m-2 1h0m-3 5h0m16 9h0m-2 18h0"/>
<path stroke="#C77CFF" d="M1458 1663h0m0 103h0m-13 92h0m13 35h0m-5 34h0m-3 4h0m12 34h0m-15 8h0m4 43h0m-5 13h0m14 3h0m-9 3h0m1 20h0m-7 7h0m0 0h0m17 7h0m-4 0h0m-10 2h0m13 2h0m-1 1h0m4 2h0m-16 0h0m9 3h0m-11 10h0m11 6h0"/>
<path stroke="#7CAE00" d="M1457 1582h0m-6 57h0m7 104h0m3 13h0m0 50h0m0 98h0m-13 13h0m14 7h0m1 36h0m-16 119h0m13 10h0m-4 16h0"/>
<path stroke="#00BFC4" d="M1446 2072h0m16 12h0m-2 5h0m1 6h0m-2 14h0"/>
<path stroke="#F8766D" d="M1483 1389h0m-1 23h0m-17 11h0m19 40h0m-2 15h0m-4 4h0m-9 6h0m12 9h0m2 0h0m-12 3h0m10 3h0m1 8h0m2 1h0m-1 2h0m-9 5h0m2 4h0m7 4h0m-1 0h0m-15 12h0m16 9h0m-14 0h0m10 21h0m-6 3h0m-8 13h0m6 1h0m11 1h0m2 11h0m-1 9h0m-10 2h0m10 19h0m-1 9h0m1 18h0m-7 2h0m-2 2h0m-8 11h0m13 15h0m-5 2h0m-1 3h0m10 3h0m-9 10h0m-3 9h0m-2 5h0m14 6h0m-14 1h0m8 15h0m6 13h0m-4 17h0m1 1h0m3 20h0m-15 23h0m0 11h0m11 6h0m-6 3h0m2 3h0m8 0h0m-1 19h0m-14 2h0m10 7h0m-5 6h0m-2 7h0m12 2h0m-14 3h0m14 6h0m-7 20h0m6 2h0m-10 10h0m-3 2h0m14 6h0m-1 1h0m2 1h0m-7 5h0m4 1h0m0 18h0m-16 17h0m18 6h0m-8 68h0m7 3h0m1 4h0m-1 3h0m-7 25h0"/>
<path stroke="#C77CFF" d="M1482 1878h0m-11 21h0m-6 152h0m7 0h0"/>
<path stroke="#7CAE00" d="M1468 1458h0m16 189h0m-15 4h0m-1 61h0m15 39h0m0 29h0m1 11h0m-11 46h0m6 23h0m-9 8h0m13 51h0m-11 57h0m-1 4h0m0 30h0m3 20h0m-3 9h0m12 32h0m-1 9h0m-7 13h0m-5 11h0m1 2h0m11 2h0m-12 5h0"/>
<path stroke="#00BFC4" d="M1482 2101h0m-7 12h0"/>
<path stroke="#F8766D" d="M1484 1364h0m1 27h0m17 10h0m-13 25h0m1 15h0m9 4h0m4 4h0m-3 11h0m1 8h0m3 10h0m-7 10h0m3 4h0m-11 1h0m12 8h0m-3 4h0m2 5h0m-1 19h0m1 1h0m-9 0h0m-7 1h0m9 0h0m0 6h0m5 0h0m-9 10h0m11 10h0m-10 1h0m13 6h0m-2 45h0m-15 5h0m5 17h0m4 23h0m2 7h0m-1 19h0m-12 10h0m17 3h0m3 14h0m-3 61h0m-8 14h0m4 3h0m-9 0h0m-3 16h0m5 16h0m-6 2h0m6 5h0m0 14h0m6 6h0m-7 21h0m11 2h0m-2 8h0m1 18h0m-5 28h0m2 2h0m8 8h0m-2 1h0m-12 2h0m6 23h0m5 2h0m1 18h0m-17 2h0m6 27h0m-5 5h0m9 20h0m5 5h0m-16 0h0m12 19h0m-7 5h0m-5 4h0m0 1h0m5 29h0m15 6h0"/>
<path stroke="#C77CFF" d="M1495 1864h0m5 90h0m-2 31h0m6 9h0m-13 12h0m12 15h0m-11 7h0m11 11h0m-6 13h0m-11 0h0m14 8h0m-9 1h0m8 11h0m-2 3h0m4 15h0"/>
<path stroke="#7CAE00" d="M1498 1540h0m-9 23h0m3 14h0m7 29h0m-9 25h0m-1 55h0m-4 91h0m14 4h0m-8 24h0m13 7h0m-15 4h0m14 5h0m-14 45h0m-3 17h0m6 30h0m-4 4h0m14 35h0m-6 131h0m-8 5h0m6 14h0m0 2h0"/>
<path stroke="#00BFC4" d="M1503 2101h0"/>
<path stroke="#F8766D" d="M1509 1393h0m10 16h0m3 4h0m-16 2h0m9 10h0m-5 11h0m4 2h0m-3 8h0m3 10h0m3 3h0m-9 0h0m14 14h0m-10 6h0m3 6h0m-10 2h0m18 11h0m-12 6h0m4 2h0m6 8h0m-12 12h0m8 2h0m-10 0h0m7 3h0m3 5h0m-4 2h0m9 1h0m-8 1h0m10 5h0m-11 0h0m1 8h0m-4 0h0m3 1h0m-3 4h0m8 3h0m-13 1h0m1 14h0m-2 0h0m10 2h0m-2 4h0m11 8h0m-5 11h0m-8 7h0m9 10h0m-12 2h0m-2 7h0m8 19h0m-6 19h0m11 29h0m-12 10h0m8 0h0m-7 9h0m1 5h0m5 29h0m2 8h0m-8 10h0m8 4h0m-3 13h0m-5 24h0m8 7h0m8 10h0m-2 2h0m-3 0h0m-4 2h0m2 2h0m5 2h0m-3 1h0m-4 2h0m7 7h0m-7 20h0m7 0h0m-1 7h0m-13 1h0m0 2h0m6 3h0m2 48h0m8 6h0m-8 7h0m2 3h0m-4 8h0m-9 2h0m3 11h0m7 2h0m-9 13h0m9 29h0m1 23h0m-11 27h0m8 2h0m1 1h0m-8 1h0m16 6h0m2 13h0m-8 10h0m1 17h0"/>
<path stroke="#C77CFF" d="M1514 1788h0m-1 119h0m-8 1h0m13 22h0m-8 21h0m9 0h0m-5 19h0m-3 40h0m3 4h0m8 1h0m-5 8h0m-2 9h0m-1 9h0m0 15h0m-4 25h0"/>
<path stroke="#7CAE00" d="M1521 1627h0m-11 9h0m-4 195h0m17 22h0m-8 5h0m-11 43h0m8 139h0m-2 14h0m5 19h0m0 32h0m2 1h0m-3 3h0"/>
<path stroke="#00BFC4" d="M1506 2096h0m0 1h0m2 2h0m5 8h0m-3 8h0"/>
<path stroke="#F8766D" d="M1526 1369h0m0 12h0m12 21h0m-13 5h0m17 2h0m2 4h0m-2 13h0m-5 6h0m-4 2h0m1 8h0m8 14h0m-13 3h0m12 4h0m-4 11h0m5 1h0m-7 1h0m-7 6h0m16 3h0m-4 20h0m1 6h0m-13 1h0m15 1h0m-15 0h0m1 1h0m-2 7h0m2 0h0m13 8h0m-16 4h0m12 4h0m-11 8h0m6 15h0m-6 1h0m1 1h0m15 12h0m-6 2h0m2 0h0m-12 13h0m-1 0h0m1 25h0m-1 0h0m14 26h0m-12 25h0m6 6h0m-7 4h0m0 8h0m8 0h0m-2 14h0m2 109h0m-2 3h0m-6 14h0m14 1h0m-1 12h0m1 1h0m-4 9h0m-10 1h0m7 4h0m-6 4h0m10 34h0m3 7h0m-5 3h0m-10 5h0m17 22h0m-15 1h0m12 7h0m-14 0h0m7 7h0m1 4h0m-8 14h0m18 6h0m-17 5h0m1 2h0m4 50h0m2 1h0m-6 0h0m0 15h0m15 59h0m-16 14h0"/>
<path stroke="#C77CFF" d="M1534 1883h0m8 75h0m-15 8h0m-1 6h0m17 2h0m-13 1h0m-2 2h0m9 29h0m-8 10h0m5 8h0m-9 1h0m17 26h0m-15 13h0m-1 2h0m3 20h0m8 9h0m-11 16h0m8 2h0"/>
<path stroke="#7CAE00" d="M1540 1568h0m-13 95h0m17 82h0m-17 88h0m16 194h0m-15 49h0m-1 24h0m0 15h0"/>
<path stroke="#00BFC4" d="M1540 2084h0m-3 6h0m-9 6h0"/>
<path stroke="#F8766D" d="M1551 1409h0m10 7h0m-4 1h0m-11 7h0m12 6h0m-5 1h0m-1 14h0m7 2h0m2 5h0m-15 3h0m8 7h0m-3 19h0m5 2h0m-11 9h0m10 3h0m0 3h0m7 11h0m-17 2h0m1 3h0m7 8h0m2 4h0m-8 7h0m15 2h0m-9 1h0m0 1h0m2 21h0m8 3h0m-9 4h0m0 12h0m-8 1h0m6 9h0m-8 13h0m9 7h0m0 2h0m-1 2h0m0 15h0m12 5h0m-11 4h0m0 5h0m9 32h0m-9 0h0m9 3h0m-11 13h0m3 43h0m5 29h0m4 22h0m-17 7h0m5 2h0m0 6h0m3 34h0m10 19h0m-7 5h0m-12 2h0m5 18h0m4 5h0m-6 2h0m-4 23h0m11 21h0m-2 2h0m0 19h0m1 4h0m-1 1h0m2 20h0m-2 11h0m5 18h0m-6 1h0m2 2h0m7 10h0m-8 22h0m-8 17h0m15 12h0"/>
<path stroke="#C77CFF" d="M1561 1876h0m-1 19h0m-4 28h0m0 11h0m-3 21h0m1 38h0m0 4h0m1 15h0m9 10h0m-8 1h0m-2 5h0m6 25h0m-11 1h0m6 42h0"/>
<path stroke="#7CAE00" d="M1552 1512h0m2 159h0m-10 124h0m12 55h0m-3 44h0m1 5h0m-8 90h0m14 24h0m3 31h0m1 4h0m-3 6h0m-8 47h0m-8 0h0m8 2h0m-6 3h0"/>
<path stroke="#00BFC4" d="M1554 2092h0"/>
<path stroke="#F8766D" d="M1574 1348h0m-9 10h0m5 0h0m-4 14h0m10 20h0m7 11h0m-18 1h0m12 0h0m0 2h0m-1 2h0m2 2h0m-4 1h0m-2 10h0m9 1h0m-6 3h0m3 1h0m-2 2h0m-11 1h0m12 5h0m5 2h0m-16 2h0m-2 6h0m12 3h0m-11 3h0m12 7h0m0 12h0m-9 7h0m7 0h0m-10 0h0m1 4h0m10 4h0m-8 3h0m5 4h0m2 3h0m-8 1h0m-3 1h0m3 3h0m9 2h0m0 10h0m-11 1h0m9 2h0m2 2h0m0 1h0m-12 1h0m13 2h0m0 0h0m-1 3h0m0 2h0m0 1h0m2 8h0m-8 1h0m6 3h0m-11 3h0m-1 4h0m0 7h0m12 2h0m-8 1h0m14 1h0m-4 14h0m-2 3h0m-7 9h0m8 11h0m4 1h0m-12 23h0m-4 4h0m18 2h0m-6 13h0m4 12h0m-8 9h0m-7 8h0m18 6h0m-15 26h0m7 15h0m0 8h0m7 19h0m-12 7h0m5 3h0m-1 1h0m0 4h0m1 3h0m-1 8h0m3 28h0m1 18h0m-8 40h0m5 22h0m3 17h0m-2 1h0m-12 27h0m4 1h0m10 3h0m-10 22h0m-3 0h0m3 4h0m11 1h0m-15 7h0m19 5h0m-11 1h0m-3 0h0m10 19h0m-12 3h0m14 12h0m-9 21h0m-8 30h0m11 7h0m-7 9h0m9 2h0m-2 13h0m-12 4h0"/>
<path stroke="#C77CFF" d="M1580 1762h0m-13 34h0m-2 10h0m11 42h0m-10 14h0m10 18h0m-10 19h0m11 10h0m-13 37h0m19 1h0m-17 18h0m7 5h0m2 14h0m0 26h0m-7 7h0m0 44h0m9 5h0m-12 1h0m18 10h0m-18 14h0"/>
<path stroke="#7CAE00" d="M1564 1339h0m6 202h0m3 214h0m3 58h0m1 47h0m0 4h0m-8 21h0m-5 4h0m11 168h0m-8 14h0m9 20h0m5 17h0m-5 7h0"/>
<path stroke="#00BFC4" d="M1569 1341h0m4 769h0m9 5h0"/>
<path stroke="#F8766D" d="M1585 1381h0m19 17h0m-8 7h0m2 5h0m4 16h0m0 0h0m-16 19h0m-1 2h0m0 20h0m2 3h0m5 13h0m-1 4h0m9 7h0m3 4h0m1 2h0m0 25h0m-8 1h0m3 8h0m4 3h0m-4 2h0m-10 1h0m15 3h0m-1 5h0m-3 7h0m-1 11h0m0 2h0m0 21h0m0 0h0m-6 9h0m-8 20h0m16 7h0m-3 3h0m-1 3h0m-4 3h0m-7 0h0m15 3h0m-12 9h0m8 7h0m2 13h0m-15 5h0m20 0h0m-5 6h0m5 33h0m-2 14h0m-13 21h0m11 4h0m-15 13h0m4 2h0m-4 6h0m14 25h0m-14 10h0m7 2h0m11 3h0m-16 3h0m9 2h0m-3 6h0m-4 14h0m8 3h0m1 7h0m1 4h0m-9 11h0m2 36h0m-2 7h0m2 15h0m7 4h0m-6 8h0m10 19h0m-5 2h0m-4 23h0m0 5h0m-2 6h0m7 20h0m-4 9h0m4 25h0m-13 0h0m11 0h0m-6 5h0m-5 4h0m13 36h0"/>
<path stroke="#C77CFF" d="M1590 1753h0m9 215h0m-6 55h0m3 7h0m3 14h0m3 13h0m-4 8h0"/>
<path stroke="#7CAE00" d="M1592 1520h0m5 48h0m-3 55h0m5 75h0m-1 14h0m-8 24h0m13 46h0m-2 59h0m-12 98h0m10 34h0m-1 27h0m1 76h0m-2 4h0m-6 26h0"/>
<path stroke="#00BFC4" d="M1586 2074h0m17 22h0m-17 7h0"/>
<path stroke="#F8766D" d="M1613 1418h0m11 5h0m-7 5h0m7 2h0m-20 2h0m15 2h0m5 4h0m-1 7h0m-1 7h0m-10 4h0m-3 5h0m2 0h0m1 3h0m-6 0h0m4 0h0m12 2h0m-5 24h0m-5 1h0m2 1h0m9 9h0m-7 9h0m-3 4h0m4 11h0m6 7h0m-6 36h0m-7 13h0m2 4h0m12 20h0m-15 22h0m13 23h0m-13 7h0m-3 13h0m10 2h0m-6 35h0m-3 30h0m1 3h0m7 6h0m-6 10h0m13 4h0m0 6h0m-17 11h0m18 1h0m-14 44h0m4 14h0m-5 13h0m-3 5h0m19 19h0m-18 2h0m5 7h0m12 10h0m-12 9h0m-7 4h0m5 13h0m4 3h0m-1 15h0m6 1h0m-3 8h0m-11 3h0m4 5h0m-1 4h0m17 6h0m-17 9h0m8 7h0m-7 15h0m15 6h0m-2 4h0m-13 13h0m0 9h0m14 34h0m1 53h0"/>
<path stroke="#C77CFF" d="M1623 1797h0m-15 95h0m-3 61h0m0 34h0m2 49h0m16 8h0m-15 10h0"/>
<path stroke="#7CAE00" d="M1617 1400h0m-8 121h0m-4 119h0m15 56h0m4 6h0m-11 43h0m2 35h0m8 166h0m-4 9h0m-13 101h0m18 31h0m-14 0h0m10 7h0m-3 13h0m1 5h0"/>
<path stroke="#00BFC4" d="M1606 2071h0m17 21h0m-15 15h0"/>
<path stroke="#F8766D" d="M1635 1400h0m-4 5h0m-5 1h0m14 7h0m-7 1h0m0 0h0m8 2h0m0 16h0m-11 0h0m12 2h0m0 11h0m-11 1h0m-1 5h0m11 0h0m-2 1h0m-1 5h0m-14 9h0m13 2h0m-13 1h0m16 5h0m-15 5h0m10 2h0m-7 7h0m-3 4h0m-1 6h0m9 23h0m9 2h0m-10 2h0m-8 36h0m17 21h0m-9 61h0m-7 1h0m5 6h0m-4 50h0m0 0h0m5 47h0m-2 30h0m12 6h0m-13 12h0m0 18h0m7 13h0m7 2h0m-18 2h0m7 51h0m8 34h0m-8 12h0m-7 4h0m12 24h0m0 57h0m-7 96h0"/>
<path stroke="#C77CFF" d="M1634 1975h0m1 29h0m5 8h0m-9 34h0m10 59h0"/>
<path stroke="#7CAE00" d="M1627 1622h0m13 53h0m-16 29h0m10 263h0m-1 4h0"/>
<path stroke="#00BFC4" d="M1638 2106h0"/>
<path stroke="#F8766D" d="M1660 1354h0m-15 38h0m16 10h0m3 3h0m-11 8h0m-3 1h0m1 0h0m3 0h0m2 5h0m-11 1h0m17 0h0m-9 7h0m8 2h0m-7 2h0m10 1h0m-11 2h0m0 1h0m1 2h0m-3 1h0m-3 4h0m15 0h0m-8 3h0m-2 0h0m2 0h0m-10 1h0m15 1h0m-7 6h0m-1 6h0m3 0h0m-4 0h0m1 2h0m8 0h0m2 3h0m0 1h0m1 1h0m-9 1h0m-2 12h0m0 27h0m8 5h0m2 89h0m-7 24h0"/>
<path stroke="#F8766D" d="M1664 1374h0m4 11h0m-2 4h0m9 5h0m1 8h0m-6 7h0m-4 1h0m9 1h0m-8 2h0m3 3h0m1 0h0m4 1h0m-7 6h0m-1 0h0m15 2h0m-11 1h0m-3 0h0m-3 2h0m12 1h0m0 1h0m-1 2h0m-1 0h0m4 1h0m-12 1h0m14 1h0m-7 2h0m8 2h0m-7 2h0m5 1h0m-3 0h0m-3 6h0m-8 2h0m4 3h0m1 2h0m-4 5h0m-1 4h0m13 2h0m-7 9h0m6 2h0m3 1h0m1 8h0m-9 12h0m4 8h0m6 3h0m-13 2h0m1 8h0m4 5h0m-11 1h0m17 6h0m1 2h0m-7 21h0"/>
<path stroke="#7CAE00" d="M1681 1852h0"/>
<path stroke="#F8766D" d="M1688 1360h0m0 10h0m3 14h0m9 2h0m0 1h0m-8 2h0m-2 5h0m5 10h0m-7 1h0m13 3h0m-9 0h0m7 1h0m-9 3h0m9 0h0m-3 4h0m5 1h0m-8 1h0m7 0h0m2 6h0m-10 3h0m-1 1h0m8 1h0m-9 0h0m-2 3h0m2 0h0m-3 4h0m3 0h0m-2 0h0m-3 1h0m7 1h0m1 1h0m-4 2h0m3 0h0m0 1h0m-5 0h0m7 1h0m5 0h0m-12 1h0m3 3h0m2 0h0m11 0h0m-13 1h0m0 1h0m8 1h0m-6 0h0m-4 7h0m11 2h0m-6 6h0m10 0h0m-4 11h0m-9 2h0m9 1h0m4 3h0m-4 1h0m-12 4h0m16 3h0m-10 5h0m-2 0h0m10 11h0m-11 0h0m-1 11h0m-1 6h0m3 12h0m12 35h0m-11 245h0m6 8h0m3 5h0m-1 9h0m0 1h0m-2 10h0m-8 5h0m12 2h0m-4 6h0m5 4h0m-11 10h0m11 6h0m-13 1h0m2 14h0m7 2h0m-7 9h0m0 10h0m7 17h0m-7 14h0m-4 32h0m13 68h0m-9 18h0m-2 1h0m5 12h0m7 16h0m-1 11h0"/>
<path stroke="#C77CFF" d="M1703 1813h0m-6 43h0m3 99h0m-4 2h0m-5 31h0m-1 11h0m5 10h0m8 12h0m-5 6h0m6 24h0m-5 2h0m-8 4h0m11 1h0m-12 6h0m13 6h0m-13 1h0m-3 7h0m16 1h0m-9 9h0m-2 8h0"/>
<path stroke="#7CAE00" d="M1692 1451h0m4 30h0m8 49h0m-2 252h0m-11 5h0m-1 94h0m-1 15h0m0 190h0m7 1h0m1 18h0m1 8h0"/>
<path stroke="#00BFC4" d="M1694 2069h0m-1 4h0m-5 3h0m4 3h0m9 2h0m0 3h0m-2 3h0m0 0h0m-4 4h0m3 0h0m4 1h0m-5 2h0m-3 3h0m-5 2h0m6 3h0m-2 0h0"/>
<path stroke="#F8766D" d="M1723 1361h0m-5 8h0m-4 10h0m-1 25h0m9 3h0m-17 2h0m1 3h0m3 7h0m0 1h0m-2 4h0m8 9h0m-2 2h0m-2 1h0m-6 5h0m13 9h0m-8 1h0m0 5h0m-2 3h0m15 1h0m-17 16h0m10 6h0m4 2h0m-14 0h0m0 9h0m-1 16h0m17 3h0m-14 14h0m13 8h0m1 4h0m-4 24h0m-4 11h0m8 75h0m-9 4h0m3 14h0m0 77h0m7 8h0m-13 8h0m7 13h0m5 13h0m-6 24h0m1 3h0m3 8h0m-4 2h0m7 7h0m-6 4h0m6 6h0m-1 23h0m-14 1h0m5 4h0m4 9h0m-11 12h0m5 6h0m8 5h0m-14 41h0m6 4h0m10 16h0m2 3h0m-5 7h0m-1 1h0m3 3h0m2 44h0m-8 0h0m-7 19h0m2 7h0m3 5h0m-5 2h0m0 18h0m0 13h0m11 3h0m-13 24h0"/>
<path stroke="#C77CFF" d="M1708 1876h0m2 10h0m13 7h0m-13 30h0m5 28h0m7 19h0m-1 17h0m2 29h0m0 2h0m-17 1h0m18 3h0m-14 0h0m7 13h0m-12 7h0m17 19h0m1 9h0m-8 2h0m-11 2h0m6 1h0m-1 7h0m8 1h0m1 1h0m-3 0h0m2 1h0m0 3h0m-9 1h0m14 3h0m2 4h0m-1 0h0m-1 5h0m-16 14h0"/>
<path stroke="#7CAE00" d="M1723 1797h0m0 38h0m-18 25h0m12 19h0m5 13h0m-15 67h0m8 1h0m9 32h0m-7 56h0m-2 59h0"/>
<path stroke="#00BFC4" d="M1710 2071h0m0 0h0m1 5h0m-2 1h0m9 4h0m-10 0h0m-4 1h0m7 1h0m10 1h0m-16 2h0m1 6h0m5 1h0m-3 2h0m1 4h0m2 0h0m-3 8h0"/>
<path stroke="#F8766D" d="M1736 1403h0m-9 15h0m9 15h0m-4 5h0m-5 1h0m5 0h0m-2 8h0m-1 15h0m-2 22h0m15 17h0m-6 17h0m-4 6h0m-2 3h0m7 10h0m5 9h0m-10 30h0m-1 4h0m-6 2h0m18 13h0m-8 6h0m7 15h0m-1 5h0m-6 10h0m-5 2h0m11 32h0m-1 17h0m2 1h0m-8 13h0m-3 3h0m7 49h0m-8 10h0m12 13h0m-3 14h0m-5 4h0m5 11h0m-2 26h0m-9 2h0m6 8h0m-7 31h0m4 2h0m9 3h0m2 7h0m-1 1h0m-1 6h0m1 2h0m-1 18h0m-11 46h0m11 14h0m4 3h0m-6 12h0m-9 14h0m13 18h0m-8 7h0m7 11h0m-10 13h0m3 4h0m3 1h0m0 13h0m-7 1h0m9 0h0m0 3h0m-6 1h0m10 11h0m-19 4h0"/>
<path stroke="#C77CFF" d="M1742 1830h0m-17 49h0m18 76h0m0 7h0m-16 23h0m0 16h0m-2 3h0m-1 20h0m14 51h0m1 7h0m-8 7h0"/>
<path stroke="#7CAE00" d="M1740 1529h0m-6 85h0m-2 99h0m5 68h0m-1 5h0m-4 46h0m6 108h0m-5 4h0m4 4h0m-3 45h0m7 12h0m-10 22h0m-2 33h0m0 15h0m8 32h0"/>
<path stroke="#00BFC4" d="M1733 2106h0m1 8h0"/>
<path stroke="#F8766D" d="M1757 1388h0m0 9h0m-7 23h0m6 22h0m6 3h0m-6 1h0m7 12h0m-7 20h0m2 7h0m5 5h0m1 25h0m-18 12h0m14 49h0m2 6h0m1 0h0m-6 1h0m-11 6h0m10 3h0m0 2h0m-8 9h0m3 4h0m6 4h0m-12 30h0m11 8h0m0 9h0m-10 54h0m2 8h0m6 10h0m-6 19h0m0 23h0m15 11h0m-7 2h0m0 5h0m-11 4h0m19 2h0m-19 3h0m0 9h0m10 2h0m-10 1h0m10 14h0m-10 15h0m4 1h0m4 19h0m-8 13h0m13 9h0m-2 1h0m-12 16h0m2 7h0m7 3h0m-6 4h0m9 4h0m0 31h0m-4 1h0m11 0h0m-2 13h0m-7 8h0m-7 8h0m0 3h0m-2 1h0m12 22h0m-11 6h0m15 9h0m-6 9h0m8 7h0m-5 4h0m-6 31h0m1 1h0m3 6h0m3 23h0"/>
<path stroke="#C77CFF" d="M1744 1813h0m12 123h0m-10 7h0m3 21h0m6 31h0m-7 10h0m8 29h0m-12 3h0m14 6h0m0 13h0m-2 2h0m-1 8h0m-8 2h0m11 4h0m-2 10h0m-7 1h0m-5 14h0"/>
<path stroke="#7CAE00" d="M1756 1590h0m-10 32h0m-1 4h0m11 169h0m3 52h0m-9 67h0m7 25h0m-7 21h0m5 5h0m-2 56h0m11 23h0m-16 18h0m10 4h0m-3 49h0"/>
<path stroke="#00BFC4" d="M1751 2071h0m6 25h0m-6 11h0m-5 1h0m9 4h0"/>
<path stroke="#F8766D" d="M1767 1394h0m3 23h0m6 49h0m-11 10h0m4 11h0m11 13h0m-14 29h0m-1 8h0m17 13h0m-2 14h0m-12 1h0m2 20h0m8 1h0m-3 32h0m-1 0h0m5 1h0m-11 3h0m9 5h0m-8 0h0m-4 3h0m9 3h0m6 1h0m-7 38h0m5 7h0m-13 3h0m14 51h0m1 2h0m-8 0h0m0 19h0m10 3h0m2 49h0m-7 25h0m3 4h0m-8 10h0m9 0h0m-6 1h0m-8 3h0m-2 6h0m10 6h0m-7 14h0m13 3h0m-14 5h0m0 6h0m1 6h0m6 19h0m1 38h0m7 4h0m-11 39h0m-6 13h0m11 1h0m8 37h0m-16 3h0m15 0h0m-3 0h0m3 13h0m-8 34h0m-11 7h0m10 11h0"/>
<path stroke="#C77CFF" d="M1768 1924h0m16 18h0m-8 36h0m-10 18h0m7 10h0m-5 2h0m15 3h0m0 29h0m-10 1h0m-4 6h0m8 3h0m0 5h0m0 7h0m-5 1h0m-4 2h0m5 3h0m6 0h0m-13 8h0m1 6h0m13 1h0m1 1h0m-9 22h0"/>
<path stroke="#7CAE00" d="M1772 1630h0m2 94h0m-5 67h0m7 36h0m5 17h0m-3 25h0m3 9h0m-10 13h0m1 8h0m9 11h0m-17 9h0m8 57h0m11 1h0m0 61h0m-1 41h0m-5 11h0m7 4h0m-6 2h0"/>
<path stroke="#00BFC4" d="M1776 2078h0m-7 7h0m6 6h0m-2 10h0"/>
<path stroke="#F8766D" d="M1796 1388h0m-2 7h0m7 26h0m-7 2h0m3 6h0m3 2h0m-5 15h0m-6 2h0m0 14h0m-2 2h0m0 29h0m12 13h0m-12 5h0m0 9h0m7 6h0m3 4h0m2 8h0m-3 28h0m-10 11h0m13 6h0m-11 12h0m11 9h0m0 2h0m0 0h0m-12 17h0m15 0h0m-5 1h0m-8 15h0m10 1h0m-9 8h0m10 5h0m-1 8h0m-4 8h0m1 23h0m7 1h0m-12 7h0m10 17h0m-5 1h0m-7 8h0m6 23h0m-10 2h0m-1 11h0m6 1h0m1 7h0m11 0h0m-6 23h0m0 2h0m-7 4h0m-1 9h0m4 2h0m-1 3h0m6 9h0m-10 47h0m13 3h0m-13 7h0m8 11h0m-6 15h0m12 10h0m-17 6h0m0 13h0m3 2h0m1 34h0m2 5h0m5 3h0m6 7h0m-15 12h0m12 11h0m0 1h0m-9 1h0m-3 0h0m17 8h0m-2 3h0m-3 4h0m-14 8h0m17 4h0m1 3h0m-11 1h0m8 11h0m0 10h0m2 5h0m-3 2h0m2 35h0"/>
<path stroke="#C77CFF" d="M1800 1698h0m-11 114h0m6 115h0m-10 2h0m5 3h0m-2 59h0m7 25h0m1 18h0m-7 1h0m-4 2h0m14 4h0m-6 11h0m-5 11h0m4 2h0m0 2h0m11 6h0m-13 5h0m10 2h0m-14 2h0m16 21h0"/>
<path stroke="#7CAE00" d="M1784 1480h0m11 159h0m6 9h0m-15 23h0m2 161h0m1 10h0m8 7h0m5 6h0m-9 41h0m11 91h0m-19 16h0m17 26h0m0 37h0m-3 22h0m-7 4h0"/>
<path stroke="#00BFC4" d="M1793 2084h0m0 22h0m-3 7h0"/>
<path stroke="#F8766D" d="M1818 1390h0m-10 15h0m1 0h0m8 8h0m-4 12h0m-2 14h0m1 21h0m10 4h0m2 3h0m-14 9h0m10 0h0m-11 13h0m-4 7h0m5 14h0m10 4h0m4 33h0m-14 3h0m-1 2h0m1 3h0m0 28h0m-1 11h0m7 7h0m-6 4h0m4 2h0m-6 8h0m3 8h0m-7 1h0m5 1h0m0 3h0m-4 2h0m4 1h0m-1 6h0m0 6h0m11 2h0m-13 10h0m2 1h0m9 12h0m-8 14h0m0 2h0m0 35h0m10 18h0m-11 10h0m-2 10h0m10 3h0m3 0h0m-10 34h0m1 7h0m-2 2h0m1 1h0m0 3h0m3 1h0m1 0h0m2 4h0m-9 5h0m0 2h0m12 6h0m-3 5h0m-6 4h0m0 2h0m4 29h0m6 1h0m1 0h0m3 8h0m-14 6h0m15 6h0m-15 1h0m0 5h0m14 2h0m-8 2h0m-6 3h0m7 9h0m4 8h0m-1 2h0m-10 9h0m13 3h0m-1 6h0m1 3h0m-13 10h0m1 0h0m-1 7h0m15 3h0m-16 9h0m2 2h0m5 6h0m7 1h0m-7 13h0m-6 1h0m0 6h0m-1 0h0m1 10h0m7 7h0m3 6h0m-2 3h0m2 10h0m-14 8h0m11 3h0m2 3h0m-3 11h0m1 18h0"/>
<path stroke="#C77CFF" d="M1818 1744h0m1 133h0m-10 12h0m12 8h0m-12 3h0m1 13h0m8 20h0m3 2h0m0 7h0m-12 5h0m13 8h0m-2 3h0m1 10h0m-9 23h0m1 24h0m4 14h0m-10 4h0m3 11h0m11 2h0m0 10h0m-11 1h0m9 4h0m3 15h0m-2 4h0m-9 1h0m5 14h0m-6 7h0m11 4h0m-13 2h0"/>
<path stroke="#7CAE00" d="M1813 1683h0m1 41h0m-6 94h0m0 1h0m1 6h0m1 1h0m9 6h0m4 25h0m-4 5h0m2 11h0m-1 85h0m-11 76h0m4 5h0m-3 8h0m0 26h0m4 1h0m-6 15h0m4 16h0m2 0h0m-7 10h0"/>
<path stroke="#00BFC4" d="M1818 2084h0m-10 5h0"/>
<path stroke="#F8766D" d="M1826 1361h0m1 11h0m4 15h0m9 12h0m3 2h0m-16 4h0m13 2h0m-4 1h0m-12 8h0m15 1h0m4 0h0m-1 1h0m-9 1h0m8 1h0m-16 1h0m2 1h0m14 2h0m-15 0h0m9 1h0m-9 3h0m11 1h0m-10 0h0m10 5h0m-5 2h0m-2 2h0m12 0h0m-13 1h0m9 1h0m-11 2h0m4 0h0m11 0h0m-7 4h0m9 0h0m-9 1h0m-2 3h0m8 2h0m-7 3h0m8 2h0m-5 3h0m4 1h0m1 7h0m-8 4h0m-2 2h0m6 0h0m-10 3h0m2 13h0m1 53h0m-3 4h0m13 18h0m-9 12h0m7 1h0m3 35h0m0 12h0m-10 23h0m6 39h0m3 11h0m-7 41h0m-10 18h0m7 27h0m6 3h0m-13 4h0m17 5h0m-13 1h0m0 12h0m14 3h0m-2 7h0m-7 8h0m7 2h0m3 1h0m-2 2h0m0 22h0m-4 2h0m-5 7h0m10 3h0m-14 19h0m4 0h0m-7 4h0m19 1h0m-16 17h0m4 2h0m7 1h0m-7 13h0m11 15h0m-13 11h0m3 23h0m-1 1h0m9 1h0m-9 0h0m-5 7h0m13 6h0m0 13h0m-7 0h0m-2 4h0m-5 6h0m15 12h0m1 1h0m-11 3h0m7 3h0m2 1h0m-6 2h0m7 3h0m-13 2h0m13 1h0m-9 7h0m10 2h0m-17 2h0m11 26h0"/>
<path stroke="#C77CFF" d="M1825 1828h0m6 28h0m1 22h0m9 20h0m0 2h0m-2 7h0m5 10h0m-10 17h0m7 5h0m-10 0h0m11 0h0m-17 12h0m7 1h0m6 4h0m-13 4h0m16 1h0m-3 1h0m-6 2h0m9 4h0m-2 5h0m-1 4h0m-6 2h0m-6 7h0m8 2h0m-3 2h0m12 0h0m-12 2h0m-1 7h0m11 1h0m-3 1h0m-6 1h0m-6 3h0m7 1h0m8 1h0m-9 1h0m-1 1h0m12 3h0m-4 1h0m-7 7h0m3 0h0m7 3h0m-9 0h0m9 1h0m-11 1h0m0 2h0m11 2h0m-18 1h0m7 1h0m11 5h0m-12 0h0m-3 3h0m14 2h0m0 6h0m-6 8h0m4 5h0m-6 4h0m-1 7h0m0 22h0m1 3h0m8 2h0"/>
<path stroke="#7CAE00" d="M1841 1386h0m1 222h0m-17 194h0m16 82h0m-10 27h0m9 4h0m3 52h0m-4 8h0m0 24h0m2 24h0m-9 19h0m10 5h0m-1 37h0m-10 3h0m12 2h0m-9 22h0"/>
<path stroke="#00BFC4" d="M1842 2092h0"/>
<path stroke="#F8766D" d="M1854 1354h0m-7 30h0m-1 4h0m5 6h0m6 6h0m-4 3h0m-2 1h0m4 1h0m-2 1h0m2 0h0m4 1h0m4 3h0m-16 0h0m0 4h0m0 2h0m17 0h0m-13 4h0m9 1h0m-9 2h0m-3 7h0m1 1h0m-4 1h0m19 1h0m-12 1h0m11 2h0m-5 0h0m-10 1h0m3 0h0m-2 0h0m6 2h0m-7 1h0m1 0h0m10 1h0m3 3h0m0 1h0m-11 0h0m7 3h0m-12 6h0m12 3h0m-1 1h0m2 1h0m-6 1h0m-4 10h0m-1 5h0m5 6h0m5 5h0m-13 52h0m18 26h0m-12 16h0m10 0h0m-2 11h0m4 7h0m-16 6h0m10 5h0m-5 54h0m-4 28h0m10 14h0m-5 6h0m-2 44h0m12 9h0m-6 1h0m-8 3h0m-1 14h0m3 5h0m-4 0h0m8 20h0m-10 26h0m14 4h0m-1 0h0m-11 0h0m1 5h0m0 7h0m1 8h0m8 2h0m3 14h0m1 2h0m-14 4h0m1 6h0m0 4h0m14 0h0m2 5h0m-17 0h0m14 5h0m-4 3h0m-9 1h0m9 4h0m-5 2h0m0 6h0m8 3h0m-5 6h0m-2 9h0m8 4h0m-12 5h0m8 7h0m0 11h0m-13 1h0m2 2h0m2 2h0m13 3h0m0 7h0m-14 11h0m9 14h0m5 1h0m2 14h0m-11 6h0m-4 13h0m0 28h0"/>
<path stroke="#C77CFF" d="M1857 1821h0m-1 3h0m-10 55h0m15 6h0m-13 17h0m4 6h0m4 1h0m1 8h0m5 7h0m-4 12h0m-1 1h0m6 8h0m-3 8h0m-7 2h0m4 3h0m-8 5h0m8 9h0m6 2h0m-16 5h0m1 1h0m1 1h0m-3 1h0m3 4h0m7 3h0m4 1h0m3 0h0m-12 4h0m4 0h0m-5 5h0m4 1h0m-6 1h0m9 2h0m0 2h0m-9 5h0m7 3h0m-6 2h0m11 1h0m-13 3h0m9 4h0m0 1h0m-9 5h0m11 4h0m4 1h0m-10 2h0m1 0h0m-6 5h0m-2 5h0m13 1h0m4 12h0m1 8h0m-14 9h0m-3 19h0m11 12h0"/>
<path stroke="#7CAE00" d="M1846 1480h0m-2 216h0m16 19h0m-11 8h0m8 11h0m-1 35h0m0 33h0m-10 45h0m12 9h0m0 43h0m5 8h0m-15 42h0m9 0h0m2 4h0m0 17h0m-12 47h0m1 72h0m16 11h0m-3 4h0m-15 0h0m10 0h0m-7 6h0"/>
<path stroke="#00BFC4" d="M1862 2081h0m-15 3h0m15 2h0m-10 0h0m-6 2h0m12 1h0m-6 5h0"/>
<path stroke="#F8766D" d="M1876 1382h0m1 7h0m5 8h0m-12 1h0m0 2h0m14 3h0m-8 4h0m2 0h0m-5 1h0m-1 0h0m12 1h0m-19 0h0m17 1h0m0 1h0m-12 1h0m12 0h0m-16 1h0m1 2h0m6 3h0m3 1h0m-2 8h0m-3 2h0m-1 0h0m6 0h0m-8 1h0m15 0h0m-7 1h0m3 2h0m-14 4h0m8 0h0m2 5h0m-7 0h0m-4 5h0m19 9h0m-7 3h0m2 11h0m-8 4h0m5 2h0m-10 16h0m0 4h0m15 3h0m3 1h0m-18 15h0m10 19h0m-11 18h0m18 1h0m-1 16h0m-4 4h0m-10 41h0m6 5h0m3 17h0m-1 36h0m8 26h0m-1 40h0m-7 3h0m6 50h0m-6 30h0m-11 2h0m16 0h0m-9 6h0m-5 1h0m8 7h0m1 14h0m-10 0h0m11 10h0m1 4h0m-8 16h0m9 0h0m-5 2h0m-4 4h0m5 4h0m-10 2h0m18 3h0m-6 11h0m-10 11h0m4 2h0m12 10h0m-17 9h0m3 14h0m-2 2h0m8 1h0m7 8h0m2 10h0m-7 9h0m7 7h0m-10 2h0m8 25h0m-6 29h0m-1 21h0m5 14h0"/>
<path stroke="#C77CFF" d="M1877 1857h0m2 15h0m-5 0h0m3 8h0m-12 19h0m7 2h0m-4 11h0m8 5h0m-7 6h0m7 1h0m1 4h0m-9 18h0m2 4h0m-5 8h0m10 5h0m-5 3h0m-3 7h0m-2 1h0m11 2h0m6 9h0m-16 0h0m-1 1h0m15 5h0m3 3h0m-11 3h0m2 6h0m-1 0h0m-8 5h0m7 0h0m3 2h0m-5 3h0m1 6h0m11 3h0m-6 0h0m-1 1h0m-7 1h0m6 4h0m-2 14h0m-8 2h0m18 9h0m-4 3h0m0 0h0m-9 7h0m7 14h0m1 2h0m-12 4h0m8 3h0m-6 19h0m8 9h0"/>
<path stroke="#7CAE00" d="M1873 1784h0m1 24h0m1 38h0m-2 4h0m2 7h0m1 24h0m-11 44h0m9 10h0m-5 12h0m13 2h0m-7 28h0m1 7h0m-10 20h0m1 3h0m8 59h0m1 34h0m5 15h0"/>
<path stroke="#00BFC4" d="M1882 2082h0m-1 1h0m2 0h0m-18 0h0m9 2h0m4 1h0m0 1h0m2 0h0m-7 3h0m-1 1h0m10 0h0m-10 1h0m4 1h0m4 1h0m3 0h0m-1 0h0m-11 0h0m10 1h0m2 0h0m0 18h0m-13 1h0"/>
<path stroke="#F8766D" d="M1894 1383h0m-2 7h0m9 4h0m-14 3h0m0 0h0m6 0h0m1 4h0m-7 4h0m1 3h0m14 0h0m-11 1h0m5 0h0m4 3h0m-4 2h0m-1 1h0m4 0h0m-7 1h0m-5 0h0m5 1h0m6 1h0m-5 4h0m10 2h0m-4 3h0m-6 1h0m1 1h0m-6 1h0m15 4h0m1 3h0m-6 2h0m-13 2h0m12 1h0m-7 1h0m0 8h0m-2 9h0m9 1h0m-9 7h0m13 6h0m-3 11h0m-10 8h0m0 49h0m13 6h0m-5 9h0m-7 23h0m5 1h0m3 8h0m-7 23h0m5 16h0m-5 6h0m6 4h0m-6 42h0m-1 4h0m-1 1h0m12 5h0m-9 37h0m-1 4h0m-1 8h0m1 14h0m0 15h0m-1 0h0m-1 6h0m2 2h0m4 3h0m-4 0h0m7 6h0m5 13h0m-2 1h0m-9 6h0m1 28h0m-4 10h0m14 6h0m2 15h0m-16 5h0m9 2h0m-10 1h0m2 1h0m13 2h0m-8 1h0m-6 3h0m1 19h0m10 1h0m-9 9h0m13 2h0m-2 4h0m-13 2h0m9 1h0m-8 1h0m-5 13h0m13 0h0m6 2h0m-1 3h0m-17 0h0m4 0h0m8 7h0m2 19h0m-3 13h0m-4 3h0m-8 3h0m5 3h0m10 1h0m-12 14h0m2 2h0m12 14h0m1 10h0m2 4h0m-18 13h0m3 16h0m-1 0h0m9 2h0m-2 2h0m-9 6h0"/>
<path stroke="#C77CFF" d="M1884 1843h0m20 4h0m-10 3h0m-6 6h0m9 8h0m-1 14h0m5 16h0m-14 0h0m0 21h0m1 6h0m-2 3h0m18 2h0m-13 3h0m7 10h0m-10 1h0m2 2h0m-2 9h0m6 1h0m0 10h0m-6 7h0m12 2h0m-8 6h0m4 1h0m-7 4h0m14 2h0m-15 5h0m14 6h0m-5 0h0m0 0h0m-12 3h0m4 4h0m7 2h0m-5 2h0m-4 4h0m11 0h0m-10 1h0m6 5h0m-5 0h0m-1 9h0m6 1h0m9 1h0m-4 1h0m-1 4h0m5 6h0m-15 11h0m9 6h0m-9 0h0m2 11h0m8 9h0m6 9h0m-7 13h0m-1 3h0m-7 4h0"/>
<path stroke="#7CAE00" d="M1903 1391h0m-10 49h0m-6 234h0m11 10h0m3 91h0m-3 55h0m-11 36h0m7 4h0m8 7h0m-8 21h0m-7 43h0m9 34h0"/>
<path stroke="#00BFC4" d="M1890 2080h0m5 2h0m-7 0h0m0 2h0m0 5h0m6 2h0m-3 0h0m0 0h0m1 0h0m-3 0h0m4 6h0m11 1h0m-19 6h0"/>
<path stroke="#F8766D" d="M1908 1391h0m-2 5h0m6 0h0m-5 0h0m13 4h0m-8 0h0m-7 3h0m9 2h0m-10 0h0m9 0h0m8 2h0m-13 3h0m10 1h0m-5 4h0m-5 0h0m4 4h0m4 1h0m-7 0h0m11 2h0m-5 1h0m6 1h0m-9 2h0m-6 4h0m3 2h0m7 0h0m-5 7h0m-3 0h0m12 1h0m0 4h0m-14 0h0m12 1h0m-12 4h0m12 2h0m-13 9h0m10 0h0m-10 3h0m2 5h0m7 5h0m-5 1h0m5 17h0m5 32h0m0 9h0m-8 9h0m2 13h0m5 18h0m-11 5h0m-3 7h0m12 0h0m-6 15h0m-2 70h0m5 4h0m-4 0h0m-4 12h0m3 33h0m12 24h0m-3 2h0m-10 28h0m11 5h0m-2 1h0m2 3h0m-3 3h0m-11 6h0m12 0h0m-9 8h0m-1 24h0m7 8h0m-9 13h0m5 14h0m9 16h0m-9 23h0m5 2h0m3 6h0m-2 1h0m0 3h0m0 0h0m-2 7h0m4 8h0m-10 0h0m6 17h0m3 6h0m6 13h0m-17 2h0m6 4h0m9 16h0m-2 12h0m-10 6h0m1 3h0m14 14h0m-13 4h0m6 10h0m-1 2h0m-5 48h0m7 3h0m-2 4h0"/>
<path stroke="#C77CFF" d="M1904 1791h0m7 70h0m5 19h0m-6 26h0m3 24h0m-6 7h0m14 7h0m-9 25h0m11 2h0m-10 4h0m-7 7h0m14 11h0m-7 6h0m-8 5h0m17 8h0m-17 12h0m3 5h0m16 9h0m-20 0h0m11 6h0m-9 3h0m12 14h0m-12 3h0m0 2h0m1 1h0m13 27h0m-5 9h0"/>
<path stroke="#7CAE00" d="M1918 1686h0m-1 90h0m7 29h0m-14 12h0m2 7h0m0 16h0m7 30h0m-14 45h0m4 12h0m11 106h0m-12 0h0m10 15h0m-6 52h0m3 6h0"/>
<path stroke="#00BFC4" d="M1911 2115h0"/>
<path stroke="#F8766D" d="M1930 1338h0m4 5h0m5 21h0m-4 9h0m-5 14h0m-5 3h0m0 6h0m17 3h0m-15 2h0m12 2h0m-4 0h0m-8 2h0m5 10h0m4 2h0m5 1h0m0 13h0m1 1h0m-11 5h0m11 0h0m-6 1h0m6 0h0m0 1h0m0 1h0m-13 1h0m5 1h0m5 0h0m3 2h0m0 2h0m-15 4h0m0 12h0m12 21h0m-2 7h0m4 10h0m0 47h0m-5 16h0m4 25h0m-12 5h0m15 43h0m-2 0h0m-8 8h0m9 11h0m-1 7h0m1 5h0m-9 34h0m-6 7h0m14 7h0m2 12h0m-11 69h0m-6 5h0m4 13h0m-4 5h0m0 7h0m11 13h0m-4 21h0m7 2h0m-8 1h0m-1 6h0m-6 3h0m6 9h0m-4 2h0m5 1h0m-4 3h0m-1 3h0m5 2h0m10 0h0m-6 2h0m-3 10h0m3 1h0m4 16h0m-13 4h0m15 0h0m-16 16h0m15 2h0m-14 25h0m5 23h0m-3 2h0m12 3h0m-14 0h0m-1 3h0m10 0h0m-9 2h0m15 0h0m-15 1h0m11 25h0m5 6h0m-9 2h0m-2 6h0"/>
<path stroke="#C77CFF" d="M1936 1897h0m-8 20h0m8 8h0m5 1h0m2 12h0m-2 33h0m-1 22h0m-14 7h0m2 1h0m9 10h0m-9 10h0m1 13h0m4 5h0m3 10h0m-1 0h0m-9 10h0m8 37h0m3 13h0"/>
<path stroke="#7CAE00" d="M1927 1520h0m15 225h0m0 54h0m-6 3h0m-5 12h0m3 10h0m0 98h0m-1 13h0m-5 6h0m1 5h0m13 30h0m-1 19h0m-15 55h0m15 37h0m-8 10h0m-3 1h0m13 3h0m-1 10h0m-1 2h0"/>
<path stroke="#00BFC4" d="M1940 2096h0m-15 1h0"/>
<path stroke="#F8766D" d="M1953 1339h0m0 8h0m11 7h0m-3 1h0m-9 15h0m8 1h0m-12 13h0m13 5h0m-2 17h0m3 1h0m-10 2h0m9 3h0m-7 1h0m6 1h0m4 0h0m-13 1h0m9 0h0m4 0h0m-19 5h0m15 0h0m-13 2h0m11 2h0m-13 0h0m11 0h0m7 3h0m-7 6h0m-11 2h0m4 2h0m11 2h0m-14 4h0m18 6h0m-5 1h0m-7 5h0m8 6h0m2 1h0m-2 18h0m-16 5h0m5 7h0m10 3h0m-6 21h0m5 4h0m-8 1h0m10 11h0m-9 19h0m8 12h0m-6 15h0m6 6h0m2 19h0m0 11h0m-1 0h0m-10 32h0m5 24h0m-2 26h0m3 0h0m6 26h0m-12 23h0m-4 43h0m14 7h0m2 22h0m-1 15h0m-1 3h0m-5 14h0m7 18h0m-12 7h0m7 2h0m-2 8h0m6 4h0m-9 3h0m-5 12h0m-1 0h0m4 7h0m9 2h0m-10 10h0m14 7h0m-12 8h0m-1 1h0m-1 12h0m3 0h0m8 6h0m-2 8h0m-3 3h0m-3 4h0m8 6h0m3 14h0m-1 2h0m-1 6h0m-12 11h0m11 10h0m-14 11h0m0 3h0m18 6h0m-16 5h0m0 12h0m1 8h0m-4 8h0m17 16h0m-8 14h0m1 7h0"/>
<path stroke="#C77CFF" d="M1945 1869h0m16 19h0m-1 9h0m-8 14h0m8 7h0m-8 0h0m-2 1h0m11 6h0m-12 26h0m2 21h0m10 8h0m-7 4h0m7 14h0m-6 2h0m6 6h0m-2 8h0m-10 4h0m1 2h0m-4 12h0m7 0h0m7 3h0m-11 12h0m4 2h0m11 10h0m-4 7h0m-13 9h0m5 1h0m9 24h0m-4 3h0"/>
<path stroke="#7CAE00" d="M1950 1720h0m4 10h0m-2 122h0m-2 4h0m13 31h0m0 15h0m-11 19h0m9 25h0m-1 78h0m-2 2h0m-7 80h0m2 4h0"/>
<path stroke="#00BFC4" d="M1954 2079h0m7 27h0"/>
<path stroke="#F8766D" d="M1976 1347h0m-1 7h0m4 21h0m-4 4h0m3 5h0m-3 2h0m3 0h0m1 1h0m-13 4h0m10 1h0m-3 8h0m-8 1h0m-1 1h0m9 8h0m3 1h0m-12 0h0m5 0h0m9 1h0m1 2h0m-3 0h0m-11 2h0m11 1h0m-8 4h0m-1 1h0m8 5h0m-10 7h0m14 0h0m-11 3h0m-2 1h0m13 16h0m5 25h0m-10 6h0m7 5h0m1 4h0m0 5h0m-8 0h0m-6 9h0m9 13h0m-10 1h0m6 4h0m-7 2h0m8 31h0m4 10h0m-12 5h0m-1 14h0m14 21h0m-4 16h0m3 21h0m1 32h0m-5 50h0m-5 5h0m7 8h0m-2 6h0m4 12h0m-8 55h0m6 11h0m-9 8h0m10 1h0m6 1h0m-5 12h0m1 16h0m-5 8h0m-7 6h0m12 3h0m-15 6h0m10 0h0m4 3h0m1 13h0m-4 1h0m5 3h0m-15 0h0m16 1h0m0 21h0m-12 0h0m8 7h0m2 0h0m-8 6h0m3 1h0m4 1h0m-2 18h0m-3 2h0m3 11h0m0 11h0m0 4h0m0 10h0m2 21h0m-5 3h0m0 1h0m9 24h0m-4 2h0m0 10h0m1 5h0m-6 6h0m-6 31h0"/>
<path stroke="#C77CFF" d="M1969 1842h0m7 37h0m8 4h0m-7 34h0m-3 21h0m1 16h0m-10 13h0m14 7h0m-1 5h0m1 1h0m0 14h0m-12 10h0m12 0h0m0 7h0m-1 10h0m-3 69h0"/>
<path stroke="#7CAE00" d="M1971 1429h0m4 30h0m4 6h0m0 120h0m2 72h0m-5 144h0m0 28h0m3 32h0m0 32h0m-1 39h0m0 4h0m-7 2h0m-1 7h0m8 34h0m-2 26h0m-2 24h0m5 1h0m-1 23h0m-10 4h0m-4 0h0m9 37h0m-5 2h0m6 5h0m-6 6h0"/>
<path stroke="#00BFC4" d="M1972 2076h0"/>
<path stroke="#F8766D" d="M1988 1357h0m-3 1h0m3 5h0m11 5h0m-1 4h0m1 6h0m-8 0h0m8 1h0m-5 6h0m-1 2h0m-2 1h0m5 3h0m3 0h0m-3 1h0m-3 1h0m-6 1h0m-1 1h0m3 0h0m4 1h0m7 1h0m-9 1h0m-1 1h0m-5 1h0m7 6h0m0 1h0m-6 1h0m9 0h0m-8 3h0m4 0h0m-1 5h0m4 1h0m-9 1h0m5 4h0m3 1h0m-7 4h0m10 2h0m3 3h0m-5 2h0m-2 2h0m-7 1h0m3 4h0m3 33h0m5 3h0m3 2h0m-6 6h0m4 4h0m0 17h0m2 1h0m-4 8h0m9 0h0m-8 5h0m-1 9h0m-4 34h0m3 75h0m2 13h0m-3 13h0m-2 14h0m10 12h0m-2 4h0m5 37h0m-14 17h0m12 34h0m-3 15h0m-3 4h0m-7 2h0m3 0h0m-4 6h0m15 20h0m-6 6h0m1 2h0m0 13h0m1 8h0m-2 13h0m-5 5h0m10 3h0m-18 7h0m3 17h0m7 0h0m-6 3h0m11 0h0m2 0h0m0 8h0m2 1h0m-11 1h0m4 8h0m-2 1h0m-4 1h0m14 2h0m-13 7h0m12 6h0m-14 1h0m5 2h0m6 3h0m-11 7h0m14 7h0m-7 5h0m-9 8h0m-1 2h0m2 21h0m9 2h0m2 16h0m3 7h0m-1 20h0m-9 48h0"/>
<path stroke="#C77CFF" d="M1992 1775h0m-4 24h0m5 29h0m-9 113h0m6 3h0m1 2h0m5 10h0m1 7h0m6 0h0m-6 16h0m0 5h0m-5 11h0m8 3h0m-14 4h0m2 4h0m15 3h0m0 10h0m-12 3h0m0 0h0m-7 8h0m7 1h0m-2 4h0m9 12h0m1 2h0m-15 8h0m4 2h0m-1 6h0m15 2h0m-16 7h0m-1 14h0m-1 1h0m5 22h0m13 2h0"/>
<path stroke="#7CAE00" d="M1997 1791h0m-6 2h0m3 65h0m4 17h0m-5 18h0m7 164h0m0 58h0"/>
<path stroke="#00BFC4" d="M1989 1341h0m2 10h0m5 11h0m5 711h0m-10 16h0m0 1h0m10 6h0m-6 2h0"/>
<path stroke="#F8766D" d="M2009 1355h0m-1 34h0m0 26h0m13 13h0m-13 1h0m8 3h0m2 10h0m-9 16h0m0 8h0m-1 19h0m11 1h0m-6 19h0m-4 0h0m9 4h0m0 25h0m-9 15h0m0 7h0m1 1h0m9 3h0m4 26h0m-5 1h0m-13 8h0m9 15h0m-3 17h0m-2 33h0m15 0h0m-4 46h0m-11 9h0m7 14h0m-8 8h0m11 2h0m0 42h0m-11 12h0m11 9h0m-10 4h0m9 3h0m-7 13h0m-2 26h0m10 3h0m-8 8h0m12 3h0m0 6h0m0 7h0m-5 13h0m-5 5h0m-7 12h0m1 1h0m-1 3h0m13 3h0m-10 5h0m3 6h0m-7 3h0m16 5h0m-13 5h0m14 5h0m-2 1h0m3 0h0m-3 13h0m-1 15h0m-8 12h0m-2 2h0m5 13h0m0 12h0m-7 26h0m13 30h0m-8 20h0m8 9h0"/>
<path stroke="#C77CFF" d="M2007 1745h0m1 42h0m0 126h0m2 8h0m3 17h0m7 19h0m-11 7h0m10 14h0m-9 3h0m9 0h0m-10 1h0m10 12h0m-11 18h0m1 4h0m10 3h0m-13 2h0m12 7h0m1 8h0m-2 7h0m2 3h0m-11 8h0m2 34h0"/>
<path stroke="#7CAE00" d="M2010 1630h0m13 125h0m-4 131h0m-1 16h0m1 28h0m0 87h0m0 13h0m4 13h0m0 9h0m-2 4h0m-3 3h0m-10 27h0m-4 17h0m9 12h0"/>
<path stroke="#F8766D" d="M2032 1402h0m6 26h0m-11 4h0m10 2h0m-9 27h0m13 4h0m-15 4h0m8 16h0m-10 41h0m13 2h0m-7 1h0m10 10h0m1 5h0m-7 9h0m7 4h0m0 60h0m0 0h0m-14 28h0m11 7h0m-2 9h0m1 34h0m-10 8h0m14 10h0m-3 5h0m-11 14h0m3 14h0m11 6h0m-4 24h0m-11 33h0m2 6h0m10 27h0m-11 5h0m-1 12h0m13 2h0m-11 7h0m6 5h0m9 0h0m-16 9h0m1 4h0m11 5h0m-2 15h0m5 2h0m-5 10h0m-10 6h0m14 3h0m1 6h0m-4 5h0m-11 4h0m15 9h0m-16 28h0m15 16h0m-14 12h0m9 8h0m-10 16h0m0 6h0m15 0h0m-7 2h0m5 27h0m-12 6h0m8 28h0"/>
<path stroke="#C77CFF" d="M2027 1831h0m4 7h0m9 49h0m-1 10h0m-12 7h0m9 12h0m-9 0h0m13 36h0m-9 1h0m9 4h0m-10 0h0m-4 5h0m9 2h0m6 13h0m1 4h0m0 1h0m-16 3h0m18 19h0m-6 11h0m0 3h0m3 4h0m-2 10h0m-8 6h0m-1 3h0m10 0h0m0 12h0m-4 23h0m2 14h0m-11 5h0m10 6h0m4 3h0m-3 0h0m-3 8h0"/>
<path stroke="#7CAE00" d="M2027 1579h0m1 86h0m-2 143h0m1 88h0m13 13h0m-7 6h0m-6 2h0m14 1h0m-16 18h0m1 17h0m15 8h0m-1 36h0m-4 13h0m5 29h0m1 54h0m-2 1h0m-3 1h0m0 20h0"/>
<path stroke="#00BFC4" d="M2032 2092h0m6 1h0"/>
<path stroke="#F8766D" d="M2058 1444h0m2 35h0m-3 3h0m-10 35h0m13 14h0m-1 19h0m0 26h0m0 19h0m-5 4h0m8 2h0m-7 9h0m-6 12h0m6 7h0m-1 42h0m5 27h0m-6 14h0m7 27h0m-1 7h0m-2 10h0m2 12h0m2 3h0m-7 5h0m-6 27h0m11 18h0m-12 4h0m6 6h0m10 10h0m-15 11h0m11 13h0m-2 11h0m3 1h0m-1 3h0m-1 0h0m1 1h0m-9 23h0m-2 4h0m11 2h0m-9 1h0m12 0h0m-3 1h0m-8 1h0m-4 6h0m15 3h0m-14 4h0m6 13h0m-9 0h0m0 9h0m10 12h0m-9 18h0m-2 4h0m11 3h0m5 10h0m-13 3h0m9 19h0m4 1h0m-2 1h0m-9 9h0m5 10h0m0 20h0m5 2h0m3 17h0"/>
<path stroke="#C77CFF" d="M2060 1892h0m-7 31h0m6 16h0m5 6h0m-10 7h0m5 2h0m-1 3h0m-14 10h0m3 12h0m13 1h0m1 2h0m1 0h0m-8 4h0m0 9h0m3 15h0m1 1h0m5 4h0m-8 3h0m3 16h0m1 5h0m-11 22h0m5 42h0m3 9h0"/>
<path stroke="#7CAE00" d="M2059 1486h0m-8 39h0m3 32h0m6 116h0m-2 34h0m-3 41h0m6 86h0m-2 17h0m-4 35h0m6 15h0m-5 6h0m-1 41h0m-6 76h0m12 35h0m-16 5h0m6 24h0m8 12h0m-5 0h0m7 9h0m-3 3h0m-3 0h0"/>
<path stroke="#00BFC4" d="M2059 2090h0m-11 18h0"/>
<path stroke="#F8766D" d="M2072 1455h0m6 17h0m-7 4h0m-5 2h0m8 3h0m-2 39h0m4 18h0m8 7h0m-18 44h0m0 2h0m1 7h0m17 8h0m-9 23h0m5 5h0m-3 17h0m7 11h0m-4 19h0m0 1h0m-4 28h0m5 10h0m-13 12h0m10 10h0m-14 59h0m10 7h0m2 4h0m-5 7h0m-6 8h0m11 7h0m1 4h0m-3 42h0m-6 4h0m-1 8h0m13 0h0m-7 12h0m3 7h0m-6 7h0m-1 20h0m4 1h0m-5 14h0m7 3h0m6 1h0m-7 2h0m3 6h0m7 11h0m-13 5h0m-4 6h0m9 1h0m2 68h0m-1 15h0m1 19h0"/>
<path stroke="#C77CFF" d="M2080 1768h0m-3 72h0m1 57h0m5 5h0m-16 27h0m14 4h0m-15 11h0m14 21h0m-3 7h0m3 6h0m-7 1h0m5 19h0m-3 5h0m0 3h0m2 9h0m1 4h0m2 11h0m-4 3h0m7 5h0m-9 4h0m-5 2h0m-3 3h0m11 4h0m-1 3h0m-1 2h0m-7 7h0m10 6h0m-5 6h0m-5 15h0m9 0h0m-8 23h0"/>
<path stroke="#7CAE00" d="M2081 1451h0m-4 56h0m1 26h0m3 52h0m2 270h0m-14 51h0m12 9h0m-13 6h0m0 26h0m12 19h0m-4 5h0m-4 22h0m-6 48h0m8 36h0m2 20h0m-7 14h0"/>
<path stroke="#00BFC4" d="M2072 2101h0m7 6h0"/>
<path stroke="#F8766D" d="M2102 1421h0m-15 18h0m14 6h0m1 27h0m-13 8h0m12 27h0m-13 11h0m-1 8h0m15 1h0m-1 10h0m-12 13h0m-1 0h0m-2 5h0m12 1h0m-6 39h0m-4 3h0m12 5h0m1 1h0m-15 31h0m15 3h0m0 9h0m-13 6h0m6 12h0m-7 1h0m8 10h0m8 2h0m-14 60h0m0 8h0m13 4h0m-13 3h0m11 31h0m-11 4h0m12 12h0m-7 2h0m2 7h0m-9 4h0m15 13h0m1 4h0m-10 16h0m10 10h0m-7 1h0m-7 3h0m-1 14h0m0 7h0m-3 5h0m10 9h0m5 3h0m-13 0h0m2 9h0m5 1h0m6 6h0m-11 9h0m13 6h0m-12 6h0m12 2h0m-1 17h0m-1 9h0m2 8h0m-14 9h0m15 0h0m-14 5h0m0 7h0m13 3h0m-15 5h0m-3 8h0m6 4h0m4 7h0m-7 1h0m16 2h0m-17 11h0m17 18h0m-15 1h0m2 18h0m11 23h0"/>
<path stroke="#C77CFF" d="M2095 1855h0m-8 27h0m-1 10h0m6 28h0m5 29h0m-8 7h0m-2 3h0m13 1h0m-10 1h0m10 5h0m0 5h0m1 18h0m-1 15h0m3 6h0m-12 10h0m6 5h0m-2 6h0m-8 4h0m14 6h0m3 6h0m-18 4h0m15 18h0m1 16h0m-2 4h0m1 2h0m-14 1h0m16 16h0"/>
<path stroke="#7CAE00" d="M2097 1559h0m3 255h0m-12 27h0m-1 19h0m-1 34h0m14 5h0m1 25h0m2 51h0m-13 16h0m6 22h0m-10 1h0m16 98h0m-1 2h0"/>
<path stroke="#00BFC4" d="M2095 2078h0m-2 23h0"/>
<path stroke="#F8766D" d="M2118 1380h0m-4 17h0m5 30h0m-6 13h0m-7 10h0m8 1h0m7 10h0m-10 21h0m12 12h0m-10 1h0m0 3h0m5 9h0m0 0h0m2 0h0m-7 2h0m1 6h0m-2 1h0m7 6h0m-15 33h0m8 22h0m-1 43h0m3 12h0m-6 6h0m4 72h0m1 4h0m6 12h0m4 1h0m-2 10h0m-4 50h0m1 6h0m4 13h0m-4 8h0m6 1h0m-12 1h0m-1 4h0m-4 14h0m5 9h0m2 3h0m8 9h0m-11 5h0m2 12h0m6 1h0m0 1h0m1 8h0m-9 7h0m1 9h0m9 6h0m0 17h0m2 4h0m-8 4h0m3 6h0m-7 9h0m0 14h0m5 7h0m-5 5h0m-5 2h0m10 1h0m-5 3h0m-2 13h0m14 19h0m-11 10h0m11 14h0m-11 28h0m6 17h0m-14 25h0m14 5h0"/>
<path stroke="#C77CFF" d="M2112 1877h0m-8 3h0m13 4h0m-2 8h0m-3 14h0m10 6h0m-7 1h0m5 0h0m-11 5h0m2 7h0m1 1h0m0 2h0m0 1h0m-2 6h0m-1 0h0m-3 17h0m7 3h0m6 2h0m-6 1h0m-3 19h0m5 10h0m-11 9h0m4 11h0m14 17h0m-2 24h0m-8 2h0m3 7h0m-6 7h0m3 14h0m1 1h0m-2 9h0m1 12h0"/>
<path stroke="#7CAE00" d="M2111 1548h0m-4 2h0m15 92h0m-4 90h0m1 2h0m-7 4h0m-1 59h0m0 5h0m7 56h0m-12 15h0m16 38h0m-9 21h0m-5 1h0m7 5h0m-2 38h0m6 28h0m-7 54h0m6 6h0m1 34h0m-6 14h0m6 3h0"/>
<path stroke="#00BFC4" d="M2108 2112h0m10 2h0"/>
<path stroke="#F8766D" d="M2130 1421h0m-2 4h0m-3 14h0m6 5h0m9 5h0m-3 8h0m-9 7h0m5 8h0m0 0h0m-4 11h0m3 17h0m0 10h0m0 10h0m4 6h0m2 6h0m-5 13h0m-5 2h0m1 16h0m-3 10h0m2 35h0m3 17h0m8 5h0m-10 14h0m-1 20h0m12 26h0m-4 26h0m-3 9h0m5 10h0m0 3h0m-10 2h0m8 0h0m-10 24h0m0 13h0m17 21h0m-14 14h0m3 4h0m0 4h0m4 4h0m-4 20h0m-1 13h0m11 7h0m-16 4h0m6 1h0m3 12h0m-2 2h0m11 3h0m-15 1h0m2 1h0m4 2h0m-3 21h0m5 9h0m2 11h0m2 3h0m-10 0h0m1 1h0m9 3h0m-9 2h0m-2 8h0m1 11h0m1 15h0m-4 48h0m2 2h0m1 2h0m2 18h0m-5 6h0m1 23h0m0 16h0m11 6h0"/>
<path stroke="#C77CFF" d="M2137 1751h0m4 107h0m-12 42h0m14 14h0m-10 4h0m-4 4h0m-1 20h0m0 8h0m5 1h0m9 0h0m-13 23h0m8 8h0m-4 1h0m9 21h0m-11 4h0m-3 6h0m4 17h0m12 1h0m-10 4h0m4 3h0m-9 0h0m6 16h0m-10 1h0m4 4h0m0 2h0m-1 6h0m5 17h0m-1 18h0m-2 6h0"/>
<path stroke="#7CAE00" d="M2139 1450h0m-10 163h0m12 7h0m-8 259h0m8 14h0m-11 2h0m2 0h0m2 7h0m-1 3h0m11 14h0m-13 5h0m0 11h0m-3 31h0m4 22h0m0 85h0m0 22h0m-1 1h0m5 4h0m4 15h0"/>
<path stroke="#00BFC4" d="M2126 2106h0"/>
<path stroke="#F8766D" d="M2156 1399h0m-9 5h0m-2 10h0m4 18h0m-1 30h0m1 8h0m6 2h0m9 10h0m-18 2h0m1 4h0m-3 1h0m0 2h0m11 10h0m-5 19h0m4 1h0m-5 0h0m0 3h0m14 8h0m-2 0h0m-7 21h0m10 21h0m-15 13h0m6 2h0m-10 10h0m16 2h0m-17 1h0m0 12h0m12 33h0m-11 8h0m0 1h0m10 39h0m-7 4h0m8 13h0m-2 3h0m-9 4h0m0 10h0m9 10h0m-8 26h0m13 3h0m-13 6h0m18 19h0m-5 7h0m-4 2h0m-4 16h0m5 2h0m-11 2h0m5 17h0m4 6h0m0 5h0m-7 3h0m-3 3h0m2 3h0m-1 21h0m12 6h0m5 2h0m-7 9h0m0 7h0m3 0h0m-9 6h0m14 13h0m0 2h0m-11 14h0m-2 1h0m6 2h0m7 5h0m-19 6h0m3 1h0m15 8h0m-4 7h0m-5 2h0m9 13h0m-8 5h0m1 13h0m9 3h0m-3 3h0m-14 5h0m5 3h0m-4 6h0m15 0h0m-1 2h0m-8 12h0m-4 12h0m5 16h0"/>
<path stroke="#C77CFF" d="M2148 1847h0m7 11h0m7 10h0m-4 12h0m2 13h0m-11 13h0m12 6h0m-9 10h0m5 3h0m-6 1h0m-1 6h0m-4 1h0m5 8h0m1 10h0m-7 7h0m0 2h0m11 0h0m0 15h0m-7 1h0m10 4h0m-13 4h0m9 10h0m-1 4h0m-4 8h0m4 10h0m4 2h0m-4 1h0m3 5h0m-3 2h0m0 10h0m7 1h0m-3 3h0m-13 4h0m19 10h0m-6 6h0m-5 1h0m-3 5h0m12 7h0m-16 4h0m9 5h0m-5 9h0m14 1h0m-11 6h0"/>
<path stroke="#7CAE00" d="M2152 1620h0m9 94h0m-6 11h0m-1 36h0m-6 49h0m-4 34h0m5 6h0m3 17h0m-3 7h0m6 2h0m-7 40h0m13 24h0m-5 17h0m-11 3h0m16 44h0m-16 23h0m17 8h0m1 10h0m-3 62h0m0 1h0"/>
<path stroke="#00BFC4" d="M2155 2082h0"/>
<path stroke="#F8766D" d="M2177 1398h0m-6 28h0m-3 2h0m7 49h0m0 13h0m8 5h0m-2 9h0m-4 7h0m-3 14h0m9 5h0m-14 1h0m13 1h0m-8 11h0m10 6h0m0 10h0m-8 7h0m-10 30h0m11 5h0m-12 47h0m12 11h0m-5 5h0m5 22h0m0 4h0m-10 5h0m9 40h0m7 41h0m-6 2h0m1 18h0m6 10h0m-7 8h0m-4 2h0m10 22h0m-19 0h0m3 6h0m11 13h0m-1 0h0m-9 22h0m-1 2h0m0 0h0m1 0h0m15 2h0m-6 22h0m7 8h0m-20 7h0m13 11h0m-9 12h0m10 5h0m-2 6h0m0 2h0m1 7h0m1 6h0m-10 7h0m10 10h0m-11 2h0m0 3h0m-2 1h0m14 0h0m-11 2h0m8 25h0m-10 2h0m-1 5h0m10 6h0m1 3h0m-8 7h0m9 7h0m-12 39h0m0 3h0m12 21h0"/>
<path stroke="#C77CFF" d="M2179 1774h0m-10 64h0m8 28h0m0 20h0m1 2h0m-7 23h0m-1 4h0m-4 3h0m0 1h0m5 2h0m12 4h0m-18 1h0m4 7h0m7 1h0m1 1h0m6 4h0m1 3h0m-8 7h0m-9 4h0m12 2h0m4 4h0m-13 0h0m9 3h0m-2 1h0m-12 16h0m12 7h0m6 0h0m-19 5h0m6 9h0m7 7h0m-1 4h0m2 1h0m-7 1h0m6 2h0m-13 1h0m11 1h0m2 4h0m6 4h0m-4 8h0m-2 1h0m0 1h0m4 1h0m-13 10h0m-3 5h0m5 9h0m13 6h0m-15 0h0m-1 27h0m16 12h0"/>
<path stroke="#7CAE00" d="M2169 1683h0m-1 146h0m0 11h0m3 19h0m7 40h0m5 22h0m-7 21h0m1 60h0m0 15h0m0 32h0m1 11h0m6 12h0m-13 37h0"/>
<path stroke="#00BFC4" d="M2177 2099h0m-8 13h0"/>
<path stroke="#F8766D" d="M2194 1441h0m-8 6h0m14 41h0m-8 19h0m-3 6h0m-4 58h0m18 3h0m-10 22h0m-1 6h0m5 3h0m-2 15h0m2 5h0m-3 1h0m-1 8h0m-1 3h0m8 10h0m1 7h0m-2 10h0m-3 14h0m-3 12h0m4 43h0m-4 5h0m6 8h0m3 11h0m-4 4h0m-7 28h0m1 5h0m0 42h0m-6 16h0m15 12h0m-8 7h0m0 1h0m0 4h0m-1 6h0m-3 5h0m4 13h0m-1 6h0m2 1h0m10 6h0m-9 5h0m-10 13h0m12 7h0m-1 3h0m6 0h0m-10 9h0m11 5h0m-17 2h0m16 6h0m-17 11h0m10 36h0m8 7h0m-7 10h0m-12 13h0m8 2h0m4 8h0m-11 3h0m7 9h0m6 16h0"/>
<path stroke="#C77CFF" d="M2188 1906h0m4 47h0m-8 1h0m16 4h0m-13 7h0m6 13h0m1 9h0m-10 1h0m1 4h0m7 18h0m0 6h0m11 1h0m-12 0h0m-6 10h0m0 5h0m1 15h0m7 1h0m6 6h0m-12 6h0m-2 3h0m5 26h0m-3 3h0m13 5h0"/>
<path stroke="#7CAE00" d="M2195 1567h0m5 31h0m-13 7h0m7 43h0m-1 18h0m-6 63h0m5 74h0m5 3h0m0 54h0m-4 16h0m-7 22h0m13 18h0m-11 65h0m0 59h0m1 5h0m-1 2h0m14 13h0m-16 4h0m9 32h0m-11 14h0m6 0h0m11 1h0"/>
<path stroke="#F8766D" d="M2213 1448h0m-6 1h0m-2 1h0m1 16h0m5 19h0m3 1h0m8 12h0m-17 28h0m-1 7h0m1 7h0m14 9h0m-7 10h0m1 9h0m0 5h0m1 12h0m-3 13h0m2 3h0m11 3h0m-19 20h0m2 20h0m15 5h0m-9 3h0m-5 1h0m6 27h0m2 8h0m-9 2h0m-1 17h0m16 28h0m-6 23h0m-12 18h0m15 8h0m-6 24h0m4 7h0m-10 2h0m3 2h0m-1 1h0m-3 7h0m7 1h0m-6 7h0m6 23h0m-1 19h0m6 11h0m-6 4h0m-4 29h0m-3 4h0m9 8h0m-8 2h0m1 0h0m11 4h0m2 20h0m-8 2h0m1 0h0m-8 4h0m1 5h0m0 7h0m6 7h0m1 5h0m-4 3h0m15 17h0m-17 21h0m5 3h0m1 18h0m-3 9h0m2 23h0m10 1h0"/>
<path stroke="#C77CFF" d="M2223 1829h0m-18 30h0m12 23h0m5 17h0m-14 9h0m-3 2h0m14 7h0m-6 14h0m-9 1h0m8 21h0m5 4h0m-4 11h0m9 16h0m-17 7h0m18 6h0m-17 4h0m17 5h0m-11 1h0m10 1h0m-16 0h0m17 5h0m-1 0h0m-17 0h0m8 2h0m0 1h0m8 2h0m-5 1h0m7 0h0m0 2h0m-12 2h0m12 5h0m-10 2h0m10 3h0m-18 1h0m2 2h0m10 3h0m-3 1h0m-7 5h0m12 2h0m-6 3h0m-4 33h0m4 7h0"/>
<path stroke="#7CAE00" d="M2213 1717h0m8 25h0m-7 86h0m-7 0h0m-2 96h0m17 5h0m-15 6h0m5 10h0m10 32h0m0 96h0m-9 7h0m-9 15h0"/>
<path stroke="#00BFC4" d="M2213 2070h0m-4 30h0"/>
<path stroke="#F8766D" d="M2230 1430h0m3 23h0m2 36h0m-2 10h0m5 3h0m0 14h0m-4 11h0m-9 30h0m17 12h0m2 3h0m-3 5h0m2 5h0m-6 14h0m1 4h0m-1 14h0m-4 12h0m-4 12h0m0 0h0m13 7h0m-6 13h0m7 14h0m-1 6h0m-2 39h0m-6 2h0m3 21h0m-6 2h0m5 6h0m-3 13h0m1 5h0m-2 28h0m4 11h0m-10 22h0m16 6h0m-8 5h0m-9 13h0m17 13h0m-12 1h0m-5 2h0m15 2h0m2 32h0m-9 2h0m3 6h0m0 7h0m3 3h0m3 2h0m-9 38h0m3 25h0m-6 48h0m4 22h0m-10 26h0"/>
<path stroke="#C77CFF" d="M2233 1768h0m9 37h0m1 77h0m-10 33h0m3 12h0m6 23h0m-11 10h0m-3 2h0m13 4h0m-11 2h0m9 0h0m-8 5h0m1 3h0m0 1h0m-1 17h0m5 1h0m-4 4h0m9 3h0m-11 0h0m4 3h0m6 4h0m4 4h0m-20 8h0m9 0h0m-9 0h0m10 2h0m-7 3h0m4 4h0m-2 2h0m0 8h0m7 12h0m-5 2h0m0 8h0m-2 2h0m2 3h0m10 1h0m-5 1h0m-4 4h0m10 7h0m-9 6h0m1 9h0m-4 2h0m6 8h0m6 2h0m-10 2h0"/>
<path stroke="#7CAE00" d="M2225 1643h0m11 9h0m-8 41h0m2 56h0m6 54h0m3 42h0m-14 74h0m19 25h0m-15 37h0m5 71h0m2 19h0m-5 42h0"/>
<path stroke="#00BFC4" d="M2244 2107h0"/>
<path stroke="#F8766D" d="M2245 1414h0m0 55h0m4 0h0m3 21h0m-1 21h0m8 33h0m-8 4h0m0 14h0m9 0h0m-10 11h0m0 4h0m0 11h0m8 7h0m-3 3h0m4 12h0m0 4h0m0 0h0m0 4h0m-8 4h0m7 9h0m-7 14h0m12 2h0m-19 0h0m8 1h0m6 5h0m6 8h0m-14 1h0m7 7h0m-3 8h0m-8 7h0m14 3h0m2 2h0m-2 2h0m-10 36h0m1 4h0m0 6h0m8 14h0m2 37h0m-5 2h0m-6 11h0m-4 15h0m4 4h0m0 25h0m1 5h0m2 53h0m10 10h0m-1 10h0m-16 25h0m5 10h0m-1 13h0m-2 5h0m4 5h0m-2 5h0m-1 2h0m3 7h0m-6 3h0m3 60h0m1 1h0m14 19h0m-1 11h0"/>
<path stroke="#C77CFF" d="M2251 1888h0m-6 9h0m6 1h0m-7 15h0m14 14h0m-7 12h0m-1 1h0m3 3h0m-8 4h0m5 3h0m-5 0h0m6 2h0m-1 22h0m-1 7h0m9 13h0m1 4h0m-2 0h0m-6 2h0m11 13h0m-11 23h0m8 4h0m-8 8h0m-1 8h0m13 10h0m-4 1h0m-8 12h0m-4 2h0m9 3h0m-7 17h0"/>
<path stroke="#7CAE00" d="M2249 1601h0m0 10h0m5 44h0m4 86h0m-1 75h0m2 66h0m2 48h0m-2 63h0m-6 33h0m-3 46h0m12 40h0"/>
<path stroke="#00BFC4" d="M2251 2080h0m0 30h0"/>
<path stroke="#F8766D" d="M2278 1445h0m-5 61h0m-3 23h0m9 3h0m-10 6h0m9 8h0m4 14h0m-1 8h0m-9 20h0m10 2h0m-5 7h0m2 0h0m-13 1h0m16 6h0m-11 1h0m9 0h0m2 13h0m-15 1h0m-3 1h0m4 0h0m2 5h0m-1 1h0m-1 6h0m0 2h0m1 1h0m1 4h0m6 4h0m-8 3h0m-1 0h0m8 0h0m5 3h0m-8 6h0m10 1h0m-3 5h0m3 2h0m-14 4h0m13 5h0m-11 4h0m3 14h0m1 4h0m-4 4h0m2 8h0m-3 23h0m12 7h0m-12 12h0m13 1h0m-12 19h0m-3 10h0m14 4h0m-8 11h0m0 13h0m-4 21h0m0 1h0m2 21h0m4 12h0m3 30h0m-2 17h0m-7 12h0m14 5h0m-19 0h0m13 4h0m-7 19h0m11 5h0m1 16h0m-8 4h0m5 6h0m-10 37h0m-1 3h0m16 22h0m-6 35h0"/>
<path stroke="#C77CFF" d="M2269 1863h0m10 10h0m-7 39h0m-1 4h0m-6 27h0m2 0h0m14 11h0m-7 1h0m6 18h0m-10 5h0m-1 2h0m1 6h0m6 0h0m-1 5h0m0 7h0m6 15h0m-11 1h0m9 2h0m-9 15h0m7 17h0m-7 5h0m2 3h0m6 5h0m4 8h0m-15 18h0m3 1h0m0 2h0m-3 5h0m13 3h0m-4 1h0m5 3h0m-12 2h0"/>
<path stroke="#7CAE00" d="M2269 1623h0m1 78h0m-1 34h0m-4 14h0m9 35h0m-6 13h0m2 0h0m9 7h0m-5 16h0m-5 63h0m12 44h0m-6 34h0m0 26h0m4 10h0m-10 12h0m6 18h0m5 1h0m-9 70h0m9 13h0m-2 5h0"/>
<path stroke="#F8766D" d="M2299 1441h0m-2 73h0m-9 7h0m11 11h0m-4 1h0m7 9h0m-6 18h0m-8 13h0m15 1h0m1 14h0m-16 1h0m7 6h0m0 9h0m-10 4h0m1 1h0m14 6h0m0 4h0m-11 1h0m-1 1h0m-1 1h0m9 1h0m-11 1h0m10 7h0m-1 1h0m4 1h0m-1 5h0m3 1h0m2 1h0m-11 2h0m-3 1h0m15 1h0m-11 1h0m-4 0h0m5 2h0m-4 1h0m15 2h0m-1 3h0m-13 3h0m-3 1h0m8 1h0m-10 4h0m9 2h0m-6 6h0m1 1h0m1 2h0m-2 3h0m13 2h0m-6 4h0m-6 2h0m11 0h0m-11 2h0m2 7h0m8 3h0m-14 2h0m17 1h0m1 2h0m0 11h0m-15 2h0m16 1h0m-2 1h0m1 4h0m-14 2h0m12 11h0m3 3h0m-1 3h0m-13 7h0m12 1h0m-12 4h0m12 10h0m-2 27h0m-15 3h0m15 0h0m-6 3h0m-3 16h0m-3 42h0m11 21h0m-11 0h0m16 30h0m-1 12h0m-8 4h0m2 10h0m-9 3h0m15 1h0m-8 15h0m-9 16h0m18 9h0m-5 8h0m-9 10h0m14 0h0m-16 6h0m0 17h0m1 7h0m14 17h0m-13 37h0m0 3h0m-5 0h0"/>
<path stroke="#C77CFF" d="M2295 1608h0m-1 104h0m-9 122h0m6 55h0m-4 3h0m15 7h0m1 13h0m-2 10h0m-10 2h0m5 6h0m6 7h0m-12 9h0m11 0h0m-12 19h0m-2 11h0m16 1h0m-1 0h0m-11 28h0m-1 1h0m-2 3h0m16 3h0m-16 1h0m15 2h0m-13 2h0m14 3h0m-1 5h0m-8 2h0m1 3h0m-8 5h0m1 0h0m10 3h0m3 8h0m-5 16h0m0 14h0m-9 1h0m3 18h0m4 16h0m0 0h0"/>
<path stroke="#7CAE00" d="M2287 1594h0m8 71h0m4 7h0m-3 1h0m-9 9h0m15 22h0m1 5h0m-11 38h0m-4 44h0m5 69h0m1 97h0m-4 71h0m13 9h0m-4 68h0"/>
<path stroke="#F8766D" d="M2313 1511h0m4 14h0m1 4h0m-3 4h0m-1 12h0m-3 20h0m-5 5h0m12 3h0m-13 6h0m10 2h0m6 5h0m-7 5h0m-10 5h0m12 0h0m-7 4h0m8 2h0m-8 0h0m10 0h0m-15 14h0m12 1h0m-11 10h0m10 0h0m4 3h0m-6 4h0m8 2h0m-4 3h0m3 13h0m-13 1h0m-3 6h0m7 4h0m10 1h0m-3 1h0m-11 7h0m1 30h0m15 2h0m-1 2h0m-11 0h0m3 13h0m1 1h0m1 6h0m-5 16h0m10 12h0m-1 43h0m-9 2h0m-2 29h0m14 19h0m-9 7h0m-2 15h0m3 2h0m0 9h0m-3 6h0m11 2h0m-1 9h0m-5 2h0m-6 5h0m5 13h0m-4 4h0m11 11h0m-19 6h0m2 5h0m14 2h0m-1 0h0m-7 1h0m-7 2h0m9 3h0m5 2h0m3 1h0m-8 5h0m3 14h0m-13 3h0m6 16h0m5 1h0m8 14h0m1 10h0m-11 5h0m9 41h0m-11 10h0m7 2h0"/>
<path stroke="#C77CFF" d="M2324 1757h0m-5 84h0m-7 41h0m3 19h0m4 19h0m-3 13h0m-2 14h0m9 2h0m-7 4h0m6 4h0m-17 0h0m-1 5h0m12 35h0m2 2h0m-3 7h0m5 16h0m4 2h0m-10 8h0m8 7h0m-8 10h0m2 10h0m1 8h0"/>
<path stroke="#7CAE00" d="M2305 1611h0m10 11h0m-3 29h0m-8 54h0m0 6h0m12 31h0m-2 28h0m0 118h0m10 25h0m-5 23h0m-2 50h0m-2 52h0m-9 8h0m7 0h0m7 47h0m0 1h0m-3 2h0"/>
<path stroke="#00BFC4" d="M2307 2086h0"/>
<path stroke="#F8766D" d="M2338 1482h0m-7 28h0m-5 7h0m13 5h0m-8 3h0m0 20h0m9 5h0m-9 6h0m-7 11h0m15 17h0m-6 4h0m0 1h0m1 21h0m-1 1h0m-1 3h0m-1 3h0m-3 10h0m6 6h0m5 5h0m1 10h0m0 2h0m-10 6h0m-2 11h0m-2 2h0m-2 3h0m10 32h0m-8 2h0m13 12h0m-8 14h0m-5 46h0m10 44h0m-3 7h0m6 14h0m-14 12h0m14 6h0m-4 6h0m-2 4h0m6 2h0m-6 6h0m10 3h0m-11 5h0m10 12h0m-10 2h0m-1 0h0m8 6h0m-8 21h0m1 8h0m-1 3h0m3 11h0m-2 13h0m-6 26h0m16 13h0m-10 14h0m-3 8h0m11 5h0m-2 17h0m-5 3h0m5 23h0"/>
<path stroke="#C77CFF" d="M2332 1852h0m-7 19h0m7 14h0m-4 21h0m4 4h0m-2 4h0m-5 21h0m7 11h0m0 4h0m4 10h0m5 11h0m-15 19h0m5 8h0m9 1h0m-1 3h0m-10 1h0m10 5h0m0 19h0m1 12h0m-1 8h0m-6 13h0m9 2h0m-3 5h0m-7 18h0m0 3h0m0 10h0"/>
<path stroke="#7CAE00" d="M2331 1559h0m-5 62h0m12 20h0m1 9h0m-7 9h0m-8 37h0m3 90h0m15 9h0m-1 11h0m-1 30h0m-4 32h0m0 4h0m-5 28h0m7 58h0m-7 19h0m1 44h0m0 23h0m-6 17h0m9 28h0m3 24h0"/>
<path stroke="#F8766D" d="M2358 1460h0m3 81h0m-14 17h0m1 7h0m13 65h0m-17 2h0m5 14h0m-1 6h0m12 5h0m-2 10h0m3 9h0m-11 30h0m-1 2h0m2 101h0m0 40h0m4 1h0m-5 8h0m13 17h0m-7 0h0m-8 11h0m1 6h0m7 22h0m3 3h0m-8 15h0m-1 3h0m-5 4h0m18 4h0m-5 7h0m3 4h0m-11 10h0m-6 7h0m13 10h0m-8 1h0m-4 10h0m7 13h0m-6 9h0m17 5h0m-8 1h0m5 8h0m-10 5h0m1 0h0m-4 16h0m12 14h0m-11 1h0m3 8h0"/>
<path stroke="#C77CFF" d="M2357 1952h0m-12 6h0m15 2h0m-12 1h0m10 13h0m-5 28h0m1 2h0m-4 5h0m7 9h0m4 0h0m-16 10h0m7 6h0m-2 3h0m11 15h0m-15 1h0m4 7h0m-4 5h0m4 0h0m0 6h0m10 5h0m0 10h0"/>
<path stroke="#7CAE00" d="M2346 1513h0m12 198h0m-8 77h0m8 8h0m3 43h0m-16 15h0m17 24h0m-3 20h0m-12 11h0m-2 5h0m9 103h0m-2 14h0m-3 3h0m2 3h0m-1 70h0m-4 2h0m11 4h0"/>
<path stroke="#F8766D" d="M2372 1454h0m-5 54h0m3 68h0m-2 3h0m11 10h0m-11 14h0m-1 3h0m1 55h0m-2 8h0m15 71h0m-10 69h0m8 8h0m-11 11h0m-2 9h0m8 1h0m-7 1h0m15 5h0m-2 1h0m0 1h0m-2 10h0m6 5h0m-7 1h0m-9 14h0m-1 15h0m10 2h0m4 3h0m-7 0h0m-7 3h0m3 5h0m14 1h0m-18 18h0m2 1h0m0 5h0m-1 1h0m1 5h0m0 12h0m-1 3h0m3 12h0m0 25h0m2 2h0m3 10h0m-2 1h0m2 7h0m-10 6h0m16 8h0m-14 11h0m9 9h0m-9 5h0m0 0h0m10 2h0m5 3h0m-9 19h0"/>
<path stroke="#C77CFF" d="M2375 1848h0m3 43h0m-13 0h0m3 5h0m-4 0h0m7 12h0m-6 9h0m1 6h0m2 4h0m10 2h0m5 18h0m-4 5h0m-8 10h0m3 2h0m-8 11h0m2 13h0m-1 0h0m-2 6h0m15 4h0m-14 5h0m12 11h0m2 2h0m2 1h0m1 4h0m-16 11h0m11 2h0m0 1h0m4 3h0m-1 1h0m-4 0h0m1 1h0m-12 2h0m0 6h0m2 4h0m9 7h0m0 4h0m-10 2h0m1 0h0"/>
<path stroke="#7CAE00" d="M2383 1478h0m-5 40h0m-2 12h0m1 274h0m-8 43h0m10 12h0m-11 16h0m-3 22h0m13 33h0m-13 1h0m7 9h0m3 1h0m-1 64h0m-6 60h0m10 9h0m-6 12h0m0 0h0m-4 5h0m12 14h0"/>
<path stroke="#00BFC4" d="M2368 2077h0m12 1h0m-14 15h0"/>
<path stroke="#F8766D" d="M2400 1422h0m-5 41h0m-10 31h0m8 6h0m-7 2h0m6 65h0m12 19h0m-12 18h0m0 89h0m1 45h0m7 68h0m-6 6h0m-4 6h0m9 13h0m2 0h0m0 5h0m-9 4h0m6 10h0m-5 13h0m1 16h0m-3 5h0m2 6h0m-1 3h0m-3 1h0m4 22h0m-1 3h0m1 9h0m-8 28h0m7 32h0m0 9h0m-8 18h0m19 29h0m-10 16h0"/>
<path stroke="#C77CFF" d="M2389 1818h0m4 70h0m6 0h0m3 9h0m-3 4h0m5 46h0m-15 5h0m-1 0h0m5 1h0m0 9h0m6 13h0m-8 0h0m2 37h0m0 4h0m3 16h0m2 4h0m-7 0h0m1 8h0m9 10h0m-7 19h0m-1 23h0m-1 8h0m0 7h0"/>
<path stroke="#7CAE00" d="M2387 1766h0m3 22h0m1 10h0m1 2h0m0 8h0m-1 4h0m9 59h0m-16 5h0m18 2h0m-9 20h0m10 31h0m-18 20h0m2 2h0m11 94h0m-6 4h0m10 60h0"/>
<path stroke="#00BFC4" d="M2393 2096h0"/>
<path stroke="#F8766D" d="M2420 1341h0m-3 106h0m0 25h0m7 1h0m-17 40h0m7 6h0m2 1h0m-9 3h0m5 36h0m-4 14h0m10 6h0m-4 9h0m-4 13h0m-1 84h0m7 27h0m-10 0h0m13 51h0m-11 15h0m4 9h0m-5 2h0m15 23h0m-7 4h0m-7 0h0m15 8h0m0 3h0m1 7h0m-9 2h0m-8 3h0m10 0h0m5 3h0m-15 5h0m-2 9h0m-1 14h0m17 7h0m-14 0h0m15 3h0m-14 3h0m-1 16h0m7 5h0m5 4h0m2 1h0m-12 20h0m5 5h0m-7 1h0m5 15h0m3 9h0m7 8h0m-7 37h0m2 3h0m-9 8h0m-3 43h0m11 19h0"/>
<path stroke="#C77CFF" d="M2410 1860h0m2 56h0m-4 19h0m14 8h0m-7 17h0m2 12h0m-11 3h0m1 39h0m12 0h0m-10 1h0m8 6h0m-4 6h0m5 2h0m-12 2h0m1 0h0m1 2h0m5 0h0m-7 10h0m17 3h0m-7 15h0m0 18h0m1 4h0m-13 11h0m17 20h0"/>
<path stroke="#7CAE00" d="M2423 1610h0m-12 199h0m-5 7h0m4 19h0m-4 14h0m1 19h0m2 7h0m-5 11h0m9 66h0m3 23h0m-2 23h0m-6 25h0m6 13h0m-2 17h0m-8 3h0m7 20h0m-5 35h0m-2 1h0"/>
<path stroke="#00BFC4" d="M2418 2078h0m-5 24h0m3 13h0"/>
<path stroke="#F8766D" d="M2430 1392h0m12 75h0m-8 22h0m5 10h0m-2 6h0m-12 12h0m8 13h0m-7 5h0m1 20h0m14 3h0m-13 22h0m-3 31h0m7 6h0m-1 3h0m9 13h0m-7 6h0m-1 18h0m8 19h0m-8 24h0m-6 1h0m-2 32h0m1 4h0m12 67h0m-7 2h0m5 5h0m6 11h0m-1 5h0m-11 4h0m9 25h0m3 4h0m-17 6h0m15 33h0m-8 4h0m-7 2h0m20 0h0m-6 9h0m-4 1h0m-2 3h0m-5 0h0m17 11h0m-12 9h0m-1 4h0m-6 11h0m5 0h0m6 12h0m4 12h0m-16 1h0m18 4h0m-9 8h0m-4 11h0m6 0h0m4 1h0m0 2h0m-13 2h0m0 8h0m5 6h0m-3 5h0m-3 9h0m7 8h0m2 5h0m0 0h0m-8 12h0m17 2h0"/>
<path stroke="#C77CFF" d="M2425 1856h0m16 43h0m-13 30h0m15 11h0m-2 37h0m-9 2h0m10 16h0m-7 4h0m-7 17h0m-2 12h0m6 2h0m1 17h0m-2 12h0m4 6h0m3 2h0m-7 4h0m-3 14h0"/>
<path stroke="#7CAE00" d="M2425 1518h0m10 62h0m2 102h0m1 63h0m-3 73h0m-2 12h0m10 74h0m-19 38h0m13 31h0m-10 11h0m12 12h0m-5 16h0m-5 8h0m8 25h0m5 48h0m-5 5h0m-8 1h0m-4 9h0"/>
<path stroke="#00BFC4" d="M2431 2085h0"/>
<path stroke="#F8766D" d="M2459 1342h0m-2 11h0m5 13h0m-13 2h0m10 1h0m-2 10h0m-1 7h0m7 6h0m-5 6h0m5 4h0m-2 12h0m-5 7h0m5 0h0m-4 3h0m6 8h0m-9 23h0m2 9h0m-3 0h0m-1 32h0m9 11h0m-4 40h0m-8 30h0m2 12h0m-2 11h0m-2 6h0m8 18h0m-2 6h0m-3 15h0m6 18h0m-7 1h0m0 2h0m4 2h0m-7 4h0m11 2h0m2 67h0m1 36h0m-12 14h0m8 1h0m3 7h0m0 10h0m-10 6h0m-1 4h0m11 17h0m-4 46h0m-6 26h0m-1 18h0m1 14h0m-2 13h0m16 8h0m-15 36h0m11 6h0m-9 26h0m0 8h0m-2 4h0m11 3h0m-2 53h0"/>
<path stroke="#C77CFF" d="M2458 1880h0m-10 31h0m-1 9h0m15 31h0m-11 15h0m7 8h0m-9 16h0m9 8h0m-6 30h0m-2 20h0m-5 5h0m13 29h0m-9 9h0"/>
<path stroke="#7CAE00" d="M2448 1514h0m13 13h0m-13 199h0m1 84h0m1 34h0m-1 12h0m12 22h0m-12 156h0m2 12h0m12 51h0m-13 15h0"/>
<path stroke="#00BFC4" d="M2460 1330h0m-1 38h0m-13 716h0"/>
<path stroke="#F8766D" d="M2468 1358h0m-2 13h0m2 3h0m7 5h0m-10 0h0m1 5h0m1 17h0m0 3h0m-1 6h0m2 51h0m0 19h0m12 27h0m-4 2h0m-8 16h0m10 13h0m-11 22h0m0 0h0m1 12h0m12 5h0m-13 13h0m11 1h0m-12 0h0m0 1h0m12 3h0m0 34h0m1 9h0m3 6h0m-2 27h0m2 0h0m-15 1h0m0 2h0m11 9h0m-11 7h0m3 12h0m-2 12h0m1 28h0m-2 5h0m14 10h0m-10 17h0m-4 12h0m9 1h0m6 59h0m-16 5h0m12 22h0m5 23h0m-19 27h0m15 29h0m0 1h0m-2 4h0m0 2h0m-3 2h0m-7 2h0m0 3h0m-1 23h0m16 26h0m-1 3h0m-17 28h0m3 5h0m0 7h0m12 20h0m-10 15h0"/>
<path stroke="#C77CFF" d="M2471 1674h0m8 190h0m-14 21h0m13 4h0m-10 56h0m-2 44h0m13 7h0m2 1h0m-10 22h0m7 2h0m4 6h0m-14 0h0m0 2h0m13 26h0m-15 1h0m1 4h0m15 3h0m-3 26h0"/>
<path stroke="#7CAE00" d="M2479 1497h0m-12 65h0m14 127h0m-14 3h0m0 17h0m1 6h0m-1 44h0m8 6h0m0 41h0m-7 1h0m12 66h0m-10 76h0m-4 11h0m16 11h0m-16 80h0m5 55h0m4 6h0"/>
<path stroke="#00BFC4" d="M2467 2089h0m12 25h0"/>
<path stroke="#F8766D" d="M2494 1405h0m9 13h0m-9 19h0m-2 19h0m6 55h0m4 12h0m-5 6h0m0 15h0m-12 10h0m8 3h0m0 5h0m4 6h0m0 1h0m-8 3h0m8 16h0m-3 13h0m1 8h0m-6 28h0m2 9h0m2 1h0m0 7h0m1 11h0m9 11h0m-10 52h0m-9 20h0m9 47h0m6 37h0m-12 62h0m-3 121h0m9 2h0m5 43h0m-7 33h0"/>
<path stroke="#C77CFF" d="M2496 1914h0m4 11h0m-13 1h0m7 53h0m1 17h0m7 16h0m-8 49h0m-5 26h0m11 8h0"/>
<path stroke="#7CAE00" d="M2487 1825h0m7 12h0m4 61h0m-13 49h0m8 35h0m5 4h0m0 29h0m-1 4h0m-2 34h0m-4 34h0m9 4h0"/>
<path stroke="#00BFC4" d="M2494 2078h0"/>
<path stroke="#F8766D" d="M2516 1379h0m-11 25h0m13 22h0m-2 19h0m8 7h0m-10 12h0m4 13h0m5 20h0m-18 19h0m15 27h0m-8 5h0m-7 16h0m16 4h0m-2 2h0m-14 0h0m16 8h0m-15 61h0m3 16h0m0 106h0m4 8h0m-9 18h0m16 28h0m-15 71h0m15 2h0m-5 2h0m-3 26h0m1 55h0m10 1h0m-17 21h0m7 0h0m-4 6h0m9 1h0m3 6h0m-17 5h0m5 2h0m10 0h0m-13 9h0m11 2h0m-10 8h0m2 7h0m-4 7h0m16 15h0m-11 1h0m4 12h0"/>
<path stroke="#C77CFF" d="M2520 1661h0m-8 255h0m-6 5h0m0 48h0m-1 5h0m14 40h0m-4 13h0m-9 4h0m4 62h0"/>
<path stroke="#7CAE00" d="M2508 1528h0m-2 147h0m17 43h0m0 40h0m-7 78h0m5 79h0m-15 124h0m14 30h0m-8 41h0"/>
<path stroke="#00BFC4" d="M2506 2105h0m0 0h0"/>
<path stroke="#F8766D" d="M2528 1408h0m-1 14h0m11 39h0m-2 10h0m-3 15h0m7 13h0m1 6h0m-15 1h0m3 10h0m12 1h0m-6 1h0m8 5h0m-11 4h0m9 5h0m2 8h0m1 11h0m0 2h0m-2 5h0m-14 7h0m13 11h0m1 2h0m-3 54h0m-6 5h0m-6 12h0m9 11h0m-4 14h0m-1 4h0m-5 20h0m2 52h0m13 28h0m2 29h0m-10 48h0m-1 13h0m-1 3h0m11 18h0m-12 33h0m6 3h0m2 6h0m3 0h0m1 24h0m-14 2h0m5 13h0m-7 47h0m14 9h0m-8 4h0m8 48h0m0 0h0m2 18h0"/>
<path stroke="#C77CFF" d="M2544 1939h0m-1 54h0m-10 16h0m-6 48h0"/>
<path stroke="#7CAE00" d="M2536 1608h0m-2 264h0m-10 66h0m1 21h0m7 13h0m12 7h0m-15 62h0m12 2h0m-10 1h0m11 6h0m-13 2h0m-1 55h0m1 4h0"/>
<path stroke="#00BFC4" d="M2540 2073h0m3 17h0m-13 18h0m14 4h0"/>
<path stroke="#F8766D" d="M2548 1427h0m-1 1h0m2 38h0m3 10h0m7 39h0m2 36h0m-10 5h0m3 10h0m-8 3h0m11 1h0m-7 3h0m11 4h0m-2 12h0m3 1h0m-17 1h0m8 10h0m-2 6h0m9 6h0m1 0h0m-10 2h0m9 1h0m-15 10h0m10 6h0m-8 28h0m7 0h0m-10 21h0m10 24h0m0 27h0m-2 2h0m11 12h0m-12 16h0m10 9h0m0 21h0m-16 15h0m15 23h0m0 6h0m-15 3h0m8 6h0m-4 17h0m13 9h0m-10 31h0m7 1h0m-15 3h0m0 9h0m16 34h0m-5 22h0m5 1h0m1 36h0m-1 3h0m-15 3h0m7 4h0m10 2h0m-3 12h0m-10 10h0m-5 3h0m9 4h0"/>
<path stroke="#C77CFF" d="M2551 1853h0m8 239h0m-7 1h0"/>
<path stroke="#7CAE00" d="M2548 1471h0m12 46h0m-10 42h0m12 13h0m-1 91h0m-9 36h0m-7 71h0m18 69h0m-13 10h0m-6 9h0m15 3h0m2 15h0m-17 47h0m17 1h0m0 55h0m-7 32h0m6 29h0m-6 15h0m-6 25h0m5 4h0m9 1h0m-17 17h0m10 5h0"/>
<path stroke="#00BFC4" d="M2560 2071h0"/>
<path stroke="#F8766D" d="M2578 1405h0m-6 11h0m3 44h0m0 44h0m-3 10h0m-3 3h0m5 6h0m0 14h0m1 3h0m0 6h0m-11 1h0m10 0h0m-2 8h0m-5 14h0m2 17h0m4 9h0m4 15h0m-2 15h0m1 1h0m-2 2h0m-4 20h0m14 16h0m-13 2h0m-3 32h0m1 5h0m1 37h0m4 28h0m3 11h0m-3 4h0m1 3h0m4 12h0m-8 6h0m7 6h0m-10 0h0m7 3h0m2 8h0m-10 4h0m4 0h0m6 10h0m-3 9h0m-5 23h0m5 18h0m0 5h0m-3 31h0m3 6h0m-8 5h0m14 2h0m1 32h0m-7 14h0m-9 38h0m1 7h0m12 2h0m-4 25h0m10 22h0"/>
<path stroke="#C77CFF" d="M2575 1777h0m6 40h0m-5 8h0m-7 149h0m12 1h0m-6 10h0m6 80h0m-17 18h0m18 5h0"/>
<path stroke="#7CAE00" d="M2567 1688h0m8 46h0m-1 158h0m0 19h0m5 128h0m4 63h0m-7 2h0m7 3h0m-11 8h0"/>
<path stroke="#F8766D" d="M2588 1387h0m12 34h0m-13 28h0m0 7h0m0 20h0m1 7h0m-1 3h0m15 2h0m-6 9h0m-7 13h0m-1 3h0m1 3h0m-2 1h0m9 11h0m-4 2h0m2 2h0m1 22h0m-4 12h0m-2 5h0m-4 8h0m6 11h0m11 0h0m-14 16h0m11 5h0m2 14h0m-13 0h0m-3 28h0m13 0h0m6 34h0m-17 0h0m13 7h0m-11 1h0m-1 7h0m1 12h0m-1 6h0m0 3h0m-1 4h0m0 9h0m6 2h0m1 4h0m-2 35h0m-5 3h0m8 0h0m-4 13h0m-5 2h0m11 2h0m-8 12h0m-3 5h0m1 2h0m10 12h0m0 8h0m-2 15h0m2 29h0m6 2h0m-15 14h0m7 2h0m0 32h0m-7 5h0m0 19h0m7 8h0m2 23h0m-10 18h0m9 5h0m-7 14h0m-4 1h0m4 22h0m-1 8h0m6 1h0m2 1h0m-2 3h0m9 0h0m-13 20h0"/>
<path stroke="#C77CFF" d="M2585 1887h0m8 34h0m-5 60h0m3 27h0m-3 18h0m7 39h0m-7 21h0m0 3h0"/>
<path stroke="#7CAE00" d="M2587 1524h0m1 19h0m-1 303h0m5 11h0m3 48h0m-7 4h0m11 162h0m5 17h0m-13 10h0m5 3h0m1 0h0m0 9h0m-8 1h0m8 4h0"/>
<path stroke="#00BFC4" d="M2598 2078h0m-11 36h0"/>
<path stroke="#F8766D" d="M2617 1404h0m-10 13h0m10 2h0m-3 23h0m-8 47h0m12 1h0m5 1h0m-7 1h0m1 4h0m-10 6h0m8 3h0m8 1h0m-9 21h0m-9 12h0m11 1h0m6 9h0m-8 12h0m2 4h0m-9 0h0m9 13h0m-10 0h0m9 2h0m7 6h0m-9 6h0m10 0h0m-10 9h0m3 6h0m-10 10h0m10 9h0m-7 9h0m13 20h0m-16 4h0m9 2h0m-11 24h0m10 11h0m10 18h0m-7 11h0m-1 33h0m0 42h0m-3 9h0m-3 17h0m5 11h0m2 1h0m-2 1h0m9 4h0m-19 1h0m16 1h0m-5 1h0m0 18h0m5 6h0m-7 2h0m1 5h0m-7 17h0m9 7h0m-10 25h0m-2 4h0m5 2h0m10 25h0m3 6h0m-17 8h0m11 17h0m0 73h0m-11 6h0m8 15h0"/>
<path stroke="#C77CFF" d="M2605 2013h0m-1 2h0m0 45h0m12 1h0m-1 4h0m5 26h0"/>
<path stroke="#7CAE00" d="M2611 1460h0m2 101h0m-4 86h0m13 96h0m-14 99h0m3 25h0m4 46h0m0 127h0m-4 17h0m-3 34h0m-2 8h0m9 12h0"/>
<path stroke="#00BFC4" d="M2616 2084h0m4 4h0m3 7h0m-13 6h0m5 4h0m2 6h0"/>
<path stroke="#F8766D" d="M2639 1379h0m-1 5h0m0 10h0m1 22h0m1 6h0m3 0h0m-5 5h0m0 4h0m0 8h0m-6 1h0m7 3h0m4 0h0m-2 1h0m2 11h0m0 4h0m-5 0h0m-1 4h0m5 2h0m-9 0h0m-6 3h0m16 2h0m-6 2h0m3 1h0m3 0h0m-6 1h0m6 5h0m-13 1h0m9 0h0m0 4h0m-13 23h0m11 0h0m-7 0h0m2 5h0m-5 16h0m17 21h0m-15 9h0m14 35h0m-16 10h0m1 2h0m1 5h0m7 4h0m-8 27h0m11 1h0m-5 18h0m0 106h0m9 18h0m-16 4h0m5 22h0m12 34h0m-17 60h0m15 19h0m-15 11h0m15 2h0m-2 23h0m-8 2h0m2 4h0m10 8h0m-11 75h0m0 16h0m1 12h0m-9 17h0m12 0h0"/>
<path stroke="#C77CFF" d="M2627 1966h0m11 67h0m5 14h0m-19 62h0"/>
<path stroke="#7CAE00" d="M2642 1458h0m-2 204h0m-8 218h0m-1 57h0m0 107h0"/>
<path stroke="#00BFC4" d="M2633 2093h0m-1 3h0m5 5h0"/>
<path stroke="#F8766D" d="M2662 1382h0m0 1h0m-9 0h0m6 1h0m-9 4h0m-1 0h0m4 3h0m9 1h0m0 1h0m-12 4h0m-3 1h0m10 3h0m-6 1h0m-6 2h0m11 1h0m-6 0h0m0 1h0m11 1h0m-16 0h0m17 1h0m-12 3h0m5 1h0m-7 1h0m7 2h0m7 1h0m-8 3h0m9 0h0m-8 3h0m9 3h0m-19 3h0m8 3h0m-6 1h0m-1 1h0m-1 4h0m1 1h0m11 2h0m-1 2h0m-1 1h0m6 1h0m-9 0h0m-1 2h0m1 3h0m1 5h0m4 1h0m-4 0h0m6 4h0m-13 2h0m16 1h0m-15 1h0m9 0h0m-3 3h0m10 0h0m-12 2h0m12 2h0m-10 2h0m-1 1h0m-6 0h0m2 1h0m10 1h0m1 1h0m4 1h0m-4 1h0m-8 7h0m10 2h0m-4 12h0m-12 0h0m1 43h0m12 4h0m-8 246h0m1 23h0m0 63h0m11 13h0m-5 9h0m-5 25h0m8 15h0m0 15h0m-11 84h0m-4 27h0m15 4h0m-14 7h0"/>
<path stroke="#C77CFF" d="M2664 1965h0m-13 2h0m10 135h0"/>
<path stroke="#7CAE00" d="M2645 1929h0m9 45h0m0 113h0m-2 5h0m-1 12h0m3 2h0m-9 4h0"/>
<path stroke="#00BFC4" d="M2663 2074h0m-4 2h0m4 0h0m-2 7h0m2 10h0m-8 0h0m-6 4h0m15 2h0m-7 1h0m-11 2h0m2 1h0"/>
<path stroke="#F8766D" d="M2682 1362h0m-9 16h0m-8 3h0m1 2h0m13 0h0m-11 1h0m10 0h0m-2 1h0m-4 5h0m9 5h0m1 1h0m-11 2h0m5 1h0m-2 1h0m4 1h0m-4 0h0m-4 0h0m-6 0h0m8 2h0m-6 1h0m3 1h0m7 6h0m-4 0h0m11 5h0m-5 0h0m-9 0h0m8 1h0m-12 0h0m11 1h0m-6 2h0m-1 1h0m10 1h0m-2 0h0m-2 1h0m-7 0h0m2 3h0m9 1h0m3 0h0m-15 2h0m4 1h0m6 3h0m-9 1h0m13 1h0m-8 4h0m-5 0h0m7 2h0m2 0h0m-8 0h0m3 0h0m2 4h0m9 2h0m-18 2h0m17 0h0m-4 0h0m-11 2h0m1 3h0m11 3h0m-6 2h0m8 1h0m-4 3h0m-8 0h0m-3 2h0m11 0h0m-2 7h0m6 2h0m-7 1h0m-6 0h0m16 1h0m-7 0h0m4 3h0m-8 2h0m4 8h0m-9 11h0m9 7h0m-8 2h0m1 354h0m-4 20h0m10 15h0m-9 5h0m7 3h0m-10 1h0m5 4h0m11 9h0m-7 6h0m2 57h0m-11 28h0m13 1h0m-2 59h0m3 13h0m6 16h0"/>
<path stroke="#C77CFF" d="M2677 1977h0m-3 117h0"/>
<path stroke="#7CAE00" d="M2681 1478h0m-11 461h0m0 11h0m1 127h0m12 26h0"/>
<path stroke="#00BFC4" d="M2680 2077h0m-14 3h0m9 1h0m-10 7h0m17 3h0m-7 0h0m2 2h0m-9 0h0m7 1h0m-1 0h0m6 1h0m-15 0h0m1 2h0m14 4h0m-5 0h0m-8 1h0m0 0h0m5 1h0m-6 1h0"/>
<path stroke="#F8766D" d="M2690 1378h0m0 2h0m7 3h0m-7 0h0m9 0h0m-1 3h0m-1 0h0m-10 0h0m2 0h0m12 0h0m-10 0h0m11 2h0m-7 0h0m3 2h0m-1 0h0m-6 1h0m12 1h0m-18 3h0m3 4h0m5 1h0m7 4h0m-3 2h0m-5 2h0m-7 1h0m6 2h0m0 0h0m-6 2h0m-1 2h0m20 1h0m-9 0h0m9 2h0m-6 1h0m-3 1h0m1 5h0m-7 2h0m6 0h0m-4 0h0m2 1h0m10 2h0m-3 0h0m-6 1h0m-3 1h0m6 0h0m-3 2h0m-10 1h0m3 1h0m5 2h0m8 1h0m-14 2h0m4 0h0m3 1h0m-5 3h0m1 0h0m6 1h0m8 3h0m0 7h0m-18 0h0m13 2h0m-1 0h0m-11 1h0m3 9h0m3 1h0m-5 1h0m9 0h0m-4 5h0m-4 0h0m12 0h0m-8 1h0m8 0h0m-10 4h0m12 2h0m-1 34h0m-15 16h0m15 221h0m-2 126h0m-2 12h0m-2 4h0m0 5h0m7 10h0m-9 7h0m-4 10h0m2 3h0m-4 1h0m5 10h0m1 7h0m9 6h0m-15 6h0m0 4h0m-1 1h0m8 92h0m8 18h0"/>
<path stroke="#C77CFF" d="M2700 1917h0m-3 71h0m-8 126h0"/>
<path stroke="#7CAE00" d="M2699 1428h0m-6 526h0m8 21h0m-6 11h0m0 96h0m-10 20h0m8 0h0m-8 5h0m10 3h0m-4 6h0"/>
<path stroke="#00BFC4" d="M2690 2079h0m3 1h0m0 1h0m7 1h0m-10 3h0m-4 4h0m15 1h0m-17 2h0m5 1h0m6 1h0m-1 1h0m8 1h0m-2 3h0m-8 5h0"/>
<path stroke="#F8766D" d="M2705 1382h0m5 0h0m10 1h0m-6 2h0m-7 0h0m14 0h0m-1 5h0m1 0h0m-5 1h0m-9 0h0m16 1h0m-7 1h0m-9 5h0m3 1h0m9 3h0m-9 0h0m14 2h0m-14 3h0m11 1h0m-13 0h0m11 1h0m-3 3h0m3 1h0m5 1h0m-18 1h0m14 0h0m-10 0h0m9 6h0m-13 0h0m4 2h0m1 7h0m6 1h0m-7 0h0m-3 3h0m12 1h0m2 2h0m-8 1h0m-7 2h0m2 2h0m2 3h0m2 1h0m0 1h0m3 0h0m-2 0h0m-1 4h0m-1 5h0m6 0h0m4 0h0m-14 0h0m3 3h0m-4 0h0m9 0h0m-1 1h0m10 0h0m-1 4h0m-19 2h0m5 1h0m3 0h0m7 0h0m-9 4h0m6 1h0m6 1h0m-16 1h0m8 2h0m-9 0h0m18 0h0m0 2h0m-6 1h0m-5 1h0m2 1h0m6 4h0m1 22h0m0 0h0m-8 3h0m-5 13h0m13 25h0m-10 16h0m8 17h0m-6 20h0m8 234h0m-6 66h0m-2 2h0m9 3h0m-16 6h0m6 18h0m3 2h0m5 7h0m3 0h0m-3 26h0m-7 2h0m-5 3h0m10 85h0m-10 15h0"/>
<path stroke="#C77CFF" d="M2713 1927h0m5 30h0m-4 13h0m7 2h0m-7 18h0m-7 5h0m10 113h0"/>
<path stroke="#7CAE00" d="M2718 1902h0m-4 16h0m-2 4h0m3 154h0m-2 19h0m5 0h0m-2 3h0m-10 0h0m9 1h0m5 1h0m-15 1h0m14 3h0m-8 2h0m-5 1h0m-1 2h0"/>
<path stroke="#00BFC4" d="M2713 2068h0m-8 8h0m19 1h0m-19 3h0m1 3h0m7 5h0m-1 2h0m-5 4h0m10 1h0m3 1h0m-2 0h0m3 0h0m2 1h0m-11 2h0m6 3h0m-6 0h0m1 1h0m-4 0h0m-1 1h0"/>
<path stroke="#F8766D" d="M2734 1363h0m-10 15h0m4 1h0m-3 19h0m9 1h0m-7 1h0m11 1h0m5 1h0m-12 0h0m6 5h0m1 1h0m1 0h0m-1 1h0m1 0h0m-9 1h0m-3 0h0m6 3h0m10 3h0m-16 0h0m10 0h0m-7 7h0m-6 1h0m4 0h0m15 0h0m-12 1h0m8 3h0m-7 2h0m5 2h0m2 6h0m-7 8h0m-6 1h0m13 2h0m-10 0h0m-3 3h0m17 4h0m-1 5h0m-5 8h0m-3 0h0m-6 0h0m3 1h0m-2 0h0m3 0h0m8 2h0m-14 1h0m11 2h0m-9 2h0m11 1h0m-8 25h0m2 6h0m9 20h0m-3 7h0m-13 13h0m12 5h0m0 18h0m-6 12h0m1 18h0m5 94h0m-10 69h0m-3 68h0m3 25h0m2 21h0m7 3h0m-13 90h0m11 10h0m2 5h0m6 8h0m-13 93h0m-4 9h0"/>
<path stroke="#C77CFF" d="M2733 1964h0"/>
<path stroke="#7CAE00" d="M2733 1941h0m5 41h0m0 113h0m-11 2h0m16 1h0m-7 1h0m3 2h0m-2 0h0m-2 2h0m8 1h0m-12 0h0m-2 2h0m1 1h0m5 1h0m-10 0h0m6 0h0"/>
<path stroke="#00BFC4" d="M2730 2077h0m-4 3h0m7 4h0m11 2h0m-19 3h0m4 1h0m14 3h0m-4 2h0m2 3h0m-12 4h0m3 2h0m9 0h0"/>
<path stroke="#F8766D" d="M2748 1342h0m-3 36h0m10 1h0m4 1h0m-13 11h0m3 3h0m5 2h0m1 0h0m-5 0h0m-5 2h0m14 1h0m-4 2h0m-5 3h0m6 0h0m-9 2h0m10 2h0m-6 0h0m2 5h0m0 0h0m-4 3h0m3 1h0m2 0h0m3 1h0m-6 4h0m-1 0h0m2 0h0m4 3h0m-4 2h0m1 2h0m7 2h0m4 1h0m-9 0h0m-6 3h0m0 4h0m2 0h0m2 8h0m-5 1h0m5 2h0m4 1h0m-7 1h0m-5 1h0m5 1h0m1 3h0m-5 5h0m2 2h0m1 2h0m2 3h0m-3 0h0m-3 1h0m0 4h0m12 3h0m1 0h0m-10 0h0m-3 0h0m6 1h0m9 2h0m-10 0h0m0 4h0m11 4h0m0 3h0m2 5h0m-17 7h0m9 3h0m-7 20h0m-2 3h0m2 16h0m9 48h0m5 6h0m-13 7h0m11 28h0m-4 14h0m-3 1h0m-3 6h0m9 13h0m4 4h0m-17 6h0m-1 21h0m5 21h0m12 1h0m1 3h0m-9 40h0m7 18h0m-13 13h0m15 6h0m-3 14h0m-10 42h0m8 5h0m-11 8h0m3 0h0m-3 1h0m11 2h0m6 10h0m-15 19h0m1 0h0m-1 2h0m12 13h0m3 0h0m-4 2h0m-8 7h0m-3 24h0m0 7h0m0 3h0m12 16h0m-5 15h0m8 67h0m-14 2h0m-4 5h0m16 4h0m-2 9h0m-11 10h0"/>
<path stroke="#C77CFF" d="M2753 1769h0m10 186h0m-5 23h0m5 7h0m0 6h0m1 20h0m-5 35h0m3 11h0m-14 15h0m13 11h0"/>
<path stroke="#7CAE00" d="M2762 1670h0m2 136h0m-15 101h0m-3 52h0m1 39h0m16 48h0m1 21h0m-14 38h0m10 5h0"/>
<path stroke="#00BFC4" d="M2755 2076h0m-7 4h0m-4 3h0m0 2h0m5 0h0m5 11h0m-5 4h0m4 1h0m-4 2h0m1 12h0"/>
<path stroke="#F8766D" d="M2765 1415h0m6 2h0m-7 3h0m3 19h0m7 1h0m5 9h0m2 17h0m-2 10h0m-14 36h0m16 3h0m-4 16h0m1 16h0m-14 1h0m15 10h0m0 9h0m-8 8h0m8 30h0m-15 20h0m20 27h0m-8 36h0m-4 16h0m-6 42h0m13 1h0m1 2h0m-7 16h0m4 9h0m2 15h0m0 16h0m-2 26h0m-7 12h0m-1 14h0m7 16h0m-6 8h0m5 30h0m7 20h0m-16 18h0m12 33h0m-1 15h0m-1 6h0m-6 1h0m3 11h0m-9 8h0m13 57h0m-7 1h0"/>
<path stroke="#C77CFF" d="M2777 1858h0m0 49h0m-4 37h0m1 6h0m-10 5h0m14 14h0m0 41h0m2 15h0m-8 22h0m6 0h0m-7 7h0m4 17h0m-11 22h0"/>
<path stroke="#7CAE00" d="M2777 1584h0m-6 365h0m12 128h0m-11 8h0m6 30h0"/>
<path stroke="#00BFC4" d="M2779 2075h0m-10 33h0"/>
<path stroke="#F8766D" d="M2795 1434h0m8 1h0m-11 11h0m-6 14h0m4 6h0m2 1h0m7 23h0m-10 6h0m3 5h0m11 19h0m-1 5h0m-11 13h0m5 32h0m-9 11h0m16 26h0m-9 1h0m1 10h0m-4 25h0m2 27h0m0 21h0m-5 1h0m0 12h0m4 10h0m0 17h0m2 24h0m-3 8h0m-5 28h0m-1 14h0m19 1h0m-4 3h0m-13 5h0m-3 5h0m19 25h0m-11 19h0m1 2h0m6 1h0m-6 14h0m-2 7h0m0 9h0m9 0h0m-8 1h0m-6 20h0m0 15h0m11 13h0m-1 2h0m-8 11h0m-4 21h0m6 8h0m3 8h0m-4 22h0m3 9h0m-1 3h0m-5 11h0m5 18h0m10 1h0m-5 2h0m2 2h0m-4 2h0m-1 33h0"/>
<path stroke="#C77CFF" d="M2790 1686h0m-4 116h0m17 88h0m-9 13h0m-7 8h0m6 70h0m-8 4h0m0 6h0m7 23h0m7 9h0m0 0h0m-10 0h0m3 4h0m-2 10h0m-1 26h0m13 3h0m-17 7h0m2 16h0m8 19h0"/>
<path stroke="#7CAE00" d="M2787 1476h0m5 333h0m9 22h0m3 91h0m-11 1h0m-8 66h0m7 31h0m8 34h0m-4 53h0"/>
<path stroke="#00BFC4" d="M2786 2088h0"/>
<path stroke="#F8766D" d="M2822 1415h0m-18 6h0m8 62h0m1 4h0m-3 10h0m-4 0h0m12 4h0m-3 26h0m3 1h0m-7 11h0m12 3h0m-10 9h0m-1 2h0m-6 21h0m7 0h0m1 4h0m-8 16h0m16 0h0m-9 28h0m3 44h0m-3 49h0m10 4h0m-2 8h0m-16 12h0m16 3h0m-7 3h0m10 1h0m-12 28h0m-8 2h0m9 14h0m8 7h0m-2 11h0m-13 1h0m0 7h0m9 23h0m-2 1h0m8 4h0m-17 1h0m9 2h0m10 4h0m0 0h0m-14 11h0m-4 6h0m3 1h0m-2 11h0m7 6h0m10 0h0m-12 1h0m-6 1h0m0 3h0m17 2h0m-18 1h0m18 5h0m-2 4h0m-12 0h0m-1 0h0m6 6h0m4 7h0m-6 25h0m11 1h0m-17 8h0m16 10h0m-8 53h0m6 18h0m-12 45h0"/>
<path stroke="#C77CFF" d="M2812 1846h0m8 8h0m2 3h0m-16 23h0m7 6h0m1 2h0m6 3h0m1 6h0m0 8h0m-8 4h0m-8 8h0m9 2h0m-2 4h0m0 1h0m10 3h0m-16 9h0m-1 1h0m13 7h0m-5 2h0m-9 15h0m1 2h0m0 14h0m8 14h0m-8 38h0m14 21h0m-8 12h0m10 2h0m-9 1h0"/>
<path stroke="#7CAE00" d="M2813 1392h0m-6 187h0m-3 177h0m7 71h0m4 21h0m-9 60h0m-1 55h0m7 55h0m4 69h0m-4 27h0m-4 0h0"/>
<path stroke="#F8766D" d="M2835 1448h0m3 12h0m-1 3h0m-13 0h0m11 3h0m-7 7h0m7 11h0m-4 3h0m5 5h0m-5 2h0m7 13h0m-6 7h0m6 4h0m-4 20h0m-9 15h0m13 1h0m-2 18h0m-1 3h0m-1 4h0m-10 8h0m11 16h0m-1 9h0m-5 0h0m6 8h0m6 6h0m2 4h0m-11 43h0m-4 13h0m-1 9h0m8 19h0m-2 19h0m11 40h0m-3 26h0m-3 29h0m-14 12h0m11 7h0m1 0h0m-10 19h0m-1 8h0m11 2h0m-2 12h0m2 4h0m-2 1h0m-4 7h0m3 14h0m5 0h0m-8 5h0m6 25h0m-12 8h0m10 7h0m5 12h0m1 3h0m-5 11h0m-7 16h0m7 17h0m1 6h0m7 42h0"/>
<path stroke="#C77CFF" d="M2840 1879h0m-4 6h0m2 3h0m6 11h0m-18 4h0m2 2h0m7 10h0m-1 3h0m-4 8h0m-5 4h0m10 2h0m-7 6h0m9 1h0m3 8h0m-9 21h0m11 1h0m-6 16h0m-4 29h0m-1 12h0m-6 21h0m17 11h0m-13 0h0m-2 10h0m15 0h0m-18 1h0m19 14h0m-8 5h0"/>
<path stroke="#7CAE00" d="M2831 1808h0m13 28h0m-14 17h0m5 14h0m-1 47h0m1 12h0m-1 16h0m9 61h0m-1 54h0m-15 54h0"/>
<path stroke="#00BFC4" d="M2830 2100h0"/>
<path stroke="#F8766D" d="M2852 1431h0m-5 7h0m7 7h0m9 3h0m-15 7h0m6 6h0m2 4h0m-1 17h0m-8 1h0m14 8h0m-4 5h0m-10 12h0m8 6h0m-3 0h0m-6 14h0m13 25h0m-10 2h0m-3 18h0m6 5h0m11 36h0m-9 7h0m-10 107h0m5 1h0m14 4h0m-6 21h0m-13 13h0m6 18h0m6 2h0m6 14h0m2 11h0m-20 18h0m12 9h0m7 3h0m-19 16h0m10 2h0m8 1h0m-9 1h0m3 9h0m7 12h0m-18 5h0m15 11h0m-10 5h0m6 3h0m-1 4h0m-11 4h0m12 4h0m0 2h0m-8 7h0m-1 8h0m-2 2h0m11 7h0m-10 0h0m10 1h0m-6 3h0m2 13h0m-1 47h0m3 16h0m2 2h0m-1 36h0m3 10h0"/>
<path stroke="#C77CFF" d="M2853 1867h0m-8 9h0m4 10h0m14 1h0m-7 19h0m-1 2h0m-1 9h0m8 10h0m-9 16h0m-1 40h0m-4 6h0m7 8h0m1 9h0m-5 32h0m1 6h0m2 10h0m8 4h0m-17 15h0m4 6h0m11 1h0m-11 5h0m12 5h0m-5 1h0m0 4h0"/>
<path stroke="#7CAE00" d="M2863 1447h0m-17 8h0m4 367h0m1 30h0m-7 3h0m12 15h0m-1 6h0m0 10h0m-11 26h0m13 9h0m-10 0h0m2 20h0m7 26h0m-6 4h0m13 7h0m-7 127h0"/>
<path stroke="#F8766D" d="M2866 1406h0m0 10h0m1 4h0m10 24h0m0 3h0m-9 5h0m12 0h0m-5 1h0m1 5h0m-6 7h0m7 7h0m-6 3h0m-4 2h0m6 4h0m-6 2h0m2 5h0m-2 6h0m3 2h0m-2 3h0m15 3h0m-7 52h0m-9 13h0m0 6h0m16 15h0m-11 14h0m3 31h0m-4 1h0m7 46h0m-1 12h0m-12 3h0m11 21h0m2 7h0m-2 26h0m-5 7h0m7 3h0m-13 5h0m0 0h0m11 5h0m0 4h0m-7 5h0m8 13h0m-1 1h0m-8 4h0m10 3h0m-8 33h0m7 5h0m-2 8h0m5 2h0m-14 13h0m11 10h0m2 9h0m-2 3h0m-10 6h0m13 2h0m-3 1h0m-10 0h0m0 1h0m10 3h0m2 5h0m-13 5h0m12 1h0m-11 31h0m14 8h0m-6 3h0m4 36h0m5 21h0m-8 13h0m7 24h0m-7 4h0"/>
<path stroke="#C77CFF" d="M2876 1891h0m0 2h0m-9 12h0m10 2h0m-10 2h0m8 10h0m2 10h0m-2 35h0m-4 2h0m11 1h0m-7 18h0m4 14h0m-12 4h0m9 3h0m-1 2h0m-9 20h0m0 6h0m9 0h0m-9 4h0m17 0h0m-17 8h0m6 22h0m-8 10h0m11 16h0m1 15h0"/>
<path stroke="#7CAE00" d="M2877 1621h0m-9 66h0m14 47h0m1 23h0m-18 50h0m18 52h0m-7 17h0m-7 2h0m8 29h0m-13 19h0"/>
<path stroke="#00BFC4" d="M2878 2070h0m-11 42h0"/>
<path stroke="#F8766D" d="M2886 1409h0m8 4h0m-9 23h0m2 4h0m-3 0h0m12 0h0m7 0h0m-18 3h0m14 3h0m4 17h0m-9 10h0m-6 16h0m3 1h0m2 2h0m-6 1h0m2 18h0m5 2h0m6 6h0m-10 6h0m1 13h0m-4 22h0m9 8h0m-4 22h0m12 4h0m-16 17h0m13 10h0m2 1h0m-16 7h0m4 2h0m-2 21h0m2 4h0m8 13h0m-12 31h0m15 12h0m1 1h0m-16 5h0m15 10h0m-17 3h0m18 25h0m-11 7h0m11 0h0m-10 1h0m-3 6h0m12 26h0m0 44h0m1 15h0m-1 9h0m-8 3h0m-8 9h0m10 0h0m-2 5h0m6 3h0m-4 10h0m-7 1h0m14 5h0m0 3h0m-17 1h0m16 42h0m1 72h0m-17 18h0m-1 54h0"/>
<path stroke="#C77CFF" d="M2891 1831h0m11 54h0m2 40h0m-8 37h0m-11 33h0m1 27h0m0 11h0m4 1h0m-1 1h0m0 2h0m-1 6h0m4 13h0m0 25h0m1 10h0m-7 0h0"/>
<path stroke="#7CAE00" d="M2902 1793h0m0 134h0m-3 3h0m4 36h0m0 30h0m-1 0h0m1 37h0m-7 14h0m5 19h0m-2 27h0m3 1h0m-4 9h0"/>
<path stroke="#00BFC4" d="M2904 2072h0"/>
<path stroke="#F8766D" d="M2910 1457h0m7 15h0m-6 1h0m0 5h0m11 13h0m-6 1h0m1 25h0m0 6h0m-8 34h0m13 4h0m-7 9h0m1 13h0m-7 3h0m8 22h0m-1 9h0m-3 2h0m4 3h0m-2 7h0m-10 12h0m11 5h0m-5 17h0m4 2h0m0 35h0m1 10h0m-1 17h0m1 18h0m1 4h0m-13 3h0m13 2h0m-1 2h0m-8 30h0m11 17h0m-13 3h0m10 20h0m-3 9h0m7 0h0m-11 19h0m-1 8h0m2 7h0m-4 4h0m10 0h0m0 18h0m0 17h0m0 7h0m1 8h0m-4 26h0m-2 1h0m5 8h0m1 20h0m0 22h0m0 27h0m-2 16h0"/>
<path stroke="#C77CFF" d="M2915 1819h0m-4 92h0m-3 6h0m3 57h0m-6 56h0m5 6h0m14 20h0m-7 1h0m-2 13h0m-5 12h0m14 1h0"/>
<path stroke="#7CAE00" d="M2911 1458h0m3 286h0m5 13h0m3 185h0m-8 55h0m-9 81h0m9 28h0m3 1h0m-8 3h0"/>
<path stroke="#00BFC4" d="M2917 2089h0m-4 14h0m-8 8h0"/>
<path stroke="#F8766D" d="M2930 1372h0m-2 35h0m8 14h0m-4 2h0m2 3h0m10 6h0m-4 7h0m2 6h0m-6 6h0m0 0h0m0 6h0m-10 4h0m2 0h0m0 2h0m0 2h0m9 12h0m-4 1h0m4 1h0m6 21h0m-8 1h0m-8 24h0m14 13h0m-3 19h0m-6 29h0m-4 12h0m4 0h0m11 22h0m-6 13h0m-9 20h0m9 17h0m-2 5h0m-1 16h0m-5 8h0m0 14h0m2 14h0m6 1h0m-1 8h0m-5 3h0m4 3h0m5 21h0m-8 19h0m-3 2h0m13 13h0m-5 32h0m-8 2h0m-1 27h0m0 0h0m3 1h0m3 6h0m-3 8h0m-3 9h0m5 2h0m-4 4h0m14 8h0m-9 38h0m-2 20h0m-7 6h0m11 10h0m6 76h0m-2 10h0m-4 1h0"/>
<path stroke="#C77CFF" d="M2937 1867h0m-4 28h0m4 14h0m1 6h0m-9 8h0m2 8h0m1 36h0m-4 26h0m0 11h0m2 3h0m3 6h0m9 5h0m-5 1h0m0 7h0m-11 32h0m13 4h0m-3 43h0"/>
<path stroke="#7CAE00" d="M2943 1603h0m-14 109h0m9 9h0m-12 31h0m4 126h0m6 12h0m-10 50h0m7 148h0m-3 15h0m0 8h0m-2 0h0m11 3h0"/>
<path stroke="#F8766D" d="M2947 1368h0m2 1h0m-4 42h0m3 4h0m13 3h0m1 15h0m-16 8h0m11 2h0m-2 1h0m6 6h0m-5 2h0m7 2h0m-17 28h0m11 1h0m-7 19h0m9 34h0m-8 8h0m-1 38h0m-3 71h0m-1 18h0m1 0h0m-2 31h0m4 21h0m6 17h0m-7 42h0m14 36h0m0 20h0m-17 26h0m17 5h0m-1 100h0m0 1h0m-15 0h0m-1 6h0m17 28h0m-11 10h0m-5 8h0m17 50h0"/>
<path stroke="#C77CFF" d="M2948 1915h0m15 56h0m-2 18h0m2 48h0m-17 1h0m12 4h0m5 4h0m-19 12h0m17 20h0m-6 7h0m-7 29h0"/>
<path stroke="#7CAE00" d="M2950 1761h0m4 91h0m7 46h0m1 114h0m-7 95h0m-8 1h0m0 2h0m17 1h0"/>
<path stroke="#00BFC4" d="M2955 2077h0m-8 1h0"/>
<path stroke="#F8766D" d="M2972 1390h0m-4 18h0m5 8h0m-2 6h0m9 1h0m2 14h0m0 42h0m-10 26h0m-6 1h0m-1 4h0m0 64h0m4 3h0m-3 13h0m-1 12h0m14 31h0m3 19h0m-16 1h0m0 9h0m10 10h0m-9 0h0m6 85h0m1 49h0m8 14h0m-14 31h0m6 29h0m5 7h0m-13 18h0m16 11h0m-14 52h0m8 22h0m-9 23h0m7 43h0m7 50h0"/>
<path stroke="#C77CFF" d="M2982 1789h0m-15 156h0m3 123h0m-1 5h0"/>
<path stroke="#7CAE00" d="M2965 1858h0m17 30h0m-7 25h0m-2 24h0m9 138h0m-12 12h0"/>
<path stroke="#00BFC4" d="M2975 2109h0m-9 4h0"/>
<path stroke="#F8766D" d="M2996 1410h0m-8 6h0m12 23h0m-8 5h0m1 21h0m4 14h0m-10 50h0m5 33h0m0 27h0m8 17h0m-7 41h0m11 6h0m-12 21h0m8 116h0m-14 99h0m4 11h0m4 11h0m-1 16h0m3 20h0m-4 53h0m3 23h0m-1 54h0"/>
<path stroke="#C77CFF" d="M2992 1886h0m1 15h0m0 14h0m10 55h0m-11 5h0m-2 9h0m2 27h0m11 5h0m-14 27h0m15 23h0m0 5h0m-10 10h0m9 3h0m-15 19h0m-4 9h0"/>
<path stroke="#7CAE00" d="M2992 1668h0m2 134h0m-1 64h0m10 19h0m-10 62h0m1 95h0m-7 23h0m-2 25h0m18 12h0m-12 2h0m-6 5h0"/>
<path stroke="#F8766D" d="M3019 1430h0m1 74h0m-13 9h0m12 30h0m-7 48h0m-8 10h0m8 8h0m4 26h0m8 16h0m-5 26h0m-9 97h0m7 3h0m-3 138h0m-9 32h0m5 58h0m5 55h0"/>
<path stroke="#C77CFF" d="M3006 1861h0m17 39h0m-5 5h0m-2 19h0m-11 30h0m17 52h0m-15 17h0m-2 62h0m1 3h0"/>
<path stroke="#7CAE00" d="M3014 1577h0m9 24h0m-8 337h0m4 107h0m-13 51h0m15 11h0m3 1h0"/>
<path stroke="#00BFC4" d="M3018 2104h0m-1 6h0"/>
<path stroke="#F8766D" d="M3032 1428h0m9 35h0m-6 9h0m-10 33h0m17 32h0m-18 19h0m8 23h0m-1 5h0m9 6h0m-7 0h0m0 5h0m11 3h0m-7 0h0m-10 1h0m15 20h0m-2 4h0m0 6h0m-7 2h0m-7 9h0m6 9h0m-7 6h0m17 8h0m-1 66h0m-8 30h0m-6 1h0m-1 113h0m-1 7h0m17 21h0m-1 119h0"/>
<path stroke="#C77CFF" d="M3042 1905h0m-9 40h0m10 19h0m-16 40h0m5 11h0m11 22h0m-16 13h0m5 1h0m-8 4h0m17 1h0m-8 5h0m-7 7h0m7 8h0m0 10h0m7 15h0"/>
<path stroke="#7CAE00" d="M3037 1685h0m3 145h0m-6 41h0m9 137h0m-10 80h0m8 7h0m-15 5h0m-1 9h0m13 3h0"/>
<path stroke="#00BFC4" d="M3026 2076h0"/>
<path stroke="#F8766D" d="M3056 1414h0m-9 1h0m5 69h0m6 35h0m3 27h0m0 3h0m-5 7h0m-5 13h0m8 35h0m-4 6h0m-7 13h0m-3 19h0m16 57h0m-13 40h0m13 152h0m-13 96h0m11 5h0m2 70h0"/>
<path stroke="#C77CFF" d="M3060 1930h0m1 9h0m0 3h0m0 60h0m-6 7h0m9 4h0m-11 24h0m6 4h0m2 7h0m-8 5h0m6 12h0m-6 13h0m-6 22h0"/>
<path stroke="#7CAE00" d="M3050 1917h0m8 61h0m-10 13h0m7 40h0"/>
<path stroke="#00BFC4" d="M3054 2106h0m2 8h0"/>
<path stroke="#F8766D" d="M3083 1380h0m-2 44h0m1 3h0m1 17h0m-9 3h0m-7 4h0m5 9h0m-5 10h0m5 3h0m-7 65h0m3 9h0m-2 4h0m5 0h0m11 5h0m-17 9h0m0 8h0m18 11h0m-2 5h0m-16 59h0m17 26h0m-17 124h0m12 46h0m6 57h0m-1 9h0m-16 70h0m6 7h0m12 8h0m-14 19h0"/>
<path stroke="#C77CFF" d="M3071 1999h0m0 1h0m6 13h0m-12 5h0m1 12h0m-1 61h0m1 17h0"/>
<path stroke="#7CAE00" d="M3068 1657h0m4 55h0m10 79h0m-18 319h0"/>
<path stroke="#00BFC4" d="M3066 2091h0m2 9h0m7 15h0"/>
<path stroke="#F8766D" d="M3085 1378h0m12 4h0m0 7h0m-6 30h0m11 0h0m-13 15h0m14 25h0m-17 0h0m11 65h0m-6 1h0m6 25h0m-7 1h0m8 1h0m2 14h0m-3 0h0m-2 293h0m-6 2h0m4 22h0m-5 2h0m2 13h0m9 23h0m-13 172h0"/>
<path stroke="#C77CFF" d="M3098 1928h0m-9 37h0m14 43h0m-5 7h0m1 37h0"/>
<path stroke="#7CAE00" d="M3090 1795h0m9 52h0m-1 27h0m-1 18h0m0 8h0m-2 215h0"/>
<path stroke="#00BFC4" d="M3090 2087h0m-2 3h0"/>
<path stroke="#F8766D" d="M3114 1359h0m-7 3h0m11 8h0m-4 39h0m0 28h0m-1 23h0m0 0h0m1 1h0m2 13h0m-9 12h0m-1 21h0m9 3h0m-8 15h0m-2 25h0m14 13h0m-5 9h0m1 67h0m5 18h0m-8 79h0m-5 42h0m-2 65h0m2 11h0m15 30h0m-15 32h0m6 2h0m2 11h0m0 13h0m-6 8h0m-2 56h0m11 41h0"/>
<path stroke="#C77CFF" d="M3114 1932h0m-6 5h0m5 20h0m-1 146h0"/>
<path stroke="#7CAE00" d="M3113 1595h0m-6 131h0m14 71h0m-14 48h0m0 22h0m7 100h0m-4 99h0"/>
<path stroke="#00BFC4" d="M3107 2101h0"/>
<path stroke="#F8766D" d="M3139 1493h0m-10 8h0m14 20h0m-3 106h0m-10 169h0m1 82h0m10 14h0m-10 1h0"/>
<path stroke="#C77CFF" d="M3131 1868h0m9 223h0"/>
<path stroke="#7CAE00" d="M3141 1606h0m-5 266h0m2 12h0m0 24h0m-7 29h0m0 3h0m1 168h0"/>
<path stroke="#F8766D" d="M3155 1404h0m5 30h0m-11 11h0m6 7h0m-5 16h0m-4 3h0m12 0h0m0 2h0m0 26h0m5 4h0m-14 2h0m-5 1h0m12 1h0m-8 1h0m0 3h0m6 9h0m-6 7h0m7 7h0m-6 49h0m9 280h0m-11 36h0m2 76h0"/>
<path stroke="#C77CFF" d="M3162 1916h0m-4 144h0m-8 52h0"/>
<path stroke="#7CAE00" d="M3163 1400h0m-15 443h0"/>
<path stroke="#00BFC4" d="M3149 2114h0"/>
<path stroke="#F8766D" d="M3179 1425h0m3 29h0m2 18h0m-6 3h0m-12 6h0m2 2h0m1 3h0m0 21h0m-2 5h0m0 22h0m4 1h0m-4 2h0m12 5h0m-7 17h0m0 13h0m-3 25h0m11 6h0m-3 30h0m-7 224h0m1 1h0m-4 54h0m9 16h0m2 17h0"/>
<path stroke="#C77CFF" d="M3167 1887h0m12 18h0m-5 7h0m8 3h0m-1 83h0m2 100h0"/>
<path stroke="#7CAE00" d="M3168 1467h0m1 34h0m14 88h0m-17 55h0m17 391h0m-13 64h0"/>
<path stroke="#00BFC4" d="M3172 2112h0"/>
<path stroke="#F8766D" d="M3194 1350h0m10 105h0m-7 7h0m-1 9h0m-3 4h0m10 23h0m-8 2h0m-1 6h0m2 0h0m-7 1h0m4 0h0m-4 3h0m4 17h0m6 23h0m-13 23h0m10 12h0m-6 56h0m0 51h0m3 113h0m-3 48h0m6 38h0m5 4h0m-4 1h0m-11 10h0m7 12h0m-1 16h0m0 4h0m1 2h0m1 1h0m3 4h0m-1 8h0"/>
<path stroke="#C77CFF" d="M3194 2016h0m7 1h0m-4 24h0m-12 3h0"/>
<path stroke="#7CAE00" d="M3187 1887h0"/>
<path stroke="#00BFC4" d="M3199 2100h0m-4 6h0"/>
<path stroke="#F8766D" d="M3214 1339h0m-3 91h0m4 30h0m-6 13h0m12 3h0m-4 4h0m6 11h0m-7 10h0m1 18h0m-6 3h0m-2 5h0m4 23h0m-5 14h0m7 3h0m3 8h0m-4 41h0m-7 13h0m1 26h0m1 23h0m1 12h0m8 82h0m-2 58h0m0 5h0m-5 38h0m4 4h0m-7 9h0m11 4h0m-3 58h0m-11 53h0m13 53h0"/>
<path stroke="#C77CFF" d="M3215 1915h0m1 4h0m-1 28h0m2 12h0m-11 52h0m9 47h0m0 13h0m-1 10h0m2 30h0"/>
<path stroke="#7CAE00" d="M3214 1610h0m5 69h0m-10 70h0m1 55h0m-4 41h0m2 20h0m14 38h0m0 0h0m-8 20h0m2 173h0m-8 19h0"/>
<path stroke="#00BFC4" d="M3215 2071h0m-2 13h0m-5 21h0"/>
<path stroke="#F8766D" d="M3230 1421h0m9 59h0m-10 31h0m-2 4h0m0 6h0m11 46h0m-1 19h0m-9 28h0m-1 170h0m13 24h0m-13 57h0m1 1h0m2 7h0m6 20h0m6 15h0m-14 10h0m14 51h0m-1 36h0m-16 51h0"/>
<path stroke="#C77CFF" d="M3237 1867h0m1 39h0m1 28h0m3 10h0m-14 2h0m-1 29h0m2 35h0m6 53h0m8 34h0"/>
<path stroke="#7CAE00" d="M3228 1485h0m0 15h0m13 11h0m-14 319h0m4 17h0m7 7h0m5 61h0m-7 1h0m-7 110h0m15 33h0m-13 34h0"/>
<path stroke="#00BFC4" d="M3233 2088h0"/>
<path stroke="#F8766D" d="M3263 1438h0m-16 12h0m8 1h0m9 8h0m-15 14h0m0 7h0m6 44h0m0 19h0m-6 15h0m10 0h0m1 34h0m-15 112h0m3 91h0m1 34h0m10 3h0m5 62h0m-9 4h0m9 24h0m-2 4h0m-7 6h0m-4 43h0m-1 31h0m4 19h0m-4 56h0"/>
<path stroke="#C77CFF" d="M3255 1931h0m-3 5h0m-1 120h0m7 13h0m-4 13h0"/>
<path stroke="#7CAE00" d="M3262 1643h0m-12 165h0m13 22h0m-4 24h0m-8 4h0m-4 45h0m12 8h0m-9 72h0"/>
<path stroke="#00BFC4" d="M3263 2110h0"/>
<path stroke="#F8766D" d="M3272 1414h0m-4 7h0m12 20h0m-13 9h0m12 3h0m-9 1h0m-5 8h0m1 10h0m14 4h0m-8 5h0m-7 5h0m0 15h0m15 5h0m-7 7h0m6 188h0m1 21h0m-14 77h0m15 46h0m-6 23h0m0 52h0m-8 2h0m1 3h0m-3 11h0m0 20h0m11 54h0m-9 3h0m12 66h0"/>
<path stroke="#C77CFF" d="M3266 1914h0m6 66h0m2 13h0m5 35h0m-1 32h0m1 11h0m1 0h0m0 13h0m-15 1h0"/>
<path stroke="#7CAE00" d="M3267 1707h0m6 155h0m-9 31h0m16 15h0m-9 22h0m-3 175h0"/>
<path stroke="#00BFC4" d="M3270 2074h0"/>
<path stroke="#F8766D" d="M3288 1390h0m7 26h0m5 36h0m-2 11h0m2 23h0m-13 7h0m12 15h0m-15 49h0m18 167h0m-11 129h0m12 7h0m-3 9h0m-4 34h0m5 19h0m-13 15h0m3 30h0m10 81h0m-5 48h0"/>
<path stroke="#C77CFF" d="M3286 1941h0m18 35h0"/>
<path stroke="#7CAE00" d="M3298 1707h0m-9 127h0m4 3h0m-6 132h0m14 58h0m-13 59h0m4 24h0"/>
<path stroke="#F8766D" d="M3309 1420h0m-3 47h0m1 31h0m4 6h0m-5 8h0m6 66h0m4 91h0m-6 17h0m-1 74h0m-4 84h0m3 20h0m3 5h0m-4 34h0m1 2h0m-1 7h0m-3 4h0m7 27h0m3 94h0"/>
<path stroke="#C77CFF" d="M3315 1955h0m1 138h0"/>
<path stroke="#7CAE00" d="M3315 1609h0m-5 170h0m-2 16h0m-2 152h0"/>
</g>
<path d="M89.3 645.2V1080.2M88.6 1079.6H1692.7" stroke="#000" stroke-width="1.6" fill="none"/>
<path d="M85.8 1047.4h3M85.8 950.3h3M85.8 853.2h3M85.8 756.1h3M85.8 659.0h3M164.0 1080.3v2M257.4 1080.3v2M350.8 1080.3v2M444.2 1080.3v2M537.6 1080.3v2M631.0 1080.3v2M724.4 1080.3v2M817.8 1080.3v2M911.2 1080.3v2M1004.6 1080.3v2M1098.0 1080.3v2M1191.4 1080.3v2M1284.8 1080.3v2M1378.2 1080.3v2M1471.6 1080.3v2M1565.0 1080.3v2" stroke="#333" stroke-width="1.3" fill="none"/>
<g font-family="Liberation Serif, Times New Roman, serif" fill="#4d4d4d" font-size="21">
<text x="84.2" y="1054.7" text-anchor="end">0.00</text>
<text x="84.2" y="957.6" text-anchor="end">0.25</text>
<text x="84.2" y="860.5" text-anchor="end">0.50</text>
<text x="84.2" y="763.4" text-anchor="end">0.75</text>
<text x="84.2" y="666.3" text-anchor="end">1.00</text>
<text x="164.0" y="1099.8" text-anchor="middle">1</text>
<text x="257.4" y="1099.8" text-anchor="middle">2</text>
<text x="350.8" y="1099.8" text-anchor="middle">3</text>
<text x="444.2" y="1099.8" text-anchor="middle">4</text>
<text x="537.6" y="1099.8" text-anchor="middle">5</text>
<text x="631.0" y="1099.8" text-anchor="middle">6</text>
<text x="724.4" y="1099.8" text-anchor="middle">7</text>
<text x="817.8" y="1099.8" text-anchor="middle">8</text>
<text x="911.2" y="1099.8" text-anchor="middle">9</text>
<text x="1004.6" y="1099.8" text-anchor="middle">10</text>
<text x="1098.0" y="1099.8" text-anchor="middle">11</text>
<text x="1191.4" y="1099.8" text-anchor="middle">12</text>
<text x="1284.8" y="1099.8" text-anchor="middle">13</text>
<text x="1378.2" y="1099.8" text-anchor="middle">14</text>
<text x="1471.6" y="1099.8" text-anchor="middle">15</text>
<text x="1565.0" y="1099.8" text-anchor="middle">16</text>
</g>
<g font-family="Liberation Serif, Times New Roman, serif">
<text transform="translate(39 862.5) rotate(-90)" font-size="26" text-anchor="middle">Fst</text>
<text x="880.8" y="1143.8" font-size="45" text-anchor="middle">Chromosome</text>
<ellipse cx="1718" cy="789.2" rx="15.7" ry="17" fill="#F97B72"/>
<ellipse cx="1721" cy="850.2" rx="15.7" ry="17" fill="#941F94"/>
<ellipse cx="1717.7" cy="918.7" rx="15.7" ry="17" fill="#92D050"/>
<ellipse cx="1721" cy="991" rx="15.7" ry="17" fill="#00B0F0"/>
<text x="1750.4" y="799.7" font-size="43.5">Atlantic</text>
<text x="1752.6" y="870.2" font-size="43.5">Pacific</text>
<text x="1749.5" y="934.4" font-size="43.5">Common</text>
<text x="1750" y="1006" font-size="43.5">Differentiating</text>
</g>
</svg></body></html>
